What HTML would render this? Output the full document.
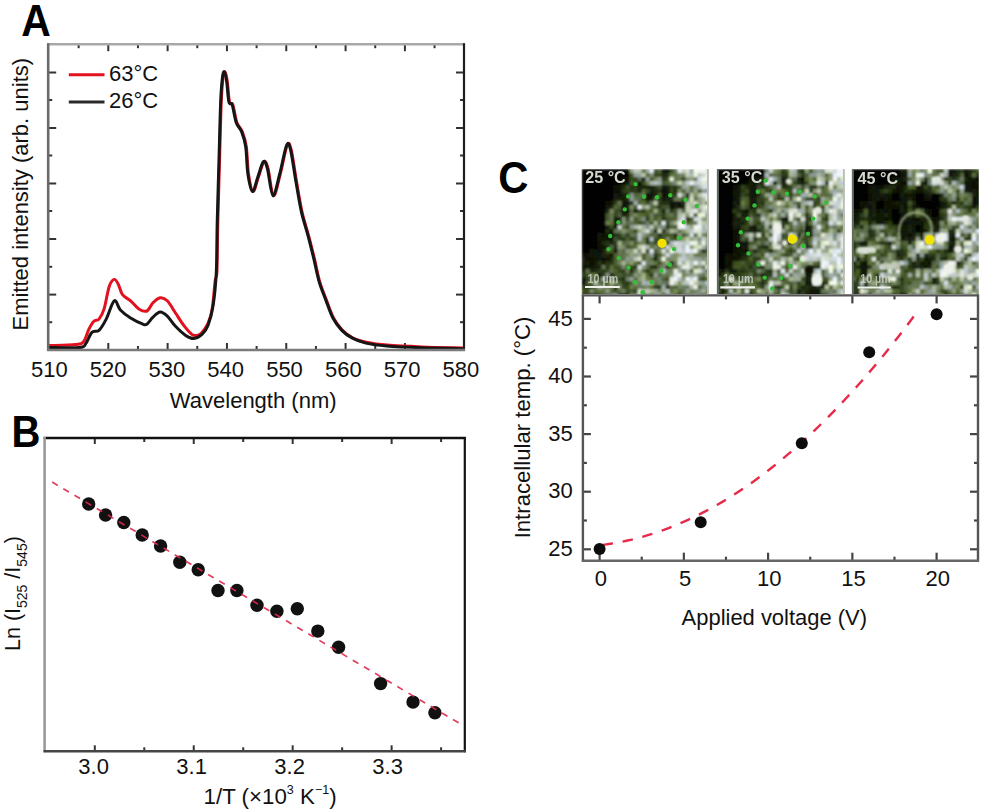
<!DOCTYPE html>
<html><head><meta charset="utf-8"><style>
html,body{margin:0;padding:0;background:#fff;}
svg{display:block;font-family:"Liberation Sans", sans-serif;}
</style></head><body>
<svg width="981" height="811" viewBox="0 0 981 811">
<rect width="981" height="811" fill="#fff"/>
<line x1="48.20" y1="72.50" x2="56.20" y2="72.50" stroke="#333" stroke-width="2" />
<line x1="464.00" y1="72.50" x2="456.00" y2="72.50" stroke="#333" stroke-width="2" />
<line x1="48.20" y1="100.00" x2="52.20" y2="100.00" stroke="#333" stroke-width="2" />
<line x1="464.00" y1="100.00" x2="460.00" y2="100.00" stroke="#333" stroke-width="2" />
<line x1="48.20" y1="128.00" x2="56.20" y2="128.00" stroke="#333" stroke-width="2" />
<line x1="464.00" y1="128.00" x2="456.00" y2="128.00" stroke="#333" stroke-width="2" />
<line x1="48.20" y1="155.50" x2="52.20" y2="155.50" stroke="#333" stroke-width="2" />
<line x1="464.00" y1="155.50" x2="460.00" y2="155.50" stroke="#333" stroke-width="2" />
<line x1="48.20" y1="183.50" x2="56.20" y2="183.50" stroke="#333" stroke-width="2" />
<line x1="464.00" y1="183.50" x2="456.00" y2="183.50" stroke="#333" stroke-width="2" />
<line x1="48.20" y1="211.00" x2="52.20" y2="211.00" stroke="#333" stroke-width="2" />
<line x1="464.00" y1="211.00" x2="460.00" y2="211.00" stroke="#333" stroke-width="2" />
<line x1="48.20" y1="239.00" x2="56.20" y2="239.00" stroke="#333" stroke-width="2" />
<line x1="464.00" y1="239.00" x2="456.00" y2="239.00" stroke="#333" stroke-width="2" />
<line x1="48.20" y1="266.80" x2="52.20" y2="266.80" stroke="#333" stroke-width="2" />
<line x1="464.00" y1="266.80" x2="460.00" y2="266.80" stroke="#333" stroke-width="2" />
<line x1="48.20" y1="294.60" x2="56.20" y2="294.60" stroke="#333" stroke-width="2" />
<line x1="464.00" y1="294.60" x2="456.00" y2="294.60" stroke="#333" stroke-width="2" />
<line x1="48.20" y1="322.20" x2="52.20" y2="322.20" stroke="#333" stroke-width="2" />
<line x1="464.00" y1="322.20" x2="460.00" y2="322.20" stroke="#333" stroke-width="2" />
<line x1="78.64" y1="44.20" x2="78.64" y2="48.20" stroke="#333" stroke-width="2" />
<line x1="78.64" y1="350.00" x2="78.64" y2="346.00" stroke="#333" stroke-width="2" />
<line x1="108.30" y1="44.20" x2="108.30" y2="51.20" stroke="#333" stroke-width="2" />
<line x1="108.30" y1="350.00" x2="108.30" y2="343.00" stroke="#333" stroke-width="2" />
<line x1="137.96" y1="44.20" x2="137.96" y2="48.20" stroke="#333" stroke-width="2" />
<line x1="137.96" y1="350.00" x2="137.96" y2="346.00" stroke="#333" stroke-width="2" />
<line x1="167.62" y1="44.20" x2="167.62" y2="51.20" stroke="#333" stroke-width="2" />
<line x1="167.62" y1="350.00" x2="167.62" y2="343.00" stroke="#333" stroke-width="2" />
<line x1="197.28" y1="44.20" x2="197.28" y2="48.20" stroke="#333" stroke-width="2" />
<line x1="197.28" y1="350.00" x2="197.28" y2="346.00" stroke="#333" stroke-width="2" />
<line x1="226.94" y1="44.20" x2="226.94" y2="51.20" stroke="#333" stroke-width="2" />
<line x1="226.94" y1="350.00" x2="226.94" y2="343.00" stroke="#333" stroke-width="2" />
<line x1="256.60" y1="44.20" x2="256.60" y2="48.20" stroke="#333" stroke-width="2" />
<line x1="256.60" y1="350.00" x2="256.60" y2="346.00" stroke="#333" stroke-width="2" />
<line x1="286.26" y1="44.20" x2="286.26" y2="51.20" stroke="#333" stroke-width="2" />
<line x1="286.26" y1="350.00" x2="286.26" y2="343.00" stroke="#333" stroke-width="2" />
<line x1="315.92" y1="44.20" x2="315.92" y2="48.20" stroke="#333" stroke-width="2" />
<line x1="315.92" y1="350.00" x2="315.92" y2="346.00" stroke="#333" stroke-width="2" />
<line x1="345.58" y1="44.20" x2="345.58" y2="51.20" stroke="#333" stroke-width="2" />
<line x1="345.58" y1="350.00" x2="345.58" y2="343.00" stroke="#333" stroke-width="2" />
<line x1="375.24" y1="44.20" x2="375.24" y2="48.20" stroke="#333" stroke-width="2" />
<line x1="375.24" y1="350.00" x2="375.24" y2="346.00" stroke="#333" stroke-width="2" />
<line x1="404.90" y1="44.20" x2="404.90" y2="51.20" stroke="#333" stroke-width="2" />
<line x1="404.90" y1="350.00" x2="404.90" y2="343.00" stroke="#333" stroke-width="2" />
<line x1="434.56" y1="44.20" x2="434.56" y2="48.20" stroke="#333" stroke-width="2" />
<line x1="434.56" y1="350.00" x2="434.56" y2="346.00" stroke="#333" stroke-width="2" />
<path d="M49.00,345.60 C53.43,345.43 69.82,345.28 75.60,344.60 C81.38,343.92 81.50,344.05 83.70,341.50 C85.90,338.95 87.10,332.68 88.80,329.30 C90.50,325.92 92.20,322.90 93.90,321.20 C95.60,319.50 97.30,321.15 99.00,319.10 C100.70,317.05 102.40,314.33 104.10,308.90 C105.80,303.47 107.50,291.42 109.20,286.50 C110.90,281.58 112.77,279.73 114.30,279.40 C115.83,279.07 117.03,281.95 118.40,284.50 C119.77,287.05 120.47,291.98 122.50,294.70 C124.53,297.42 127.88,298.43 130.60,300.80 C133.32,303.17 136.08,307.20 138.80,308.90 C141.52,310.60 144.53,312.02 146.90,311.00 C149.27,309.98 150.78,305.02 153.00,302.80 C155.22,300.58 157.82,298.03 160.20,297.70 C162.58,297.37 164.75,298.25 167.30,300.80 C169.85,303.35 172.78,308.93 175.50,313.00 C178.22,317.07 180.88,321.63 183.60,325.20 C186.32,328.77 189.58,332.70 191.80,334.40 C194.02,336.10 195.20,335.73 196.90,335.40 C198.60,335.07 200.13,334.43 202.00,332.40 C203.87,330.37 206.40,327.12 208.10,323.20 C209.80,319.28 211.02,316.03 212.20,308.90 C213.38,301.77 214.42,286.52 215.20,280.40 C215.98,274.28 216.47,281.80 216.90,272.20 C217.33,262.60 217.33,242.33 217.80,222.80 C218.27,203.27 219.12,175.35 219.70,155.00 C220.28,134.65 220.72,113.82 221.30,100.70 C221.88,87.58 222.57,81.05 223.20,76.30 C223.83,71.55 224.42,71.30 225.10,72.20 C225.78,73.10 226.57,76.73 227.30,81.70 C228.03,86.67 228.58,98.15 229.50,102.00 C230.42,105.85 231.58,101.40 232.80,104.80 C234.02,108.20 235.22,117.88 236.80,122.40 C238.38,126.92 240.72,127.83 242.30,131.90 C243.88,135.97 245.27,139.78 246.30,146.80 C247.33,153.82 247.37,166.53 248.50,174.00 C249.63,181.47 251.43,191.15 253.10,191.60 C254.77,192.05 256.68,181.68 258.50,176.70 C260.32,171.72 262.42,163.07 264.00,161.70 C265.58,160.33 266.42,162.85 268.00,168.50 C269.58,174.15 271.45,194.68 273.50,195.60 C275.55,196.52 278.03,182.35 280.30,174.00 C282.57,165.65 285.30,149.58 287.10,145.50 C288.90,141.42 289.52,143.40 291.10,149.50 C292.68,155.60 294.78,171.70 296.60,182.10 C298.42,192.50 299.97,202.87 302.00,211.90 C304.03,220.93 306.72,228.43 308.80,236.30 C310.88,244.17 312.68,251.55 314.50,259.10 C316.32,266.65 317.68,274.68 319.70,281.60 C321.72,288.52 324.30,294.53 326.60,300.60 C328.90,306.67 330.90,313.08 333.50,318.00 C336.10,322.92 339.02,326.78 342.20,330.10 C345.38,333.42 348.57,335.88 352.60,337.90 C356.63,339.92 360.63,341.00 366.40,342.20 C372.17,343.40 377.95,344.32 387.20,345.10 C396.45,345.88 409.18,346.43 421.90,346.90 C434.62,347.37 456.57,347.73 463.50,347.90" fill="none" stroke="#e3101e" stroke-width="3" stroke-linejoin="round"/>
<path d="M49.00,347.50 C54.12,347.50 73.57,348.15 79.70,347.50 C85.83,346.85 83.77,346.12 85.80,343.60 C87.83,341.08 89.70,334.62 91.90,332.40 C94.10,330.18 96.62,332.52 99.00,330.30 C101.38,328.08 103.65,324.02 106.20,319.10 C108.75,314.18 111.93,302.32 114.30,300.80 C116.67,299.28 117.68,307.12 120.40,310.00 C123.12,312.88 126.85,315.73 130.60,318.10 C134.35,320.47 140.18,323.18 142.90,324.20 C145.62,325.22 145.22,325.38 146.90,324.20 C148.58,323.02 150.78,319.13 153.00,317.10 C155.22,315.07 157.82,312.17 160.20,312.00 C162.58,311.83 164.75,313.72 167.30,316.10 C169.85,318.48 172.43,323.08 175.50,326.30 C178.57,329.52 182.65,333.37 185.70,335.40 C188.75,337.43 191.08,338.67 193.80,338.50 C196.52,338.33 199.62,336.62 202.00,334.40 C204.38,332.18 206.23,330.12 208.10,325.20 C209.97,320.28 211.83,313.73 213.20,304.90 C214.57,296.07 215.63,285.88 216.30,272.20 C216.97,258.52 216.73,242.33 217.20,222.80 C217.67,203.27 218.52,175.35 219.10,155.00 C219.68,134.65 220.12,113.82 220.70,100.70 C221.28,87.58 221.97,81.05 222.60,76.30 C223.23,71.55 223.82,71.30 224.50,72.20 C225.18,73.10 225.97,76.73 226.70,81.70 C227.43,86.67 227.98,98.15 228.90,102.00 C229.82,105.85 230.98,101.40 232.20,104.80 C233.42,108.20 234.62,117.88 236.20,122.40 C237.78,126.92 240.12,127.83 241.70,131.90 C243.28,135.97 244.67,139.78 245.70,146.80 C246.73,153.82 246.77,166.53 247.90,174.00 C249.03,181.47 250.83,191.15 252.50,191.60 C254.17,192.05 256.08,181.68 257.90,176.70 C259.72,171.72 261.82,163.07 263.40,161.70 C264.98,160.33 265.82,162.85 267.40,168.50 C268.98,174.15 270.85,194.68 272.90,195.60 C274.95,196.52 277.43,182.35 279.70,174.00 C281.97,165.65 284.70,149.58 286.50,145.50 C288.30,141.42 288.92,143.40 290.50,149.50 C292.08,155.60 294.18,171.70 296.00,182.10 C297.82,192.50 299.37,202.87 301.40,211.90 C303.43,220.93 306.12,228.43 308.20,236.30 C310.28,244.17 312.08,251.55 313.90,259.10 C315.72,266.65 317.08,274.68 319.10,281.60 C321.12,288.52 323.70,294.53 326.00,300.60 C328.30,306.67 330.30,313.08 332.90,318.00 C335.50,322.92 338.42,326.78 341.60,330.10 C344.78,333.42 347.97,335.73 352.00,337.90 C356.03,340.07 360.03,341.75 365.80,343.10 C371.57,344.45 377.35,345.22 386.60,346.00 C395.85,346.78 408.58,347.33 421.30,347.80 C434.02,348.27 455.97,348.63 462.90,348.80" fill="none" stroke="#161616" stroke-width="3" stroke-linejoin="round"/>
<line x1="47.20" y1="44.20" x2="465.00" y2="44.20" stroke="#a8a8a8" stroke-width="2.4" />
<line x1="48.20" y1="43.20" x2="48.20" y2="351.00" stroke="#6a6a6a" stroke-width="2.6" />
<line x1="464.00" y1="43.20" x2="464.00" y2="351.00" stroke="#1e1e1e" stroke-width="2.2" />
<line x1="47.20" y1="350.00" x2="465.00" y2="350.00" stroke="#7a7a7a" stroke-width="2.4" />
<line x1="68.80" y1="74.70" x2="104.50" y2="74.70" stroke="#e3101e" stroke-width="3" />
<line x1="68.80" y1="102.00" x2="104.50" y2="102.00" stroke="#2a2a2a" stroke-width="3" />
<text x="109.00" y="80.60" font-size="22" text-anchor="start" font-weight="normal" fill="#111" >63°C</text>
<text x="109.00" y="107.60" font-size="22" text-anchor="start" font-weight="normal" fill="#111" >26°C</text>
<text x="49.30" y="377.00" font-size="22" text-anchor="middle" font-weight="normal" fill="#111" >510</text>
<text x="108.10" y="377.00" font-size="22" text-anchor="middle" font-weight="normal" fill="#111" >520</text>
<text x="166.90" y="377.00" font-size="22" text-anchor="middle" font-weight="normal" fill="#111" >530</text>
<text x="225.70" y="377.00" font-size="22" text-anchor="middle" font-weight="normal" fill="#111" >540</text>
<text x="284.50" y="377.00" font-size="22" text-anchor="middle" font-weight="normal" fill="#111" >550</text>
<text x="343.30" y="377.00" font-size="22" text-anchor="middle" font-weight="normal" fill="#111" >560</text>
<text x="402.10" y="377.00" font-size="22" text-anchor="middle" font-weight="normal" fill="#111" >570</text>
<text x="460.90" y="377.00" font-size="22" text-anchor="middle" font-weight="normal" fill="#111" >580</text>
<text x="253.20" y="408.00" font-size="22" text-anchor="middle" font-weight="normal" fill="#111" >Wavelength (nm)</text>
<text transform="translate(27.7,194.2) rotate(-90)" font-size="22" text-anchor="middle" fill="#111">Emitted intensity (arb. units)</text>
<text transform="translate(21.3,36) scale(0.93,1)" font-size="44" font-weight="bold" fill="#000">A</text>
<line x1="94.80" y1="438.00" x2="94.80" y2="444.00" stroke="#333" stroke-width="2" />
<line x1="94.80" y1="751.30" x2="94.80" y2="745.30" stroke="#333" stroke-width="2" />
<line x1="144.27" y1="438.00" x2="144.27" y2="442.00" stroke="#333" stroke-width="2" />
<line x1="144.27" y1="751.30" x2="144.27" y2="747.30" stroke="#333" stroke-width="2" />
<line x1="193.74" y1="438.00" x2="193.74" y2="444.00" stroke="#333" stroke-width="2" />
<line x1="193.74" y1="751.30" x2="193.74" y2="745.30" stroke="#333" stroke-width="2" />
<line x1="243.21" y1="438.00" x2="243.21" y2="442.00" stroke="#333" stroke-width="2" />
<line x1="243.21" y1="751.30" x2="243.21" y2="747.30" stroke="#333" stroke-width="2" />
<line x1="292.68" y1="438.00" x2="292.68" y2="444.00" stroke="#333" stroke-width="2" />
<line x1="292.68" y1="751.30" x2="292.68" y2="745.30" stroke="#333" stroke-width="2" />
<line x1="342.15" y1="438.00" x2="342.15" y2="442.00" stroke="#333" stroke-width="2" />
<line x1="342.15" y1="751.30" x2="342.15" y2="747.30" stroke="#333" stroke-width="2" />
<line x1="391.62" y1="438.00" x2="391.62" y2="444.00" stroke="#333" stroke-width="2" />
<line x1="391.62" y1="751.30" x2="391.62" y2="745.30" stroke="#333" stroke-width="2" />
<line x1="441.09" y1="438.00" x2="441.09" y2="442.00" stroke="#333" stroke-width="2" />
<line x1="441.09" y1="751.30" x2="441.09" y2="747.30" stroke="#333" stroke-width="2" />
<circle cx="88.7" cy="504" r="6.7" fill="#111"/>
<circle cx="105.6" cy="515" r="6.7" fill="#111"/>
<circle cx="123.8" cy="522.5" r="6.7" fill="#111"/>
<circle cx="142.2" cy="535" r="6.7" fill="#111"/>
<circle cx="160.6" cy="546" r="6.7" fill="#111"/>
<circle cx="179.8" cy="562.2" r="6.7" fill="#111"/>
<circle cx="198.2" cy="569.8" r="6.7" fill="#111"/>
<circle cx="218" cy="590.5" r="6.7" fill="#111"/>
<circle cx="236.9" cy="590.5" r="6.7" fill="#111"/>
<circle cx="257" cy="605.3" r="6.7" fill="#111"/>
<circle cx="276.9" cy="611.3" r="6.7" fill="#111"/>
<circle cx="297.3" cy="608.8" r="6.7" fill="#111"/>
<circle cx="317.8" cy="631.1" r="6.7" fill="#111"/>
<circle cx="338.6" cy="647.3" r="6.7" fill="#111"/>
<circle cx="380.6" cy="683.6" r="6.7" fill="#111"/>
<circle cx="413" cy="702.1" r="6.7" fill="#111"/>
<circle cx="434.9" cy="712.7" r="6.7" fill="#111"/>
<line x1="52.2" y1="482.1" x2="458.7" y2="722.9" stroke="#e0284e" stroke-width="1.7" stroke-dasharray="6.5 6.44" opacity="0.9"/>
<line x1="43.60" y1="438.00" x2="465.80" y2="438.00" stroke="#111" stroke-width="2.4" />
<line x1="44.60" y1="437.00" x2="44.60" y2="752.30" stroke="#9a9a9a" stroke-width="2.6" />
<line x1="464.80" y1="437.00" x2="464.80" y2="752.30" stroke="#111" stroke-width="2.2" />
<line x1="43.60" y1="751.30" x2="465.80" y2="751.30" stroke="#454545" stroke-width="2.6" />
<text x="93.60" y="774.00" font-size="22" text-anchor="middle" font-weight="normal" fill="#111" >3.0</text>
<text x="191.60" y="774.00" font-size="22" text-anchor="middle" font-weight="normal" fill="#111" >3.1</text>
<text x="289.60" y="774.00" font-size="22" text-anchor="middle" font-weight="normal" fill="#111" >3.2</text>
<text x="387.60" y="774.00" font-size="22" text-anchor="middle" font-weight="normal" fill="#111" >3.3</text>
<text x="203.6" y="803.7" font-size="22.3" fill="#111">1/T (×10<tspan font-size="12.5" dy="-9.5">3</tspan><tspan dy="9.5"> K</tspan><tspan font-size="12.5" dy="-9.5">−1</tspan><tspan dy="9.5">)</tspan></text>
<text transform="translate(20,651) rotate(-90)" font-size="21.5" fill="#111">Ln (I<tspan font-size="14" dy="7">525</tspan><tspan dy="-7"> /I</tspan><tspan font-size="14" dy="7">545</tspan><tspan dy="-7">)</tspan></text>
<text transform="translate(11.5,446.5) scale(0.91,1)" font-size="44" font-weight="bold" fill="#000">B</text>
<line x1="599.60" y1="560.70" x2="599.60" y2="552.70" stroke="#444" stroke-width="2.2" />
<line x1="599.60" y1="295.40" x2="599.60" y2="303.40" stroke="#444" stroke-width="2.2" />
<line x1="641.73" y1="560.70" x2="641.73" y2="556.70" stroke="#444" stroke-width="2.2" />
<line x1="641.73" y1="295.40" x2="641.73" y2="299.40" stroke="#444" stroke-width="2.2" />
<line x1="683.85" y1="560.70" x2="683.85" y2="552.70" stroke="#444" stroke-width="2.2" />
<line x1="683.85" y1="295.40" x2="683.85" y2="303.40" stroke="#444" stroke-width="2.2" />
<line x1="725.98" y1="560.70" x2="725.98" y2="556.70" stroke="#444" stroke-width="2.2" />
<line x1="725.98" y1="295.40" x2="725.98" y2="299.40" stroke="#444" stroke-width="2.2" />
<line x1="768.10" y1="560.70" x2="768.10" y2="552.70" stroke="#444" stroke-width="2.2" />
<line x1="768.10" y1="295.40" x2="768.10" y2="303.40" stroke="#444" stroke-width="2.2" />
<line x1="810.23" y1="560.70" x2="810.23" y2="556.70" stroke="#444" stroke-width="2.2" />
<line x1="810.23" y1="295.40" x2="810.23" y2="299.40" stroke="#444" stroke-width="2.2" />
<line x1="852.35" y1="560.70" x2="852.35" y2="552.70" stroke="#444" stroke-width="2.2" />
<line x1="852.35" y1="295.40" x2="852.35" y2="303.40" stroke="#444" stroke-width="2.2" />
<line x1="894.48" y1="560.70" x2="894.48" y2="556.70" stroke="#444" stroke-width="2.2" />
<line x1="894.48" y1="295.40" x2="894.48" y2="299.40" stroke="#444" stroke-width="2.2" />
<line x1="936.60" y1="560.70" x2="936.60" y2="552.70" stroke="#444" stroke-width="2.2" />
<line x1="936.60" y1="295.40" x2="936.60" y2="303.40" stroke="#444" stroke-width="2.2" />
<line x1="582.90" y1="549.30" x2="590.90" y2="549.30" stroke="#444" stroke-width="2.2" />
<line x1="978.00" y1="549.30" x2="970.00" y2="549.30" stroke="#444" stroke-width="2.2" />
<line x1="582.90" y1="520.50" x2="586.90" y2="520.50" stroke="#444" stroke-width="2.2" />
<line x1="978.00" y1="520.50" x2="974.00" y2="520.50" stroke="#444" stroke-width="2.2" />
<line x1="582.90" y1="491.70" x2="590.90" y2="491.70" stroke="#444" stroke-width="2.2" />
<line x1="978.00" y1="491.70" x2="970.00" y2="491.70" stroke="#444" stroke-width="2.2" />
<line x1="582.90" y1="462.90" x2="586.90" y2="462.90" stroke="#444" stroke-width="2.2" />
<line x1="978.00" y1="462.90" x2="974.00" y2="462.90" stroke="#444" stroke-width="2.2" />
<line x1="582.90" y1="434.10" x2="590.90" y2="434.10" stroke="#444" stroke-width="2.2" />
<line x1="978.00" y1="434.10" x2="970.00" y2="434.10" stroke="#444" stroke-width="2.2" />
<line x1="582.90" y1="405.30" x2="586.90" y2="405.30" stroke="#444" stroke-width="2.2" />
<line x1="978.00" y1="405.30" x2="974.00" y2="405.30" stroke="#444" stroke-width="2.2" />
<line x1="582.90" y1="376.50" x2="590.90" y2="376.50" stroke="#444" stroke-width="2.2" />
<line x1="978.00" y1="376.50" x2="970.00" y2="376.50" stroke="#444" stroke-width="2.2" />
<line x1="582.90" y1="347.70" x2="586.90" y2="347.70" stroke="#444" stroke-width="2.2" />
<line x1="978.00" y1="347.70" x2="974.00" y2="347.70" stroke="#444" stroke-width="2.2" />
<line x1="582.90" y1="318.90" x2="590.90" y2="318.90" stroke="#444" stroke-width="2.2" />
<line x1="978.00" y1="318.90" x2="970.00" y2="318.90" stroke="#444" stroke-width="2.2" />
<polyline points="599.6,545.3 605.0,544.6 610.3,543.8 615.7,542.9 621.0,541.9 626.4,540.8 631.7,539.6 637.1,538.2 642.4,536.8 647.8,535.2 653.1,533.6 658.5,531.8 663.9,529.9 669.2,527.9 674.6,525.7 679.9,523.5 685.3,521.1 690.6,518.7 696.0,516.1 701.3,513.4 706.7,510.6 712.1,507.7 717.4,504.7 722.8,501.6 728.1,498.3 733.5,495.0 738.8,491.5 744.2,487.9 749.5,484.2 754.9,480.4 760.2,476.5 765.6,472.5 771.0,468.3 776.3,464.1 781.7,459.7 787.0,455.2 792.4,450.6 797.7,445.9 803.1,441.1 808.4,436.2 813.8,431.1 819.1,426.0 824.5,420.7 829.9,415.3 835.2,409.8 840.6,404.2 845.9,398.5 851.3,392.7 856.6,386.8 862.0,380.7 867.3,374.6 872.7,368.3 878.1,361.9 883.4,355.4 888.8,348.8 894.1,342.1 899.5,335.2 904.8,328.3 910.2,321.2 915.5,314.1" fill="none" stroke="#e62a48" stroke-width="2.4" stroke-dasharray="10.5 9.8" stroke-dashoffset="-3"/>
<circle cx="599.6" cy="549.1" r="6" fill="#0c0c0c"/>
<circle cx="700.7" cy="522.2" r="6" fill="#0c0c0c"/>
<circle cx="801.8" cy="443.3" r="6" fill="#0c0c0c"/>
<circle cx="869.2" cy="352.3" r="6" fill="#0c0c0c"/>
<circle cx="936.6" cy="314.3" r="6" fill="#0c0c0c"/>
<line x1="581.90" y1="295.40" x2="979.00" y2="295.40" stroke="#555" stroke-width="2.4" />
<line x1="582.90" y1="294.40" x2="582.90" y2="561.70" stroke="#555" stroke-width="2.4" />
<line x1="978.00" y1="294.40" x2="978.00" y2="561.70" stroke="#555" stroke-width="2.4" />
<line x1="581.90" y1="560.70" x2="979.00" y2="560.70" stroke="#666" stroke-width="2.4" />
<text x="572.80" y="555.90" font-size="22" text-anchor="end" font-weight="normal" fill="#111" >25</text>
<text x="572.80" y="498.30" font-size="22" text-anchor="end" font-weight="normal" fill="#111" >30</text>
<text x="572.80" y="440.70" font-size="22" text-anchor="end" font-weight="normal" fill="#111" >35</text>
<text x="572.80" y="383.10" font-size="22" text-anchor="end" font-weight="normal" fill="#111" >40</text>
<text x="572.80" y="325.50" font-size="22" text-anchor="end" font-weight="normal" fill="#111" >45</text>
<text x="600.80" y="585.80" font-size="22" text-anchor="middle" font-weight="normal" fill="#111" >0</text>
<text x="685.05" y="585.80" font-size="22" text-anchor="middle" font-weight="normal" fill="#111" >5</text>
<text x="769.30" y="585.80" font-size="22" text-anchor="middle" font-weight="normal" fill="#111" >10</text>
<text x="853.55" y="585.80" font-size="22" text-anchor="middle" font-weight="normal" fill="#111" >15</text>
<text x="937.80" y="585.80" font-size="22" text-anchor="middle" font-weight="normal" fill="#111" >20</text>
<text x="774.30" y="625.20" font-size="21.95" text-anchor="middle" font-weight="normal" fill="#111" >Applied voltage (V)</text>
<text transform="translate(529.5,427.5) rotate(-90)" font-size="22.15" text-anchor="middle" fill="#111">Intracellular temp. (°C)</text>
<text transform="translate(498.3,193) scale(0.95,1)" font-size="44" font-weight="bold" fill="#000">C</text>
<defs><filter id="bl" x="0" y="0" width="1" height="1"><feGaussianBlur stdDeviation="1.1"/></filter><filter id="bl2"><feGaussianBlur stdDeviation="0.5"/></filter><filter id="bl3" x="-30%" y="-30%" width="160%" height="160%"><feGaussianBlur stdDeviation="0.8"/></filter></defs>
<svg x="581.6" y="169.1" width="127.2" height="125" viewBox="581.6 169.1 127.2 125" overflow="hidden"><g filter="url(#bl)">
<rect x="581.6" y="169.1" width="4.6" height="4.6" fill="#040502"/>
<rect x="585.6" y="169.1" width="4.6" height="4.6" fill="#040502"/>
<rect x="589.6" y="169.1" width="4.6" height="4.6" fill="#040502"/>
<rect x="593.6" y="169.1" width="4.6" height="4.6" fill="#040502"/>
<rect x="597.6" y="169.1" width="4.6" height="4.6" fill="#040502"/>
<rect x="601.6" y="169.1" width="4.6" height="4.6" fill="#040502"/>
<rect x="605.6" y="169.1" width="4.6" height="4.6" fill="#040502"/>
<rect x="609.6" y="169.1" width="4.6" height="4.6" fill="#040502"/>
<rect x="613.6" y="169.1" width="4.6" height="4.6" fill="#040502"/>
<rect x="617.6" y="169.1" width="4.6" height="4.6" fill="#040502"/>
<rect x="621.6" y="169.1" width="4.6" height="4.6" fill="#040502"/>
<rect x="625.6" y="169.1" width="4.6" height="4.6" fill="#050703"/>
<rect x="629.6" y="169.1" width="4.6" height="4.6" fill="#8d9d71"/>
<rect x="633.6" y="169.1" width="4.6" height="4.6" fill="#bbc6c8"/>
<rect x="637.6" y="169.1" width="4.6" height="4.6" fill="#b6c3a1"/>
<rect x="641.6" y="169.1" width="4.6" height="4.6" fill="#5d7156"/>
<rect x="645.6" y="169.1" width="4.6" height="4.6" fill="#99a592"/>
<rect x="649.6" y="169.1" width="4.6" height="4.6" fill="#e4ecfa"/>
<rect x="653.6" y="169.1" width="4.6" height="4.6" fill="#3e502b"/>
<rect x="657.6" y="169.1" width="4.6" height="4.6" fill="#4f633d"/>
<rect x="661.6" y="169.1" width="4.6" height="4.6" fill="#0f1407"/>
<rect x="665.6" y="169.1" width="4.6" height="4.6" fill="#11180a"/>
<rect x="669.6" y="169.1" width="4.6" height="4.6" fill="#304214"/>
<rect x="673.6" y="169.1" width="4.6" height="4.6" fill="#64775a"/>
<rect x="677.6" y="169.1" width="4.6" height="4.6" fill="#e7edf1"/>
<rect x="681.6" y="169.1" width="4.6" height="4.6" fill="#c1cdb0"/>
<rect x="685.6" y="169.1" width="4.6" height="4.6" fill="#d6dee2"/>
<rect x="689.6" y="169.1" width="4.6" height="4.6" fill="#95a394"/>
<rect x="693.6" y="169.1" width="4.6" height="4.6" fill="#f6fbeb"/>
<rect x="697.6" y="169.1" width="4.6" height="4.6" fill="#f2f6f7"/>
<rect x="701.6" y="169.1" width="4.6" height="4.6" fill="#f6fbeb"/>
<rect x="705.6" y="169.1" width="4.6" height="4.6" fill="#dae2d2"/>
<rect x="581.6" y="173.1" width="4.6" height="4.6" fill="#040502"/>
<rect x="585.6" y="173.1" width="4.6" height="4.6" fill="#040502"/>
<rect x="589.6" y="173.1" width="4.6" height="4.6" fill="#040502"/>
<rect x="593.6" y="173.1" width="4.6" height="4.6" fill="#040502"/>
<rect x="597.6" y="173.1" width="4.6" height="4.6" fill="#040502"/>
<rect x="601.6" y="173.1" width="4.6" height="4.6" fill="#040502"/>
<rect x="605.6" y="173.1" width="4.6" height="4.6" fill="#040502"/>
<rect x="609.6" y="173.1" width="4.6" height="4.6" fill="#040502"/>
<rect x="613.6" y="173.1" width="4.6" height="4.6" fill="#040502"/>
<rect x="617.6" y="173.1" width="4.6" height="4.6" fill="#040502"/>
<rect x="621.6" y="173.1" width="4.6" height="4.6" fill="#040502"/>
<rect x="625.6" y="173.1" width="4.6" height="4.6" fill="#050602"/>
<rect x="629.6" y="173.1" width="4.6" height="4.6" fill="#3e511c"/>
<rect x="633.6" y="173.1" width="4.6" height="4.6" fill="#8f9f99"/>
<rect x="637.6" y="173.1" width="4.6" height="4.6" fill="#97a6a0"/>
<rect x="641.6" y="173.1" width="4.6" height="4.6" fill="#bfcaaf"/>
<rect x="645.6" y="173.1" width="4.6" height="4.6" fill="#536730"/>
<rect x="649.6" y="173.1" width="4.6" height="4.6" fill="#7f8f7b"/>
<rect x="653.6" y="173.1" width="4.6" height="4.6" fill="#34441e"/>
<rect x="657.6" y="173.1" width="4.6" height="4.6" fill="#38491f"/>
<rect x="661.6" y="173.1" width="4.6" height="4.6" fill="#1d2810"/>
<rect x="665.6" y="173.1" width="4.6" height="4.6" fill="#25330f"/>
<rect x="669.6" y="173.1" width="4.6" height="4.6" fill="#607243"/>
<rect x="673.6" y="173.1" width="4.6" height="4.6" fill="#62763b"/>
<rect x="677.6" y="173.1" width="4.6" height="4.6" fill="#708270"/>
<rect x="681.6" y="173.1" width="4.6" height="4.6" fill="#758659"/>
<rect x="685.6" y="173.1" width="4.6" height="4.6" fill="#c6d0b9"/>
<rect x="689.6" y="173.1" width="4.6" height="4.6" fill="#abb7af"/>
<rect x="693.6" y="173.1" width="4.6" height="4.6" fill="#eef4e6"/>
<rect x="697.6" y="173.1" width="4.6" height="4.6" fill="#bbc6ab"/>
<rect x="701.6" y="173.1" width="4.6" height="4.6" fill="#ccd6e0"/>
<rect x="705.6" y="173.1" width="4.6" height="4.6" fill="#f0f6e7"/>
<rect x="581.6" y="177.1" width="4.6" height="4.6" fill="#040502"/>
<rect x="585.6" y="177.1" width="4.6" height="4.6" fill="#040502"/>
<rect x="589.6" y="177.1" width="4.6" height="4.6" fill="#040502"/>
<rect x="593.6" y="177.1" width="4.6" height="4.6" fill="#040502"/>
<rect x="597.6" y="177.1" width="4.6" height="4.6" fill="#040502"/>
<rect x="601.6" y="177.1" width="4.6" height="4.6" fill="#040502"/>
<rect x="605.6" y="177.1" width="4.6" height="4.6" fill="#040502"/>
<rect x="609.6" y="177.1" width="4.6" height="4.6" fill="#040502"/>
<rect x="613.6" y="177.1" width="4.6" height="4.6" fill="#040502"/>
<rect x="617.6" y="177.1" width="4.6" height="4.6" fill="#040502"/>
<rect x="621.6" y="177.1" width="4.6" height="4.6" fill="#0b0f06"/>
<rect x="625.6" y="177.1" width="4.6" height="4.6" fill="#0a0d04"/>
<rect x="629.6" y="177.1" width="4.6" height="4.6" fill="#374a18"/>
<rect x="633.6" y="177.1" width="4.6" height="4.6" fill="#2e3f1d"/>
<rect x="637.6" y="177.1" width="4.6" height="4.6" fill="#5c6f53"/>
<rect x="641.6" y="177.1" width="4.6" height="4.6" fill="#141b07"/>
<rect x="645.6" y="177.1" width="4.6" height="4.6" fill="#94a3a0"/>
<rect x="649.6" y="177.1" width="4.6" height="4.6" fill="#3d501d"/>
<rect x="653.6" y="177.1" width="4.6" height="4.6" fill="#70834e"/>
<rect x="657.6" y="177.1" width="4.6" height="4.6" fill="#8e9b89"/>
<rect x="661.6" y="177.1" width="4.6" height="4.6" fill="#243319"/>
<rect x="665.6" y="177.1" width="4.6" height="4.6" fill="#3e501d"/>
<rect x="669.6" y="177.1" width="4.6" height="4.6" fill="#edf5db"/>
<rect x="673.6" y="177.1" width="4.6" height="4.6" fill="#62734f"/>
<rect x="677.6" y="177.1" width="4.6" height="4.6" fill="#647647"/>
<rect x="681.6" y="177.1" width="4.6" height="4.6" fill="#32421c"/>
<rect x="685.6" y="177.1" width="4.6" height="4.6" fill="#7f8f7e"/>
<rect x="689.6" y="177.1" width="4.6" height="4.6" fill="#8fa072"/>
<rect x="693.6" y="177.1" width="4.6" height="4.6" fill="#6c7d65"/>
<rect x="697.6" y="177.1" width="4.6" height="4.6" fill="#d6dfe8"/>
<rect x="701.6" y="177.1" width="4.6" height="4.6" fill="#f2f6ef"/>
<rect x="705.6" y="177.1" width="4.6" height="4.6" fill="#eff6dd"/>
<rect x="581.6" y="181.1" width="4.6" height="4.6" fill="#040502"/>
<rect x="585.6" y="181.1" width="4.6" height="4.6" fill="#040502"/>
<rect x="589.6" y="181.1" width="4.6" height="4.6" fill="#040502"/>
<rect x="593.6" y="181.1" width="4.6" height="4.6" fill="#040502"/>
<rect x="597.6" y="181.1" width="4.6" height="4.6" fill="#040502"/>
<rect x="601.6" y="181.1" width="4.6" height="4.6" fill="#040502"/>
<rect x="605.6" y="181.1" width="4.6" height="4.6" fill="#040502"/>
<rect x="609.6" y="181.1" width="4.6" height="4.6" fill="#040502"/>
<rect x="613.6" y="181.1" width="4.6" height="4.6" fill="#040502"/>
<rect x="617.6" y="181.1" width="4.6" height="4.6" fill="#040502"/>
<rect x="621.6" y="181.1" width="4.6" height="4.6" fill="#0d1106"/>
<rect x="625.6" y="181.1" width="4.6" height="4.6" fill="#0e150a"/>
<rect x="629.6" y="181.1" width="4.6" height="4.6" fill="#45572f"/>
<rect x="633.6" y="181.1" width="4.6" height="4.6" fill="#32431a"/>
<rect x="637.6" y="181.1" width="4.6" height="4.6" fill="#0c1005"/>
<rect x="641.6" y="181.1" width="4.6" height="4.6" fill="#37491c"/>
<rect x="645.6" y="181.1" width="4.6" height="4.6" fill="#6c7f49"/>
<rect x="649.6" y="181.1" width="4.6" height="4.6" fill="#a8b5b2"/>
<rect x="653.6" y="181.1" width="4.6" height="4.6" fill="#bac3ba"/>
<rect x="657.6" y="181.1" width="4.6" height="4.6" fill="#9eacac"/>
<rect x="661.6" y="181.1" width="4.6" height="4.6" fill="#475a34"/>
<rect x="665.6" y="181.1" width="4.6" height="4.6" fill="#516438"/>
<rect x="669.6" y="181.1" width="4.6" height="4.6" fill="#68795b"/>
<rect x="673.6" y="181.1" width="4.6" height="4.6" fill="#7e9084"/>
<rect x="677.6" y="181.1" width="4.6" height="4.6" fill="#c6d3b0"/>
<rect x="681.6" y="181.1" width="4.6" height="4.6" fill="#93a085"/>
<rect x="685.6" y="181.1" width="4.6" height="4.6" fill="#c1ccd3"/>
<rect x="689.6" y="181.1" width="4.6" height="4.6" fill="#f0f5fd"/>
<rect x="693.6" y="181.1" width="4.6" height="4.6" fill="#c4cecd"/>
<rect x="697.6" y="181.1" width="4.6" height="4.6" fill="#cbd4d4"/>
<rect x="701.6" y="181.1" width="4.6" height="4.6" fill="#e4ecd7"/>
<rect x="705.6" y="181.1" width="4.6" height="4.6" fill="#d0d9df"/>
<rect x="581.6" y="185.1" width="4.6" height="4.6" fill="#040502"/>
<rect x="585.6" y="185.1" width="4.6" height="4.6" fill="#040502"/>
<rect x="589.6" y="185.1" width="4.6" height="4.6" fill="#040502"/>
<rect x="593.6" y="185.1" width="4.6" height="4.6" fill="#040502"/>
<rect x="597.6" y="185.1" width="4.6" height="4.6" fill="#040502"/>
<rect x="601.6" y="185.1" width="4.6" height="4.6" fill="#040502"/>
<rect x="605.6" y="185.1" width="4.6" height="4.6" fill="#040502"/>
<rect x="609.6" y="185.1" width="4.6" height="4.6" fill="#040502"/>
<rect x="613.6" y="185.1" width="4.6" height="4.6" fill="#0c1104"/>
<rect x="617.6" y="185.1" width="4.6" height="4.6" fill="#0f1405"/>
<rect x="621.6" y="185.1" width="4.6" height="4.6" fill="#1f2a0f"/>
<rect x="625.6" y="185.1" width="4.6" height="4.6" fill="#3d4e24"/>
<rect x="629.6" y="185.1" width="4.6" height="4.6" fill="#253312"/>
<rect x="633.6" y="185.1" width="4.6" height="4.6" fill="#2c3c17"/>
<rect x="637.6" y="185.1" width="4.6" height="4.6" fill="#17200c"/>
<rect x="641.6" y="185.1" width="4.6" height="4.6" fill="#19220f"/>
<rect x="645.6" y="185.1" width="4.6" height="4.6" fill="#161e07"/>
<rect x="649.6" y="185.1" width="4.6" height="4.6" fill="#17200f"/>
<rect x="653.6" y="185.1" width="4.6" height="4.6" fill="#273614"/>
<rect x="657.6" y="185.1" width="4.6" height="4.6" fill="#41532a"/>
<rect x="661.6" y="185.1" width="4.6" height="4.6" fill="#0f150a"/>
<rect x="665.6" y="185.1" width="4.6" height="4.6" fill="#192208"/>
<rect x="669.6" y="185.1" width="4.6" height="4.6" fill="#2f4112"/>
<rect x="673.6" y="185.1" width="4.6" height="4.6" fill="#26361a"/>
<rect x="677.6" y="185.1" width="4.6" height="4.6" fill="#41532c"/>
<rect x="681.6" y="185.1" width="4.6" height="4.6" fill="#93a3a1"/>
<rect x="685.6" y="185.1" width="4.6" height="4.6" fill="#9ca98f"/>
<rect x="689.6" y="185.1" width="4.6" height="4.6" fill="#5f723d"/>
<rect x="693.6" y="185.1" width="4.6" height="4.6" fill="#87988d"/>
<rect x="697.6" y="185.1" width="4.6" height="4.6" fill="#aab5af"/>
<rect x="701.6" y="185.1" width="4.6" height="4.6" fill="#d4dcdc"/>
<rect x="705.6" y="185.1" width="4.6" height="4.6" fill="#d8e2f0"/>
<rect x="581.6" y="189.1" width="4.6" height="4.6" fill="#040502"/>
<rect x="585.6" y="189.1" width="4.6" height="4.6" fill="#040502"/>
<rect x="589.6" y="189.1" width="4.6" height="4.6" fill="#040502"/>
<rect x="593.6" y="189.1" width="4.6" height="4.6" fill="#040502"/>
<rect x="597.6" y="189.1" width="4.6" height="4.6" fill="#040502"/>
<rect x="601.6" y="189.1" width="4.6" height="4.6" fill="#040502"/>
<rect x="605.6" y="189.1" width="4.6" height="4.6" fill="#040502"/>
<rect x="609.6" y="189.1" width="4.6" height="4.6" fill="#040502"/>
<rect x="613.6" y="189.1" width="4.6" height="4.6" fill="#0d1105"/>
<rect x="617.6" y="189.1" width="4.6" height="4.6" fill="#0c1108"/>
<rect x="621.6" y="189.1" width="4.6" height="4.6" fill="#283713"/>
<rect x="625.6" y="189.1" width="4.6" height="4.6" fill="#344619"/>
<rect x="629.6" y="189.1" width="4.6" height="4.6" fill="#263515"/>
<rect x="633.6" y="189.1" width="4.6" height="4.6" fill="#2c3c16"/>
<rect x="637.6" y="189.1" width="4.6" height="4.6" fill="#171f09"/>
<rect x="641.6" y="189.1" width="4.6" height="4.6" fill="#506333"/>
<rect x="645.6" y="189.1" width="4.6" height="4.6" fill="#394b26"/>
<rect x="649.6" y="189.1" width="4.6" height="4.6" fill="#151c0a"/>
<rect x="653.6" y="189.1" width="4.6" height="4.6" fill="#1c2711"/>
<rect x="657.6" y="189.1" width="4.6" height="4.6" fill="#233219"/>
<rect x="661.6" y="189.1" width="4.6" height="4.6" fill="#0c1107"/>
<rect x="665.6" y="189.1" width="4.6" height="4.6" fill="#111708"/>
<rect x="669.6" y="189.1" width="4.6" height="4.6" fill="#364818"/>
<rect x="673.6" y="189.1" width="4.6" height="4.6" fill="#1b250b"/>
<rect x="677.6" y="189.1" width="4.6" height="4.6" fill="#7d8d63"/>
<rect x="681.6" y="189.1" width="4.6" height="4.6" fill="#506233"/>
<rect x="685.6" y="189.1" width="4.6" height="4.6" fill="#889680"/>
<rect x="689.6" y="189.1" width="4.6" height="4.6" fill="#62755d"/>
<rect x="693.6" y="189.1" width="4.6" height="4.6" fill="#97a48a"/>
<rect x="697.6" y="189.1" width="4.6" height="4.6" fill="#4d5f2e"/>
<rect x="701.6" y="189.1" width="4.6" height="4.6" fill="#8b9b94"/>
<rect x="705.6" y="189.1" width="4.6" height="4.6" fill="#919f94"/>
<rect x="581.6" y="193.1" width="4.6" height="4.6" fill="#040502"/>
<rect x="585.6" y="193.1" width="4.6" height="4.6" fill="#040502"/>
<rect x="589.6" y="193.1" width="4.6" height="4.6" fill="#040502"/>
<rect x="593.6" y="193.1" width="4.6" height="4.6" fill="#040502"/>
<rect x="597.6" y="193.1" width="4.6" height="4.6" fill="#040502"/>
<rect x="601.6" y="193.1" width="4.6" height="4.6" fill="#040502"/>
<rect x="605.6" y="193.1" width="4.6" height="4.6" fill="#040502"/>
<rect x="609.6" y="193.1" width="4.6" height="4.6" fill="#040502"/>
<rect x="613.6" y="193.1" width="4.6" height="4.6" fill="#131a0c"/>
<rect x="617.6" y="193.1" width="4.6" height="4.6" fill="#0f1407"/>
<rect x="621.6" y="193.1" width="4.6" height="4.6" fill="#151d0d"/>
<rect x="625.6" y="193.1" width="4.6" height="4.6" fill="#222f13"/>
<rect x="629.6" y="193.1" width="4.6" height="4.6" fill="#87978d"/>
<rect x="633.6" y="193.1" width="4.6" height="4.6" fill="#4f6232"/>
<rect x="637.6" y="193.1" width="4.6" height="4.6" fill="#526642"/>
<rect x="641.6" y="193.1" width="4.6" height="4.6" fill="#70805b"/>
<rect x="645.6" y="193.1" width="4.6" height="4.6" fill="#0c1105"/>
<rect x="649.6" y="193.1" width="4.6" height="4.6" fill="#10170a"/>
<rect x="653.6" y="193.1" width="4.6" height="4.6" fill="#18210d"/>
<rect x="657.6" y="193.1" width="4.6" height="4.6" fill="#485b26"/>
<rect x="661.6" y="193.1" width="4.6" height="4.6" fill="#0b0f06"/>
<rect x="665.6" y="193.1" width="4.6" height="4.6" fill="#121907"/>
<rect x="669.6" y="193.1" width="4.6" height="4.6" fill="#2b3c11"/>
<rect x="673.6" y="193.1" width="4.6" height="4.6" fill="#2b3d1f"/>
<rect x="677.6" y="193.1" width="4.6" height="4.6" fill="#e1e6df"/>
<rect x="681.6" y="193.1" width="4.6" height="4.6" fill="#869480"/>
<rect x="685.6" y="193.1" width="4.6" height="4.6" fill="#1e2910"/>
<rect x="689.6" y="193.1" width="4.6" height="4.6" fill="#becaac"/>
<rect x="693.6" y="193.1" width="4.6" height="4.6" fill="#7a8b5c"/>
<rect x="697.6" y="193.1" width="4.6" height="4.6" fill="#b7c2ab"/>
<rect x="701.6" y="193.1" width="4.6" height="4.6" fill="#dee4e4"/>
<rect x="705.6" y="193.1" width="4.6" height="4.6" fill="#e6edf3"/>
<rect x="581.6" y="197.1" width="4.6" height="4.6" fill="#040502"/>
<rect x="585.6" y="197.1" width="4.6" height="4.6" fill="#040502"/>
<rect x="589.6" y="197.1" width="4.6" height="4.6" fill="#040502"/>
<rect x="593.6" y="197.1" width="4.6" height="4.6" fill="#040502"/>
<rect x="597.6" y="197.1" width="4.6" height="4.6" fill="#040502"/>
<rect x="601.6" y="197.1" width="4.6" height="4.6" fill="#040502"/>
<rect x="605.6" y="197.1" width="4.6" height="4.6" fill="#040502"/>
<rect x="609.6" y="197.1" width="4.6" height="4.6" fill="#040502"/>
<rect x="613.6" y="197.1" width="4.6" height="4.6" fill="#18210e"/>
<rect x="617.6" y="197.1" width="4.6" height="4.6" fill="#141b06"/>
<rect x="621.6" y="197.1" width="4.6" height="4.6" fill="#131a05"/>
<rect x="625.6" y="197.1" width="4.6" height="4.6" fill="#202c10"/>
<rect x="629.6" y="197.1" width="4.6" height="4.6" fill="#8e9d97"/>
<rect x="633.6" y="197.1" width="4.6" height="4.6" fill="#64775f"/>
<rect x="637.6" y="197.1" width="4.6" height="4.6" fill="#596c49"/>
<rect x="641.6" y="197.1" width="4.6" height="4.6" fill="#394a21"/>
<rect x="645.6" y="197.1" width="4.6" height="4.6" fill="#121806"/>
<rect x="649.6" y="197.1" width="4.6" height="4.6" fill="#121807"/>
<rect x="653.6" y="197.1" width="4.6" height="4.6" fill="#4f633f"/>
<rect x="657.6" y="197.1" width="4.6" height="4.6" fill="#2f401f"/>
<rect x="661.6" y="197.1" width="4.6" height="4.6" fill="#121807"/>
<rect x="665.6" y="197.1" width="4.6" height="4.6" fill="#17200c"/>
<rect x="669.6" y="197.1" width="4.6" height="4.6" fill="#1d2914"/>
<rect x="673.6" y="197.1" width="4.6" height="4.6" fill="#657653"/>
<rect x="677.6" y="197.1" width="4.6" height="4.6" fill="#687a4b"/>
<rect x="681.6" y="197.1" width="4.6" height="4.6" fill="#3f5027"/>
<rect x="685.6" y="197.1" width="4.6" height="4.6" fill="#4c5f2f"/>
<rect x="689.6" y="197.1" width="4.6" height="4.6" fill="#dae3cd"/>
<rect x="693.6" y="197.1" width="4.6" height="4.6" fill="#596d4f"/>
<rect x="697.6" y="197.1" width="4.6" height="4.6" fill="#8f9c83"/>
<rect x="701.6" y="197.1" width="4.6" height="4.6" fill="#afbaa7"/>
<rect x="705.6" y="197.1" width="4.6" height="4.6" fill="#eff5e8"/>
<rect x="581.6" y="201.1" width="4.6" height="4.6" fill="#040502"/>
<rect x="585.6" y="201.1" width="4.6" height="4.6" fill="#040502"/>
<rect x="589.6" y="201.1" width="4.6" height="4.6" fill="#040502"/>
<rect x="593.6" y="201.1" width="4.6" height="4.6" fill="#040502"/>
<rect x="597.6" y="201.1" width="4.6" height="4.6" fill="#040502"/>
<rect x="601.6" y="201.1" width="4.6" height="4.6" fill="#040502"/>
<rect x="605.6" y="201.1" width="4.6" height="4.6" fill="#090d06"/>
<rect x="609.6" y="201.1" width="4.6" height="4.6" fill="#0f1406"/>
<rect x="613.6" y="201.1" width="4.6" height="4.6" fill="#2c3d1b"/>
<rect x="617.6" y="201.1" width="4.6" height="4.6" fill="#6a7a52"/>
<rect x="621.6" y="201.1" width="4.6" height="4.6" fill="#0d1207"/>
<rect x="625.6" y="201.1" width="4.6" height="4.6" fill="#0f1407"/>
<rect x="629.6" y="201.1" width="4.6" height="4.6" fill="#212e14"/>
<rect x="633.6" y="201.1" width="4.6" height="4.6" fill="#a1afaf"/>
<rect x="637.6" y="201.1" width="4.6" height="4.6" fill="#4c5e2e"/>
<rect x="641.6" y="201.1" width="4.6" height="4.6" fill="#5b6f35"/>
<rect x="645.6" y="201.1" width="4.6" height="4.6" fill="#354620"/>
<rect x="649.6" y="201.1" width="4.6" height="4.6" fill="#617457"/>
<rect x="653.6" y="201.1" width="4.6" height="4.6" fill="#c3ceb1"/>
<rect x="657.6" y="201.1" width="4.6" height="4.6" fill="#2d3d18"/>
<rect x="661.6" y="201.1" width="4.6" height="4.6" fill="#212f18"/>
<rect x="665.6" y="201.1" width="4.6" height="4.6" fill="#24320f"/>
<rect x="669.6" y="201.1" width="4.6" height="4.6" fill="#10170b"/>
<rect x="673.6" y="201.1" width="4.6" height="4.6" fill="#0f160a"/>
<rect x="677.6" y="201.1" width="4.6" height="4.6" fill="#111709"/>
<rect x="681.6" y="201.1" width="4.6" height="4.6" fill="#1e2b13"/>
<rect x="685.6" y="201.1" width="4.6" height="4.6" fill="#b5bfb3"/>
<rect x="689.6" y="201.1" width="4.6" height="4.6" fill="#b7c4a2"/>
<rect x="693.6" y="201.1" width="4.6" height="4.6" fill="#cfdabc"/>
<rect x="697.6" y="201.1" width="4.6" height="4.6" fill="#8d9a84"/>
<rect x="701.6" y="201.1" width="4.6" height="4.6" fill="#afbaa6"/>
<rect x="705.6" y="201.1" width="4.6" height="4.6" fill="#768756"/>
<rect x="581.6" y="205.1" width="4.6" height="4.6" fill="#040502"/>
<rect x="585.6" y="205.1" width="4.6" height="4.6" fill="#040502"/>
<rect x="589.6" y="205.1" width="4.6" height="4.6" fill="#040502"/>
<rect x="593.6" y="205.1" width="4.6" height="4.6" fill="#040502"/>
<rect x="597.6" y="205.1" width="4.6" height="4.6" fill="#040502"/>
<rect x="601.6" y="205.1" width="4.6" height="4.6" fill="#040502"/>
<rect x="605.6" y="205.1" width="4.6" height="4.6" fill="#0e1409"/>
<rect x="609.6" y="205.1" width="4.6" height="4.6" fill="#131c0d"/>
<rect x="613.6" y="205.1" width="4.6" height="4.6" fill="#566933"/>
<rect x="617.6" y="205.1" width="4.6" height="4.6" fill="#435630"/>
<rect x="621.6" y="205.1" width="4.6" height="4.6" fill="#0d1204"/>
<rect x="625.6" y="205.1" width="4.6" height="4.6" fill="#1a240d"/>
<rect x="629.6" y="205.1" width="4.6" height="4.6" fill="#7d8e60"/>
<rect x="633.6" y="205.1" width="4.6" height="4.6" fill="#3e5231"/>
<rect x="637.6" y="205.1" width="4.6" height="4.6" fill="#eff4f6"/>
<rect x="641.6" y="205.1" width="4.6" height="4.6" fill="#8f9d7c"/>
<rect x="645.6" y="205.1" width="4.6" height="4.6" fill="#b1bbb2"/>
<rect x="649.6" y="205.1" width="4.6" height="4.6" fill="#566936"/>
<rect x="653.6" y="205.1" width="4.6" height="4.6" fill="#485d3b"/>
<rect x="657.6" y="205.1" width="4.6" height="4.6" fill="#2b3b16"/>
<rect x="661.6" y="205.1" width="4.6" height="4.6" fill="#40522a"/>
<rect x="665.6" y="205.1" width="4.6" height="4.6" fill="#44562d"/>
<rect x="669.6" y="205.1" width="4.6" height="4.6" fill="#0c1004"/>
<rect x="673.6" y="205.1" width="4.6" height="4.6" fill="#19230a"/>
<rect x="677.6" y="205.1" width="4.6" height="4.6" fill="#121804"/>
<rect x="681.6" y="205.1" width="4.6" height="4.6" fill="#18210b"/>
<rect x="685.6" y="205.1" width="4.6" height="4.6" fill="#ced9bb"/>
<rect x="689.6" y="205.1" width="4.6" height="4.6" fill="#adb9a1"/>
<rect x="693.6" y="205.1" width="4.6" height="4.6" fill="#8b9a8e"/>
<rect x="697.6" y="205.1" width="4.6" height="4.6" fill="#b0b9ad"/>
<rect x="701.6" y="205.1" width="4.6" height="4.6" fill="#d9e2cc"/>
<rect x="705.6" y="205.1" width="4.6" height="4.6" fill="#f6fcea"/>
<rect x="581.6" y="209.1" width="4.6" height="4.6" fill="#040502"/>
<rect x="585.6" y="209.1" width="4.6" height="4.6" fill="#040502"/>
<rect x="589.6" y="209.1" width="4.6" height="4.6" fill="#040502"/>
<rect x="593.6" y="209.1" width="4.6" height="4.6" fill="#040502"/>
<rect x="597.6" y="209.1" width="4.6" height="4.6" fill="#040502"/>
<rect x="601.6" y="209.1" width="4.6" height="4.6" fill="#040602"/>
<rect x="605.6" y="209.1" width="4.6" height="4.6" fill="#1a2409"/>
<rect x="609.6" y="209.1" width="4.6" height="4.6" fill="#7a8b60"/>
<rect x="613.6" y="209.1" width="4.6" height="4.6" fill="#3c4e26"/>
<rect x="617.6" y="209.1" width="4.6" height="4.6" fill="#314425"/>
<rect x="621.6" y="209.1" width="4.6" height="4.6" fill="#121905"/>
<rect x="625.6" y="209.1" width="4.6" height="4.6" fill="#0c1103"/>
<rect x="629.6" y="209.1" width="4.6" height="4.6" fill="#596b3c"/>
<rect x="633.6" y="209.1" width="4.6" height="4.6" fill="#0b0f04"/>
<rect x="637.6" y="209.1" width="4.6" height="4.6" fill="#394b28"/>
<rect x="641.6" y="209.1" width="4.6" height="4.6" fill="#283717"/>
<rect x="645.6" y="209.1" width="4.6" height="4.6" fill="#54682f"/>
<rect x="649.6" y="209.1" width="4.6" height="4.6" fill="#495d24"/>
<rect x="653.6" y="209.1" width="4.6" height="4.6" fill="#9faf86"/>
<rect x="657.6" y="209.1" width="4.6" height="4.6" fill="#495b32"/>
<rect x="661.6" y="209.1" width="4.6" height="4.6" fill="#192208"/>
<rect x="665.6" y="209.1" width="4.6" height="4.6" fill="#687a5e"/>
<rect x="669.6" y="209.1" width="4.6" height="4.6" fill="#253316"/>
<rect x="673.6" y="209.1" width="4.6" height="4.6" fill="#45572c"/>
<rect x="677.6" y="209.1" width="4.6" height="4.6" fill="#97a495"/>
<rect x="681.6" y="209.1" width="4.6" height="4.6" fill="#556842"/>
<rect x="685.6" y="209.1" width="4.6" height="4.6" fill="#c3ceb2"/>
<rect x="689.6" y="209.1" width="4.6" height="4.6" fill="#d0d8d6"/>
<rect x="693.6" y="209.1" width="4.6" height="4.6" fill="#ebefe8"/>
<rect x="697.6" y="209.1" width="4.6" height="4.6" fill="#8b9a74"/>
<rect x="701.6" y="209.1" width="4.6" height="4.6" fill="#ced7da"/>
<rect x="705.6" y="209.1" width="4.6" height="4.6" fill="#c4cdbc"/>
<rect x="581.6" y="213.1" width="4.6" height="4.6" fill="#040502"/>
<rect x="585.6" y="213.1" width="4.6" height="4.6" fill="#040502"/>
<rect x="589.6" y="213.1" width="4.6" height="4.6" fill="#040502"/>
<rect x="593.6" y="213.1" width="4.6" height="4.6" fill="#040502"/>
<rect x="597.6" y="213.1" width="4.6" height="4.6" fill="#040502"/>
<rect x="601.6" y="213.1" width="4.6" height="4.6" fill="#040502"/>
<rect x="605.6" y="213.1" width="4.6" height="4.6" fill="#465829"/>
<rect x="609.6" y="213.1" width="4.6" height="4.6" fill="#637547"/>
<rect x="613.6" y="213.1" width="4.6" height="4.6" fill="#31411d"/>
<rect x="617.6" y="213.1" width="4.6" height="4.6" fill="#50633b"/>
<rect x="621.6" y="213.1" width="4.6" height="4.6" fill="#121806"/>
<rect x="625.6" y="213.1" width="4.6" height="4.6" fill="#222e13"/>
<rect x="629.6" y="213.1" width="4.6" height="4.6" fill="#66774d"/>
<rect x="633.6" y="213.1" width="4.6" height="4.6" fill="#78895d"/>
<rect x="637.6" y="213.1" width="4.6" height="4.6" fill="#5a6f33"/>
<rect x="641.6" y="213.1" width="4.6" height="4.6" fill="#52672c"/>
<rect x="645.6" y="213.1" width="4.6" height="4.6" fill="#425425"/>
<rect x="649.6" y="213.1" width="4.6" height="4.6" fill="#6f8069"/>
<rect x="653.6" y="213.1" width="4.6" height="4.6" fill="#435633"/>
<rect x="657.6" y="213.1" width="4.6" height="4.6" fill="#465a36"/>
<rect x="661.6" y="213.1" width="4.6" height="4.6" fill="#2f4017"/>
<rect x="665.6" y="213.1" width="4.6" height="4.6" fill="#576a39"/>
<rect x="669.6" y="213.1" width="4.6" height="4.6" fill="#65785e"/>
<rect x="673.6" y="213.1" width="4.6" height="4.6" fill="#465923"/>
<rect x="677.6" y="213.1" width="4.6" height="4.6" fill="#b0b9ad"/>
<rect x="681.6" y="213.1" width="4.6" height="4.6" fill="#c6d1b7"/>
<rect x="685.6" y="213.1" width="4.6" height="4.6" fill="#879573"/>
<rect x="689.6" y="213.1" width="4.6" height="4.6" fill="#e0e6e5"/>
<rect x="693.6" y="213.1" width="4.6" height="4.6" fill="#3d4f1f"/>
<rect x="697.6" y="213.1" width="4.6" height="4.6" fill="#ebf4d5"/>
<rect x="701.6" y="213.1" width="4.6" height="4.6" fill="#eef6d9"/>
<rect x="705.6" y="213.1" width="4.6" height="4.6" fill="#7b8c7e"/>
<rect x="581.6" y="217.1" width="4.6" height="4.6" fill="#040502"/>
<rect x="585.6" y="217.1" width="4.6" height="4.6" fill="#040502"/>
<rect x="589.6" y="217.1" width="4.6" height="4.6" fill="#040502"/>
<rect x="593.6" y="217.1" width="4.6" height="4.6" fill="#040502"/>
<rect x="597.6" y="217.1" width="4.6" height="4.6" fill="#040502"/>
<rect x="601.6" y="217.1" width="4.6" height="4.6" fill="#040502"/>
<rect x="605.6" y="217.1" width="4.6" height="4.6" fill="#435736"/>
<rect x="609.6" y="217.1" width="4.6" height="4.6" fill="#627452"/>
<rect x="613.6" y="217.1" width="4.6" height="4.6" fill="#11180a"/>
<rect x="617.6" y="217.1" width="4.6" height="4.6" fill="#172007"/>
<rect x="621.6" y="217.1" width="4.6" height="4.6" fill="#87957e"/>
<rect x="625.6" y="217.1" width="4.6" height="4.6" fill="#354718"/>
<rect x="629.6" y="217.1" width="4.6" height="4.6" fill="#8e9c8f"/>
<rect x="633.6" y="217.1" width="4.6" height="4.6" fill="#40531d"/>
<rect x="637.6" y="217.1" width="4.6" height="4.6" fill="#5f704d"/>
<rect x="641.6" y="217.1" width="4.6" height="4.6" fill="#819182"/>
<rect x="645.6" y="217.1" width="4.6" height="4.6" fill="#253519"/>
<rect x="649.6" y="217.1" width="4.6" height="4.6" fill="#6e7f51"/>
<rect x="653.6" y="217.1" width="4.6" height="4.6" fill="#445628"/>
<rect x="657.6" y="217.1" width="4.6" height="4.6" fill="#60733e"/>
<rect x="661.6" y="217.1" width="4.6" height="4.6" fill="#222e12"/>
<rect x="665.6" y="217.1" width="4.6" height="4.6" fill="#42542d"/>
<rect x="669.6" y="217.1" width="4.6" height="4.6" fill="#495c29"/>
<rect x="673.6" y="217.1" width="4.6" height="4.6" fill="#4f6136"/>
<rect x="677.6" y="217.1" width="4.6" height="4.6" fill="#b9c2b5"/>
<rect x="681.6" y="217.1" width="4.6" height="4.6" fill="#dbe2e7"/>
<rect x="685.6" y="217.1" width="4.6" height="4.6" fill="#1f2a0e"/>
<rect x="689.6" y="217.1" width="4.6" height="4.6" fill="#455922"/>
<rect x="693.6" y="217.1" width="4.6" height="4.6" fill="#cfd9e3"/>
<rect x="697.6" y="217.1" width="4.6" height="4.6" fill="#d6dcd7"/>
<rect x="701.6" y="217.1" width="4.6" height="4.6" fill="#81917e"/>
<rect x="705.6" y="217.1" width="4.6" height="4.6" fill="#98a781"/>
<rect x="581.6" y="221.1" width="4.6" height="4.6" fill="#040502"/>
<rect x="585.6" y="221.1" width="4.6" height="4.6" fill="#040502"/>
<rect x="589.6" y="221.1" width="4.6" height="4.6" fill="#040502"/>
<rect x="593.6" y="221.1" width="4.6" height="4.6" fill="#040502"/>
<rect x="597.6" y="221.1" width="4.6" height="4.6" fill="#040502"/>
<rect x="601.6" y="221.1" width="4.6" height="4.6" fill="#040502"/>
<rect x="605.6" y="221.1" width="4.6" height="4.6" fill="#6e814b"/>
<rect x="609.6" y="221.1" width="4.6" height="4.6" fill="#5b6f33"/>
<rect x="613.6" y="221.1" width="4.6" height="4.6" fill="#1a240d"/>
<rect x="617.6" y="221.1" width="4.6" height="4.6" fill="#17200b"/>
<rect x="621.6" y="221.1" width="4.6" height="4.6" fill="#7e8d73"/>
<rect x="625.6" y="221.1" width="4.6" height="4.6" fill="#596c4a"/>
<rect x="629.6" y="221.1" width="4.6" height="4.6" fill="#617459"/>
<rect x="633.6" y="221.1" width="4.6" height="4.6" fill="#506428"/>
<rect x="637.6" y="221.1" width="4.6" height="4.6" fill="#364827"/>
<rect x="641.6" y="221.1" width="4.6" height="4.6" fill="#445733"/>
<rect x="645.6" y="221.1" width="4.6" height="4.6" fill="#6c7e67"/>
<rect x="649.6" y="221.1" width="4.6" height="4.6" fill="#465a22"/>
<rect x="653.6" y="221.1" width="4.6" height="4.6" fill="#a7b39d"/>
<rect x="657.6" y="221.1" width="4.6" height="4.6" fill="#4e6229"/>
<rect x="661.6" y="221.1" width="4.6" height="4.6" fill="#e5ecf6"/>
<rect x="665.6" y="221.1" width="4.6" height="4.6" fill="#36481b"/>
<rect x="669.6" y="221.1" width="4.6" height="4.6" fill="#748572"/>
<rect x="673.6" y="221.1" width="4.6" height="4.6" fill="#a3b28a"/>
<rect x="677.6" y="221.1" width="4.6" height="4.6" fill="#f5f9ef"/>
<rect x="681.6" y="221.1" width="4.6" height="4.6" fill="#f8ffe3"/>
<rect x="685.6" y="221.1" width="4.6" height="4.6" fill="#475a26"/>
<rect x="689.6" y="221.1" width="4.6" height="4.6" fill="#5f7142"/>
<rect x="693.6" y="221.1" width="4.6" height="4.6" fill="#6d7e67"/>
<rect x="697.6" y="221.1" width="4.6" height="4.6" fill="#e3e8e5"/>
<rect x="701.6" y="221.1" width="4.6" height="4.6" fill="#bac8a2"/>
<rect x="705.6" y="221.1" width="4.6" height="4.6" fill="#afbcc0"/>
<rect x="581.6" y="225.1" width="4.6" height="4.6" fill="#040502"/>
<rect x="585.6" y="225.1" width="4.6" height="4.6" fill="#040502"/>
<rect x="589.6" y="225.1" width="4.6" height="4.6" fill="#040502"/>
<rect x="593.6" y="225.1" width="4.6" height="4.6" fill="#040502"/>
<rect x="597.6" y="225.1" width="4.6" height="4.6" fill="#040502"/>
<rect x="601.6" y="225.1" width="4.6" height="4.6" fill="#040502"/>
<rect x="605.6" y="225.1" width="4.6" height="4.6" fill="#131909"/>
<rect x="609.6" y="225.1" width="4.6" height="4.6" fill="#3b4d1f"/>
<rect x="613.6" y="225.1" width="4.6" height="4.6" fill="#060803"/>
<rect x="617.6" y="225.1" width="4.6" height="4.6" fill="#d3dad7"/>
<rect x="621.6" y="225.1" width="4.6" height="4.6" fill="#5c7036"/>
<rect x="625.6" y="225.1" width="4.6" height="4.6" fill="#374a28"/>
<rect x="629.6" y="225.1" width="4.6" height="4.6" fill="#8c9983"/>
<rect x="633.6" y="225.1" width="4.6" height="4.6" fill="#aab6b4"/>
<rect x="637.6" y="225.1" width="4.6" height="4.6" fill="#cad6b2"/>
<rect x="641.6" y="225.1" width="4.6" height="4.6" fill="#a2b1b2"/>
<rect x="645.6" y="225.1" width="4.6" height="4.6" fill="#7d8d78"/>
<rect x="649.6" y="225.1" width="4.6" height="4.6" fill="#c2ccba"/>
<rect x="653.6" y="225.1" width="4.6" height="4.6" fill="#687853"/>
<rect x="657.6" y="225.1" width="4.6" height="4.6" fill="#829385"/>
<rect x="661.6" y="225.1" width="4.6" height="4.6" fill="#788a7c"/>
<rect x="665.6" y="225.1" width="4.6" height="4.6" fill="#2a3a1a"/>
<rect x="669.6" y="225.1" width="4.6" height="4.6" fill="#4d6037"/>
<rect x="673.6" y="225.1" width="4.6" height="4.6" fill="#415535"/>
<rect x="677.6" y="225.1" width="4.6" height="4.6" fill="#f4f7f2"/>
<rect x="681.6" y="225.1" width="4.6" height="4.6" fill="#edf4ff"/>
<rect x="685.6" y="225.1" width="4.6" height="4.6" fill="#b8c3c5"/>
<rect x="689.6" y="225.1" width="4.6" height="4.6" fill="#97a77b"/>
<rect x="693.6" y="225.1" width="4.6" height="4.6" fill="#f6fbec"/>
<rect x="697.6" y="225.1" width="4.6" height="4.6" fill="#eff4f9"/>
<rect x="701.6" y="225.1" width="4.6" height="4.6" fill="#a6b3af"/>
<rect x="705.6" y="225.1" width="4.6" height="4.6" fill="#ccd4cd"/>
<rect x="581.6" y="229.1" width="4.6" height="4.6" fill="#040502"/>
<rect x="585.6" y="229.1" width="4.6" height="4.6" fill="#040502"/>
<rect x="589.6" y="229.1" width="4.6" height="4.6" fill="#040502"/>
<rect x="593.6" y="229.1" width="4.6" height="4.6" fill="#040502"/>
<rect x="597.6" y="229.1" width="4.6" height="4.6" fill="#040502"/>
<rect x="601.6" y="229.1" width="4.6" height="4.6" fill="#050602"/>
<rect x="605.6" y="229.1" width="4.6" height="4.6" fill="#202d0c"/>
<rect x="609.6" y="229.1" width="4.6" height="4.6" fill="#0a0d04"/>
<rect x="613.6" y="229.1" width="4.6" height="4.6" fill="#61755c"/>
<rect x="617.6" y="229.1" width="4.6" height="4.6" fill="#697b4d"/>
<rect x="621.6" y="229.1" width="4.6" height="4.6" fill="#879575"/>
<rect x="625.6" y="229.1" width="4.6" height="4.6" fill="#6b7c53"/>
<rect x="629.6" y="229.1" width="4.6" height="4.6" fill="#586a40"/>
<rect x="633.6" y="229.1" width="4.6" height="4.6" fill="#36461f"/>
<rect x="637.6" y="229.1" width="4.6" height="4.6" fill="#92a277"/>
<rect x="641.6" y="229.1" width="4.6" height="4.6" fill="#b2bda7"/>
<rect x="645.6" y="229.1" width="4.6" height="4.6" fill="#d7ddd8"/>
<rect x="649.6" y="229.1" width="4.6" height="4.6" fill="#748673"/>
<rect x="653.6" y="229.1" width="4.6" height="4.6" fill="#202d0b"/>
<rect x="657.6" y="229.1" width="4.6" height="4.6" fill="#ccd5c2"/>
<rect x="661.6" y="229.1" width="4.6" height="4.6" fill="#27371a"/>
<rect x="665.6" y="229.1" width="4.6" height="4.6" fill="#657653"/>
<rect x="669.6" y="229.1" width="4.6" height="4.6" fill="#aebb9d"/>
<rect x="673.6" y="229.1" width="4.6" height="4.6" fill="#99a689"/>
<rect x="677.6" y="229.1" width="4.6" height="4.6" fill="#5f714d"/>
<rect x="681.6" y="229.1" width="4.6" height="4.6" fill="#87976c"/>
<rect x="685.6" y="229.1" width="4.6" height="4.6" fill="#acb999"/>
<rect x="689.6" y="229.1" width="4.6" height="4.6" fill="#bcc8cb"/>
<rect x="693.6" y="229.1" width="4.6" height="4.6" fill="#e5eae2"/>
<rect x="697.6" y="229.1" width="4.6" height="4.6" fill="#dce3d7"/>
<rect x="701.6" y="229.1" width="4.6" height="4.6" fill="#afbbb8"/>
<rect x="705.6" y="229.1" width="4.6" height="4.6" fill="#a1ac96"/>
<rect x="581.6" y="233.1" width="4.6" height="4.6" fill="#040502"/>
<rect x="585.6" y="233.1" width="4.6" height="4.6" fill="#040502"/>
<rect x="589.6" y="233.1" width="4.6" height="4.6" fill="#040502"/>
<rect x="593.6" y="233.1" width="4.6" height="4.6" fill="#040502"/>
<rect x="597.6" y="233.1" width="4.6" height="4.6" fill="#0f1408"/>
<rect x="601.6" y="233.1" width="4.6" height="4.6" fill="#0b0f05"/>
<rect x="605.6" y="233.1" width="4.6" height="4.6" fill="#111707"/>
<rect x="609.6" y="233.1" width="4.6" height="4.6" fill="#111706"/>
<rect x="613.6" y="233.1" width="4.6" height="4.6" fill="#1f2d16"/>
<rect x="617.6" y="233.1" width="4.6" height="4.6" fill="#2c3d1d"/>
<rect x="621.6" y="233.1" width="4.6" height="4.6" fill="#546846"/>
<rect x="625.6" y="233.1" width="4.6" height="4.6" fill="#2a3c1e"/>
<rect x="629.6" y="233.1" width="4.6" height="4.6" fill="#647550"/>
<rect x="633.6" y="233.1" width="4.6" height="4.6" fill="#5d7055"/>
<rect x="637.6" y="233.1" width="4.6" height="4.6" fill="#bec8c4"/>
<rect x="641.6" y="233.1" width="4.6" height="4.6" fill="#89988e"/>
<rect x="645.6" y="233.1" width="4.6" height="4.6" fill="#6d7d54"/>
<rect x="649.6" y="233.1" width="4.6" height="4.6" fill="#4d612a"/>
<rect x="653.6" y="233.1" width="4.6" height="4.6" fill="#586c4b"/>
<rect x="657.6" y="233.1" width="4.6" height="4.6" fill="#182108"/>
<rect x="661.6" y="233.1" width="4.6" height="4.6" fill="#42542c"/>
<rect x="665.6" y="233.1" width="4.6" height="4.6" fill="#415328"/>
<rect x="669.6" y="233.1" width="4.6" height="4.6" fill="#46582c"/>
<rect x="673.6" y="233.1" width="4.6" height="4.6" fill="#1e290d"/>
<rect x="677.6" y="233.1" width="4.6" height="4.6" fill="#909d82"/>
<rect x="681.6" y="233.1" width="4.6" height="4.6" fill="#445836"/>
<rect x="685.6" y="233.1" width="4.6" height="4.6" fill="#6a7b5c"/>
<rect x="689.6" y="233.1" width="4.6" height="4.6" fill="#d8e1e7"/>
<rect x="693.6" y="233.1" width="4.6" height="4.6" fill="#546846"/>
<rect x="697.6" y="233.1" width="4.6" height="4.6" fill="#d2ddc0"/>
<rect x="701.6" y="233.1" width="4.6" height="4.6" fill="#75855d"/>
<rect x="705.6" y="233.1" width="4.6" height="4.6" fill="#5d6e46"/>
<rect x="581.6" y="237.1" width="4.6" height="4.6" fill="#040502"/>
<rect x="585.6" y="237.1" width="4.6" height="4.6" fill="#040502"/>
<rect x="589.6" y="237.1" width="4.6" height="4.6" fill="#040502"/>
<rect x="593.6" y="237.1" width="4.6" height="4.6" fill="#040502"/>
<rect x="597.6" y="237.1" width="4.6" height="4.6" fill="#0d1204"/>
<rect x="601.6" y="237.1" width="4.6" height="4.6" fill="#0d1203"/>
<rect x="605.6" y="237.1" width="4.6" height="4.6" fill="#0f1503"/>
<rect x="609.6" y="237.1" width="4.6" height="4.6" fill="#111707"/>
<rect x="613.6" y="237.1" width="4.6" height="4.6" fill="#425534"/>
<rect x="617.6" y="237.1" width="4.6" height="4.6" fill="#2a3a11"/>
<rect x="621.6" y="237.1" width="4.6" height="4.6" fill="#273610"/>
<rect x="625.6" y="237.1" width="4.6" height="4.6" fill="#4b5f37"/>
<rect x="629.6" y="237.1" width="4.6" height="4.6" fill="#2b3c1b"/>
<rect x="633.6" y="237.1" width="4.6" height="4.6" fill="#405332"/>
<rect x="637.6" y="237.1" width="4.6" height="4.6" fill="#b9c4c1"/>
<rect x="641.6" y="237.1" width="4.6" height="4.6" fill="#687852"/>
<rect x="645.6" y="237.1" width="4.6" height="4.6" fill="#273618"/>
<rect x="649.6" y="237.1" width="4.6" height="4.6" fill="#b3c1c8"/>
<rect x="653.6" y="237.1" width="4.6" height="4.6" fill="#334614"/>
<rect x="657.6" y="237.1" width="4.6" height="4.6" fill="#445628"/>
<rect x="661.6" y="237.1" width="4.6" height="4.6" fill="#3f521d"/>
<rect x="665.6" y="237.1" width="4.6" height="4.6" fill="#84946b"/>
<rect x="669.6" y="237.1" width="4.6" height="4.6" fill="#485b24"/>
<rect x="673.6" y="237.1" width="4.6" height="4.6" fill="#364818"/>
<rect x="677.6" y="237.1" width="4.6" height="4.6" fill="#6b7c5e"/>
<rect x="681.6" y="237.1" width="4.6" height="4.6" fill="#8a9a6e"/>
<rect x="685.6" y="237.1" width="4.6" height="4.6" fill="#c2cfaa"/>
<rect x="689.6" y="237.1" width="4.6" height="4.6" fill="#8b9a76"/>
<rect x="693.6" y="237.1" width="4.6" height="4.6" fill="#a9b695"/>
<rect x="697.6" y="237.1" width="4.6" height="4.6" fill="#7f9085"/>
<rect x="701.6" y="237.1" width="4.6" height="4.6" fill="#c7d1d4"/>
<rect x="705.6" y="237.1" width="4.6" height="4.6" fill="#99a782"/>
<rect x="581.6" y="241.1" width="4.6" height="4.6" fill="#040502"/>
<rect x="585.6" y="241.1" width="4.6" height="4.6" fill="#040502"/>
<rect x="589.6" y="241.1" width="4.6" height="4.6" fill="#040502"/>
<rect x="593.6" y="241.1" width="4.6" height="4.6" fill="#040502"/>
<rect x="597.6" y="241.1" width="4.6" height="4.6" fill="#0b0f03"/>
<rect x="601.6" y="241.1" width="4.6" height="4.6" fill="#1c2709"/>
<rect x="605.6" y="241.1" width="4.6" height="4.6" fill="#273515"/>
<rect x="609.6" y="241.1" width="4.6" height="4.6" fill="#192412"/>
<rect x="613.6" y="241.1" width="4.6" height="4.6" fill="#2c3d17"/>
<rect x="617.6" y="241.1" width="4.6" height="4.6" fill="#a8b693"/>
<rect x="621.6" y="241.1" width="4.6" height="4.6" fill="#55673d"/>
<rect x="625.6" y="241.1" width="4.6" height="4.6" fill="#5e704e"/>
<rect x="629.6" y="241.1" width="4.6" height="4.6" fill="#7d8e61"/>
<rect x="633.6" y="241.1" width="4.6" height="4.6" fill="#4a5c2f"/>
<rect x="637.6" y="241.1" width="4.6" height="4.6" fill="#6f7f57"/>
<rect x="641.6" y="241.1" width="4.6" height="4.6" fill="#758658"/>
<rect x="645.6" y="241.1" width="4.6" height="4.6" fill="#28391c"/>
<rect x="649.6" y="241.1" width="4.6" height="4.6" fill="#576a47"/>
<rect x="653.6" y="241.1" width="4.6" height="4.6" fill="#344521"/>
<rect x="657.6" y="241.1" width="4.6" height="4.6" fill="#7a8a77"/>
<rect x="661.6" y="241.1" width="4.6" height="4.6" fill="#71844f"/>
<rect x="665.6" y="241.1" width="4.6" height="4.6" fill="#2b3b11"/>
<rect x="669.6" y="241.1" width="4.6" height="4.6" fill="#aebab8"/>
<rect x="673.6" y="241.1" width="4.6" height="4.6" fill="#d5dee6"/>
<rect x="677.6" y="241.1" width="4.6" height="4.6" fill="#cdd4cd"/>
<rect x="681.6" y="241.1" width="4.6" height="4.6" fill="#bac5c8"/>
<rect x="685.6" y="241.1" width="4.6" height="4.6" fill="#c8d0c4"/>
<rect x="689.6" y="241.1" width="4.6" height="4.6" fill="#f1f6f9"/>
<rect x="693.6" y="241.1" width="4.6" height="4.6" fill="#eff6e2"/>
<rect x="697.6" y="241.1" width="4.6" height="4.6" fill="#929f8f"/>
<rect x="701.6" y="241.1" width="4.6" height="4.6" fill="#f1f7e6"/>
<rect x="705.6" y="241.1" width="4.6" height="4.6" fill="#809083"/>
<rect x="581.6" y="245.1" width="4.6" height="4.6" fill="#040502"/>
<rect x="585.6" y="245.1" width="4.6" height="4.6" fill="#040502"/>
<rect x="589.6" y="245.1" width="4.6" height="4.6" fill="#040502"/>
<rect x="593.6" y="245.1" width="4.6" height="4.6" fill="#040502"/>
<rect x="597.6" y="245.1" width="4.6" height="4.6" fill="#0b0f04"/>
<rect x="601.6" y="245.1" width="4.6" height="4.6" fill="#111706"/>
<rect x="605.6" y="245.1" width="4.6" height="4.6" fill="#212e12"/>
<rect x="609.6" y="245.1" width="4.6" height="4.6" fill="#596c4b"/>
<rect x="613.6" y="245.1" width="4.6" height="4.6" fill="#222f12"/>
<rect x="617.6" y="245.1" width="4.6" height="4.6" fill="#8d9d75"/>
<rect x="621.6" y="245.1" width="4.6" height="4.6" fill="#7c8a6d"/>
<rect x="625.6" y="245.1" width="4.6" height="4.6" fill="#415227"/>
<rect x="629.6" y="245.1" width="4.6" height="4.6" fill="#4f6132"/>
<rect x="633.6" y="245.1" width="4.6" height="4.6" fill="#576940"/>
<rect x="637.6" y="245.1" width="4.6" height="4.6" fill="#becba9"/>
<rect x="641.6" y="245.1" width="4.6" height="4.6" fill="#dae2d2"/>
<rect x="645.6" y="245.1" width="4.6" height="4.6" fill="#adb8af"/>
<rect x="649.6" y="245.1" width="4.6" height="4.6" fill="#5f713e"/>
<rect x="653.6" y="245.1" width="4.6" height="4.6" fill="#778564"/>
<rect x="657.6" y="245.1" width="4.6" height="4.6" fill="#67774e"/>
<rect x="661.6" y="245.1" width="4.6" height="4.6" fill="#5c6e43"/>
<rect x="665.6" y="245.1" width="4.6" height="4.6" fill="#d0d9de"/>
<rect x="669.6" y="245.1" width="4.6" height="4.6" fill="#9ba88b"/>
<rect x="673.6" y="245.1" width="4.6" height="4.6" fill="#c1cab9"/>
<rect x="677.6" y="245.1" width="4.6" height="4.6" fill="#ced7db"/>
<rect x="681.6" y="245.1" width="4.6" height="4.6" fill="#b1bdbf"/>
<rect x="685.6" y="245.1" width="4.6" height="4.6" fill="#eff5fe"/>
<rect x="689.6" y="245.1" width="4.6" height="4.6" fill="#889770"/>
<rect x="693.6" y="245.1" width="4.6" height="4.6" fill="#cad7b4"/>
<rect x="697.6" y="245.1" width="4.6" height="4.6" fill="#d8e3c5"/>
<rect x="701.6" y="245.1" width="4.6" height="4.6" fill="#a7b5b7"/>
<rect x="705.6" y="245.1" width="4.6" height="4.6" fill="#6f816d"/>
<rect x="581.6" y="249.1" width="4.6" height="4.6" fill="#040502"/>
<rect x="585.6" y="249.1" width="4.6" height="4.6" fill="#040502"/>
<rect x="589.6" y="249.1" width="4.6" height="4.6" fill="#101605"/>
<rect x="593.6" y="249.1" width="4.6" height="4.6" fill="#0d1309"/>
<rect x="597.6" y="249.1" width="4.6" height="4.6" fill="#0c1108"/>
<rect x="601.6" y="249.1" width="4.6" height="4.6" fill="#151d07"/>
<rect x="605.6" y="249.1" width="4.6" height="4.6" fill="#425522"/>
<rect x="609.6" y="249.1" width="4.6" height="4.6" fill="#465923"/>
<rect x="613.6" y="249.1" width="4.6" height="4.6" fill="#0b0f07"/>
<rect x="617.6" y="249.1" width="4.6" height="4.6" fill="#697a5a"/>
<rect x="621.6" y="249.1" width="4.6" height="4.6" fill="#556947"/>
<rect x="625.6" y="249.1" width="4.6" height="4.6" fill="#8d9a84"/>
<rect x="629.6" y="249.1" width="4.6" height="4.6" fill="#889872"/>
<rect x="633.6" y="249.1" width="4.6" height="4.6" fill="#cfd9c3"/>
<rect x="637.6" y="249.1" width="4.6" height="4.6" fill="#7c8a6f"/>
<rect x="641.6" y="249.1" width="4.6" height="4.6" fill="#dfe6d4"/>
<rect x="645.6" y="249.1" width="4.6" height="4.6" fill="#2f4123"/>
<rect x="649.6" y="249.1" width="4.6" height="4.6" fill="#e7eef6"/>
<rect x="653.6" y="249.1" width="4.6" height="4.6" fill="#455834"/>
<rect x="657.6" y="249.1" width="4.6" height="4.6" fill="#6a7a5c"/>
<rect x="661.6" y="249.1" width="4.6" height="4.6" fill="#e1e6de"/>
<rect x="665.6" y="249.1" width="4.6" height="4.6" fill="#7d8c79"/>
<rect x="669.6" y="249.1" width="4.6" height="4.6" fill="#f8ffe4"/>
<rect x="673.6" y="249.1" width="4.6" height="4.6" fill="#bbc7ce"/>
<rect x="677.6" y="249.1" width="4.6" height="4.6" fill="#d6dee1"/>
<rect x="681.6" y="249.1" width="4.6" height="4.6" fill="#bfcacf"/>
<rect x="685.6" y="249.1" width="4.6" height="4.6" fill="#eff5fd"/>
<rect x="689.6" y="249.1" width="4.6" height="4.6" fill="#d9e2ef"/>
<rect x="693.6" y="249.1" width="4.6" height="4.6" fill="#f5f9f0"/>
<rect x="697.6" y="249.1" width="4.6" height="4.6" fill="#718372"/>
<rect x="701.6" y="249.1" width="4.6" height="4.6" fill="#233013"/>
<rect x="705.6" y="249.1" width="4.6" height="4.6" fill="#4e622c"/>
<rect x="581.6" y="253.1" width="4.6" height="4.6" fill="#0a0d05"/>
<rect x="585.6" y="253.1" width="4.6" height="4.6" fill="#0c1107"/>
<rect x="589.6" y="253.1" width="4.6" height="4.6" fill="#101605"/>
<rect x="593.6" y="253.1" width="4.6" height="4.6" fill="#101609"/>
<rect x="597.6" y="253.1" width="4.6" height="4.6" fill="#101709"/>
<rect x="601.6" y="253.1" width="4.6" height="4.6" fill="#1d280c"/>
<rect x="605.6" y="253.1" width="4.6" height="4.6" fill="#1b2608"/>
<rect x="609.6" y="253.1" width="4.6" height="4.6" fill="#101604"/>
<rect x="613.6" y="253.1" width="4.6" height="4.6" fill="#4e6132"/>
<rect x="617.6" y="253.1" width="4.6" height="4.6" fill="#637453"/>
<rect x="621.6" y="253.1" width="4.6" height="4.6" fill="#5e6f47"/>
<rect x="625.6" y="253.1" width="4.6" height="4.6" fill="#718350"/>
<rect x="629.6" y="253.1" width="4.6" height="4.6" fill="#96a385"/>
<rect x="633.6" y="253.1" width="4.6" height="4.6" fill="#84937c"/>
<rect x="637.6" y="253.1" width="4.6" height="4.6" fill="#9eaa94"/>
<rect x="641.6" y="253.1" width="4.6" height="4.6" fill="#48592c"/>
<rect x="645.6" y="253.1" width="4.6" height="4.6" fill="#6d7e51"/>
<rect x="649.6" y="253.1" width="4.6" height="4.6" fill="#92a19a"/>
<rect x="653.6" y="253.1" width="4.6" height="4.6" fill="#283a1e"/>
<rect x="657.6" y="253.1" width="4.6" height="4.6" fill="#47582c"/>
<rect x="661.6" y="253.1" width="4.6" height="4.6" fill="#85956b"/>
<rect x="665.6" y="253.1" width="4.6" height="4.6" fill="#d4dde5"/>
<rect x="669.6" y="253.1" width="4.6" height="4.6" fill="#8a9a8f"/>
<rect x="673.6" y="253.1" width="4.6" height="4.6" fill="#7a8a63"/>
<rect x="677.6" y="253.1" width="4.6" height="4.6" fill="#94a576"/>
<rect x="681.6" y="253.1" width="4.6" height="4.6" fill="#b9c4c3"/>
<rect x="685.6" y="253.1" width="4.6" height="4.6" fill="#9da993"/>
<rect x="689.6" y="253.1" width="4.6" height="4.6" fill="#abb5a9"/>
<rect x="693.6" y="253.1" width="4.6" height="4.6" fill="#657743"/>
<rect x="697.6" y="253.1" width="4.6" height="4.6" fill="#667942"/>
<rect x="701.6" y="253.1" width="4.6" height="4.6" fill="#697a5f"/>
<rect x="705.6" y="253.1" width="4.6" height="4.6" fill="#6b7b5b"/>
<rect x="581.6" y="257.1" width="4.6" height="4.6" fill="#141c0b"/>
<rect x="585.6" y="257.1" width="4.6" height="4.6" fill="#0c1005"/>
<rect x="589.6" y="257.1" width="4.6" height="4.6" fill="#0b0f04"/>
<rect x="593.6" y="257.1" width="4.6" height="4.6" fill="#0e1306"/>
<rect x="597.6" y="257.1" width="4.6" height="4.6" fill="#111607"/>
<rect x="601.6" y="257.1" width="4.6" height="4.6" fill="#0d1107"/>
<rect x="605.6" y="257.1" width="4.6" height="4.6" fill="#101604"/>
<rect x="609.6" y="257.1" width="4.6" height="4.6" fill="#1c270a"/>
<rect x="613.6" y="257.1" width="4.6" height="4.6" fill="#495d25"/>
<rect x="617.6" y="257.1" width="4.6" height="4.6" fill="#617351"/>
<rect x="621.6" y="257.1" width="4.6" height="4.6" fill="#5f714b"/>
<rect x="625.6" y="257.1" width="4.6" height="4.6" fill="#8e9e98"/>
<rect x="629.6" y="257.1" width="4.6" height="4.6" fill="#83927d"/>
<rect x="633.6" y="257.1" width="4.6" height="4.6" fill="#bfc8be"/>
<rect x="637.6" y="257.1" width="4.6" height="4.6" fill="#dce6cb"/>
<rect x="641.6" y="257.1" width="4.6" height="4.6" fill="#495c25"/>
<rect x="645.6" y="257.1" width="4.6" height="4.6" fill="#728160"/>
<rect x="649.6" y="257.1" width="4.6" height="4.6" fill="#586c33"/>
<rect x="653.6" y="257.1" width="4.6" height="4.6" fill="#111708"/>
<rect x="657.6" y="257.1" width="4.6" height="4.6" fill="#62734c"/>
<rect x="661.6" y="257.1" width="4.6" height="4.6" fill="#f6fce9"/>
<rect x="665.6" y="257.1" width="4.6" height="4.6" fill="#6b7c5e"/>
<rect x="669.6" y="257.1" width="4.6" height="4.6" fill="#7d8e62"/>
<rect x="673.6" y="257.1" width="4.6" height="4.6" fill="#839367"/>
<rect x="677.6" y="257.1" width="4.6" height="4.6" fill="#c7cfc7"/>
<rect x="681.6" y="257.1" width="4.6" height="4.6" fill="#c1ccd4"/>
<rect x="685.6" y="257.1" width="4.6" height="4.6" fill="#aeb9b5"/>
<rect x="689.6" y="257.1" width="4.6" height="4.6" fill="#a2b08f"/>
<rect x="693.6" y="257.1" width="4.6" height="4.6" fill="#98a69f"/>
<rect x="697.6" y="257.1" width="4.6" height="4.6" fill="#8f9e94"/>
<rect x="701.6" y="257.1" width="4.6" height="4.6" fill="#7b8a72"/>
<rect x="705.6" y="257.1" width="4.6" height="4.6" fill="#97a391"/>
<rect x="581.6" y="261.1" width="4.6" height="4.6" fill="#141b0a"/>
<rect x="585.6" y="261.1" width="4.6" height="4.6" fill="#151d06"/>
<rect x="589.6" y="261.1" width="4.6" height="4.6" fill="#0c1003"/>
<rect x="593.6" y="261.1" width="4.6" height="4.6" fill="#0f1405"/>
<rect x="597.6" y="261.1" width="4.6" height="4.6" fill="#263618"/>
<rect x="601.6" y="261.1" width="4.6" height="4.6" fill="#141c05"/>
<rect x="605.6" y="261.1" width="4.6" height="4.6" fill="#273612"/>
<rect x="609.6" y="261.1" width="4.6" height="4.6" fill="#273512"/>
<rect x="613.6" y="261.1" width="4.6" height="4.6" fill="#4c5e30"/>
<rect x="617.6" y="261.1" width="4.6" height="4.6" fill="#72825b"/>
<rect x="621.6" y="261.1" width="4.6" height="4.6" fill="#a9b697"/>
<rect x="625.6" y="261.1" width="4.6" height="4.6" fill="#768855"/>
<rect x="629.6" y="261.1" width="4.6" height="4.6" fill="#8b9b72"/>
<rect x="633.6" y="261.1" width="4.6" height="4.6" fill="#5d7135"/>
<rect x="637.6" y="261.1" width="4.6" height="4.6" fill="#3e501f"/>
<rect x="641.6" y="261.1" width="4.6" height="4.6" fill="#dfe8f4"/>
<rect x="645.6" y="261.1" width="4.6" height="4.6" fill="#6c7c59"/>
<rect x="649.6" y="261.1" width="4.6" height="4.6" fill="#70826c"/>
<rect x="653.6" y="261.1" width="4.6" height="4.6" fill="#62763c"/>
<rect x="657.6" y="261.1" width="4.6" height="4.6" fill="#3a4c1d"/>
<rect x="661.6" y="261.1" width="4.6" height="4.6" fill="#728356"/>
<rect x="665.6" y="261.1" width="4.6" height="4.6" fill="#9faf84"/>
<rect x="669.6" y="261.1" width="4.6" height="4.6" fill="#1f2c16"/>
<rect x="673.6" y="261.1" width="4.6" height="4.6" fill="#687854"/>
<rect x="677.6" y="261.1" width="4.6" height="4.6" fill="#dbe3e7"/>
<rect x="681.6" y="261.1" width="4.6" height="4.6" fill="#a2af91"/>
<rect x="685.6" y="261.1" width="4.6" height="4.6" fill="#dce5ce"/>
<rect x="689.6" y="261.1" width="4.6" height="4.6" fill="#acbabd"/>
<rect x="693.6" y="261.1" width="4.6" height="4.6" fill="#f4f8f0"/>
<rect x="697.6" y="261.1" width="4.6" height="4.6" fill="#adbab9"/>
<rect x="701.6" y="261.1" width="4.6" height="4.6" fill="#dee6d4"/>
<rect x="705.6" y="261.1" width="4.6" height="4.6" fill="#738262"/>
<rect x="581.6" y="265.1" width="4.6" height="4.6" fill="#0f1405"/>
<rect x="585.6" y="265.1" width="4.6" height="4.6" fill="#0e1309"/>
<rect x="589.6" y="265.1" width="4.6" height="4.6" fill="#0d1205"/>
<rect x="593.6" y="265.1" width="4.6" height="4.6" fill="#151c0b"/>
<rect x="597.6" y="265.1" width="4.6" height="4.6" fill="#19220a"/>
<rect x="601.6" y="265.1" width="4.6" height="4.6" fill="#687853"/>
<rect x="605.6" y="265.1" width="4.6" height="4.6" fill="#212e14"/>
<rect x="609.6" y="265.1" width="4.6" height="4.6" fill="#5b6e39"/>
<rect x="613.6" y="265.1" width="4.6" height="4.6" fill="#3e5021"/>
<rect x="617.6" y="265.1" width="4.6" height="4.6" fill="#405128"/>
<rect x="621.6" y="265.1" width="4.6" height="4.6" fill="#768770"/>
<rect x="625.6" y="265.1" width="4.6" height="4.6" fill="#3b4e1b"/>
<rect x="629.6" y="265.1" width="4.6" height="4.6" fill="#394b19"/>
<rect x="633.6" y="265.1" width="4.6" height="4.6" fill="#293818"/>
<rect x="637.6" y="265.1" width="4.6" height="4.6" fill="#dce3e7"/>
<rect x="641.6" y="265.1" width="4.6" height="4.6" fill="#909d87"/>
<rect x="645.6" y="265.1" width="4.6" height="4.6" fill="#5f7145"/>
<rect x="649.6" y="265.1" width="4.6" height="4.6" fill="#253311"/>
<rect x="653.6" y="265.1" width="4.6" height="4.6" fill="#1b2611"/>
<rect x="657.6" y="265.1" width="4.6" height="4.6" fill="#5e7044"/>
<rect x="661.6" y="265.1" width="4.6" height="4.6" fill="#758674"/>
<rect x="665.6" y="265.1" width="4.6" height="4.6" fill="#23310d"/>
<rect x="669.6" y="265.1" width="4.6" height="4.6" fill="#5b6e3d"/>
<rect x="673.6" y="265.1" width="4.6" height="4.6" fill="#526533"/>
<rect x="677.6" y="265.1" width="4.6" height="4.6" fill="#929f85"/>
<rect x="681.6" y="265.1" width="4.6" height="4.6" fill="#e7ece5"/>
<rect x="685.6" y="265.1" width="4.6" height="4.6" fill="#ebf0f0"/>
<rect x="689.6" y="265.1" width="4.6" height="4.6" fill="#b1bca8"/>
<rect x="693.6" y="265.1" width="4.6" height="4.6" fill="#6f7f57"/>
<rect x="697.6" y="265.1" width="4.6" height="4.6" fill="#919f7d"/>
<rect x="701.6" y="265.1" width="4.6" height="4.6" fill="#65775b"/>
<rect x="705.6" y="265.1" width="4.6" height="4.6" fill="#e9f1db"/>
<rect x="581.6" y="269.1" width="4.6" height="4.6" fill="#141d0d"/>
<rect x="585.6" y="269.1" width="4.6" height="4.6" fill="#5f704a"/>
<rect x="589.6" y="269.1" width="4.6" height="4.6" fill="#1a2512"/>
<rect x="593.6" y="269.1" width="4.6" height="4.6" fill="#1e290f"/>
<rect x="597.6" y="269.1" width="4.6" height="4.6" fill="#2f401d"/>
<rect x="601.6" y="269.1" width="4.6" height="4.6" fill="#263414"/>
<rect x="605.6" y="269.1" width="4.6" height="4.6" fill="#394b28"/>
<rect x="609.6" y="269.1" width="4.6" height="4.6" fill="#5f714f"/>
<rect x="613.6" y="269.1" width="4.6" height="4.6" fill="#4b5d2c"/>
<rect x="617.6" y="269.1" width="4.6" height="4.6" fill="#34451b"/>
<rect x="621.6" y="269.1" width="4.6" height="4.6" fill="#2c3e1f"/>
<rect x="625.6" y="269.1" width="4.6" height="4.6" fill="#6f7f54"/>
<rect x="629.6" y="269.1" width="4.6" height="4.6" fill="#1d2810"/>
<rect x="633.6" y="269.1" width="4.6" height="4.6" fill="#566a4c"/>
<rect x="637.6" y="269.1" width="4.6" height="4.6" fill="#a0ad8f"/>
<rect x="641.6" y="269.1" width="4.6" height="4.6" fill="#546636"/>
<rect x="645.6" y="269.1" width="4.6" height="4.6" fill="#27381d"/>
<rect x="649.6" y="269.1" width="4.6" height="4.6" fill="#4f6231"/>
<rect x="653.6" y="269.1" width="4.6" height="4.6" fill="#647554"/>
<rect x="657.6" y="269.1" width="4.6" height="4.6" fill="#708169"/>
<rect x="661.6" y="269.1" width="4.6" height="4.6" fill="#bec8c2"/>
<rect x="665.6" y="269.1" width="4.6" height="4.6" fill="#708169"/>
<rect x="669.6" y="269.1" width="4.6" height="4.6" fill="#687957"/>
<rect x="673.6" y="269.1" width="4.6" height="4.6" fill="#f5f9ef"/>
<rect x="677.6" y="269.1" width="4.6" height="4.6" fill="#95a5a3"/>
<rect x="681.6" y="269.1" width="4.6" height="4.6" fill="#707f5e"/>
<rect x="685.6" y="269.1" width="4.6" height="4.6" fill="#a8b4af"/>
<rect x="689.6" y="269.1" width="4.6" height="4.6" fill="#50642d"/>
<rect x="693.6" y="269.1" width="4.6" height="4.6" fill="#e5eed0"/>
<rect x="697.6" y="269.1" width="4.6" height="4.6" fill="#dce3d7"/>
<rect x="701.6" y="269.1" width="4.6" height="4.6" fill="#93a29f"/>
<rect x="705.6" y="269.1" width="4.6" height="4.6" fill="#617352"/>
<rect x="581.6" y="273.1" width="4.6" height="4.6" fill="#27381d"/>
<rect x="585.6" y="273.1" width="4.6" height="4.6" fill="#425524"/>
<rect x="589.6" y="273.1" width="4.6" height="4.6" fill="#627443"/>
<rect x="593.6" y="273.1" width="4.6" height="4.6" fill="#5f7140"/>
<rect x="597.6" y="273.1" width="4.6" height="4.6" fill="#131907"/>
<rect x="601.6" y="273.1" width="4.6" height="4.6" fill="#2e4012"/>
<rect x="605.6" y="273.1" width="4.6" height="4.6" fill="#8a9884"/>
<rect x="609.6" y="273.1" width="4.6" height="4.6" fill="#151e0d"/>
<rect x="613.6" y="273.1" width="4.6" height="4.6" fill="#465827"/>
<rect x="617.6" y="273.1" width="4.6" height="4.6" fill="#4d6038"/>
<rect x="621.6" y="273.1" width="4.6" height="4.6" fill="#3e502b"/>
<rect x="625.6" y="273.1" width="4.6" height="4.6" fill="#405432"/>
<rect x="629.6" y="273.1" width="4.6" height="4.6" fill="#425427"/>
<rect x="633.6" y="273.1" width="4.6" height="4.6" fill="#889682"/>
<rect x="637.6" y="273.1" width="4.6" height="4.6" fill="#798865"/>
<rect x="641.6" y="273.1" width="4.6" height="4.6" fill="#a5b48b"/>
<rect x="645.6" y="273.1" width="4.6" height="4.6" fill="#54692c"/>
<rect x="649.6" y="273.1" width="4.6" height="4.6" fill="#212e15"/>
<rect x="653.6" y="273.1" width="4.6" height="4.6" fill="#93a08b"/>
<rect x="657.6" y="273.1" width="4.6" height="4.6" fill="#546743"/>
<rect x="661.6" y="273.1" width="4.6" height="4.6" fill="#707f5d"/>
<rect x="665.6" y="273.1" width="4.6" height="4.6" fill="#5e6f44"/>
<rect x="669.6" y="273.1" width="4.6" height="4.6" fill="#819265"/>
<rect x="673.6" y="273.1" width="4.6" height="4.6" fill="#dae3ef"/>
<rect x="677.6" y="273.1" width="4.6" height="4.6" fill="#f3f9e4"/>
<rect x="681.6" y="273.1" width="4.6" height="4.6" fill="#708061"/>
<rect x="685.6" y="273.1" width="4.6" height="4.6" fill="#859668"/>
<rect x="689.6" y="273.1" width="4.6" height="4.6" fill="#8c9a8b"/>
<rect x="693.6" y="273.1" width="4.6" height="4.6" fill="#a6b1a5"/>
<rect x="697.6" y="273.1" width="4.6" height="4.6" fill="#718370"/>
<rect x="701.6" y="273.1" width="4.6" height="4.6" fill="#64754a"/>
<rect x="705.6" y="273.1" width="4.6" height="4.6" fill="#99a689"/>
<rect x="581.6" y="277.1" width="4.6" height="4.6" fill="#0d1208"/>
<rect x="585.6" y="277.1" width="4.6" height="4.6" fill="#2d3e1f"/>
<rect x="589.6" y="277.1" width="4.6" height="4.6" fill="#63765e"/>
<rect x="593.6" y="277.1" width="4.6" height="4.6" fill="#3f5122"/>
<rect x="597.6" y="277.1" width="4.6" height="4.6" fill="#37491b"/>
<rect x="601.6" y="277.1" width="4.6" height="4.6" fill="#aab6af"/>
<rect x="605.6" y="277.1" width="4.6" height="4.6" fill="#161e07"/>
<rect x="609.6" y="277.1" width="4.6" height="4.6" fill="#929f8f"/>
<rect x="613.6" y="277.1" width="4.6" height="4.6" fill="#36492a"/>
<rect x="617.6" y="277.1" width="4.6" height="4.6" fill="#324526"/>
<rect x="621.6" y="277.1" width="4.6" height="4.6" fill="#202e16"/>
<rect x="625.6" y="277.1" width="4.6" height="4.6" fill="#718163"/>
<rect x="629.6" y="277.1" width="4.6" height="4.6" fill="#92a19a"/>
<rect x="633.6" y="277.1" width="4.6" height="4.6" fill="#56673c"/>
<rect x="637.6" y="277.1" width="4.6" height="4.6" fill="#8f9f75"/>
<rect x="641.6" y="277.1" width="4.6" height="4.6" fill="#a7b494"/>
<rect x="645.6" y="277.1" width="4.6" height="4.6" fill="#6a7d47"/>
<rect x="649.6" y="277.1" width="4.6" height="4.6" fill="#5b6c42"/>
<rect x="653.6" y="277.1" width="4.6" height="4.6" fill="#72815e"/>
<rect x="657.6" y="277.1" width="4.6" height="4.6" fill="#738574"/>
<rect x="661.6" y="277.1" width="4.6" height="4.6" fill="#4b5d31"/>
<rect x="665.6" y="277.1" width="4.6" height="4.6" fill="#3a4d2b"/>
<rect x="669.6" y="277.1" width="4.6" height="4.6" fill="#e9f0dd"/>
<rect x="673.6" y="277.1" width="4.6" height="4.6" fill="#f0f5fc"/>
<rect x="677.6" y="277.1" width="4.6" height="4.6" fill="#b4c1c7"/>
<rect x="681.6" y="277.1" width="4.6" height="4.6" fill="#869765"/>
<rect x="685.6" y="277.1" width="4.6" height="4.6" fill="#edf4ff"/>
<rect x="689.6" y="277.1" width="4.6" height="4.6" fill="#d5dcd5"/>
<rect x="693.6" y="277.1" width="4.6" height="4.6" fill="#f1f6f8"/>
<rect x="697.6" y="277.1" width="4.6" height="4.6" fill="#4e623c"/>
<rect x="701.6" y="277.1" width="4.6" height="4.6" fill="#344619"/>
<rect x="705.6" y="277.1" width="4.6" height="4.6" fill="#5e7238"/>
<rect x="581.6" y="281.1" width="4.6" height="4.6" fill="#0a0e07"/>
<rect x="585.6" y="281.1" width="4.6" height="4.6" fill="#485a31"/>
<rect x="589.6" y="281.1" width="4.6" height="4.6" fill="#576b30"/>
<rect x="593.6" y="281.1" width="4.6" height="4.6" fill="#b2bdac"/>
<rect x="597.6" y="281.1" width="4.6" height="4.6" fill="#56673b"/>
<rect x="601.6" y="281.1" width="4.6" height="4.6" fill="#506339"/>
<rect x="605.6" y="281.1" width="4.6" height="4.6" fill="#4f632c"/>
<rect x="609.6" y="281.1" width="4.6" height="4.6" fill="#a0b086"/>
<rect x="613.6" y="281.1" width="4.6" height="4.6" fill="#81906e"/>
<rect x="617.6" y="281.1" width="4.6" height="4.6" fill="#4d602e"/>
<rect x="621.6" y="281.1" width="4.6" height="4.6" fill="#2e3f18"/>
<rect x="625.6" y="281.1" width="4.6" height="4.6" fill="#28380f"/>
<rect x="629.6" y="281.1" width="4.6" height="4.6" fill="#485b34"/>
<rect x="633.6" y="281.1" width="4.6" height="4.6" fill="#909c84"/>
<rect x="637.6" y="281.1" width="4.6" height="4.6" fill="#667944"/>
<rect x="641.6" y="281.1" width="4.6" height="4.6" fill="#a9b6b4"/>
<rect x="645.6" y="281.1" width="4.6" height="4.6" fill="#a2b0b0"/>
<rect x="649.6" y="281.1" width="4.6" height="4.6" fill="#acba95"/>
<rect x="653.6" y="281.1" width="4.6" height="4.6" fill="#62724c"/>
<rect x="657.6" y="281.1" width="4.6" height="4.6" fill="#768567"/>
<rect x="661.6" y="281.1" width="4.6" height="4.6" fill="#657860"/>
<rect x="665.6" y="281.1" width="4.6" height="4.6" fill="#61724f"/>
<rect x="669.6" y="281.1" width="4.6" height="4.6" fill="#f2f6f7"/>
<rect x="673.6" y="281.1" width="4.6" height="4.6" fill="#c2ceb0"/>
<rect x="677.6" y="281.1" width="4.6" height="4.6" fill="#809160"/>
<rect x="681.6" y="281.1" width="4.6" height="4.6" fill="#b4bfb9"/>
<rect x="685.6" y="281.1" width="4.6" height="4.6" fill="#c1cac6"/>
<rect x="689.6" y="281.1" width="4.6" height="4.6" fill="#f4f7f3"/>
<rect x="693.6" y="281.1" width="4.6" height="4.6" fill="#bcc8a9"/>
<rect x="697.6" y="281.1" width="4.6" height="4.6" fill="#9aa798"/>
<rect x="701.6" y="281.1" width="4.6" height="4.6" fill="#8a9b94"/>
<rect x="705.6" y="281.1" width="4.6" height="4.6" fill="#c4cecf"/>
<rect x="581.6" y="285.1" width="4.6" height="4.6" fill="#2b3c12"/>
<rect x="585.6" y="285.1" width="4.6" height="4.6" fill="#2b3d1f"/>
<rect x="589.6" y="285.1" width="4.6" height="4.6" fill="#2a3a14"/>
<rect x="593.6" y="285.1" width="4.6" height="4.6" fill="#576a34"/>
<rect x="597.6" y="285.1" width="4.6" height="4.6" fill="#99a79d"/>
<rect x="601.6" y="285.1" width="4.6" height="4.6" fill="#819169"/>
<rect x="605.6" y="285.1" width="4.6" height="4.6" fill="#657649"/>
<rect x="609.6" y="285.1" width="4.6" height="4.6" fill="#6c7d5f"/>
<rect x="613.6" y="285.1" width="4.6" height="4.6" fill="#222e0e"/>
<rect x="617.6" y="285.1" width="4.6" height="4.6" fill="#849370"/>
<rect x="621.6" y="285.1" width="4.6" height="4.6" fill="#2f4124"/>
<rect x="625.6" y="285.1" width="4.6" height="4.6" fill="#364917"/>
<rect x="629.6" y="285.1" width="4.6" height="4.6" fill="#6d7f4d"/>
<rect x="633.6" y="285.1" width="4.6" height="4.6" fill="#5a6e35"/>
<rect x="637.6" y="285.1" width="4.6" height="4.6" fill="#677a64"/>
<rect x="641.6" y="285.1" width="4.6" height="4.6" fill="#6a7b5f"/>
<rect x="645.6" y="285.1" width="4.6" height="4.6" fill="#7b8c5f"/>
<rect x="649.6" y="285.1" width="4.6" height="4.6" fill="#596c3a"/>
<rect x="653.6" y="285.1" width="4.6" height="4.6" fill="#2b3b18"/>
<rect x="657.6" y="285.1" width="4.6" height="4.6" fill="#283712"/>
<rect x="661.6" y="285.1" width="4.6" height="4.6" fill="#a3b1ae"/>
<rect x="665.6" y="285.1" width="4.6" height="4.6" fill="#1f2a0b"/>
<rect x="669.6" y="285.1" width="4.6" height="4.6" fill="#5b6d48"/>
<rect x="673.6" y="285.1" width="4.6" height="4.6" fill="#4e6329"/>
<rect x="677.6" y="285.1" width="4.6" height="4.6" fill="#73846e"/>
<rect x="681.6" y="285.1" width="4.6" height="4.6" fill="#6b7b59"/>
<rect x="685.6" y="285.1" width="4.6" height="4.6" fill="#65775c"/>
<rect x="689.6" y="285.1" width="4.6" height="4.6" fill="#b0baab"/>
<rect x="693.6" y="285.1" width="4.6" height="4.6" fill="#f0f4ee"/>
<rect x="697.6" y="285.1" width="4.6" height="4.6" fill="#506332"/>
<rect x="701.6" y="285.1" width="4.6" height="4.6" fill="#81917f"/>
<rect x="705.6" y="285.1" width="4.6" height="4.6" fill="#879685"/>
<rect x="581.6" y="289.1" width="4.6" height="4.6" fill="#3a4c1c"/>
<rect x="585.6" y="289.1" width="4.6" height="4.6" fill="#3b4c25"/>
<rect x="589.6" y="289.1" width="4.6" height="4.6" fill="#7d8d68"/>
<rect x="593.6" y="289.1" width="4.6" height="4.6" fill="#56683c"/>
<rect x="597.6" y="289.1" width="4.6" height="4.6" fill="#607439"/>
<rect x="601.6" y="289.1" width="4.6" height="4.6" fill="#5c6d43"/>
<rect x="605.6" y="289.1" width="4.6" height="4.6" fill="#929f87"/>
<rect x="609.6" y="289.1" width="4.6" height="4.6" fill="#4f6134"/>
<rect x="613.6" y="289.1" width="4.6" height="4.6" fill="#38491e"/>
<rect x="617.6" y="289.1" width="4.6" height="4.6" fill="#546845"/>
<rect x="621.6" y="289.1" width="4.6" height="4.6" fill="#708159"/>
<rect x="625.6" y="289.1" width="4.6" height="4.6" fill="#374a2a"/>
<rect x="629.6" y="289.1" width="4.6" height="4.6" fill="#445734"/>
<rect x="633.6" y="289.1" width="4.6" height="4.6" fill="#314215"/>
<rect x="637.6" y="289.1" width="4.6" height="4.6" fill="#dae3ce"/>
<rect x="641.6" y="289.1" width="4.6" height="4.6" fill="#a8b88e"/>
<rect x="645.6" y="289.1" width="4.6" height="4.6" fill="#c4cdbe"/>
<rect x="649.6" y="289.1" width="4.6" height="4.6" fill="#acbb92"/>
<rect x="653.6" y="289.1" width="4.6" height="4.6" fill="#9ba78f"/>
<rect x="657.6" y="289.1" width="4.6" height="4.6" fill="#6e7f69"/>
<rect x="661.6" y="289.1" width="4.6" height="4.6" fill="#9eab8f"/>
<rect x="665.6" y="289.1" width="4.6" height="4.6" fill="#b8c2bf"/>
<rect x="669.6" y="289.1" width="4.6" height="4.6" fill="#566a33"/>
<rect x="673.6" y="289.1" width="4.6" height="4.6" fill="#7c8e5b"/>
<rect x="677.6" y="289.1" width="4.6" height="4.6" fill="#556737"/>
<rect x="681.6" y="289.1" width="4.6" height="4.6" fill="#607357"/>
<rect x="685.6" y="289.1" width="4.6" height="4.6" fill="#95a395"/>
<rect x="689.6" y="289.1" width="4.6" height="4.6" fill="#6b7d4a"/>
<rect x="693.6" y="289.1" width="4.6" height="4.6" fill="#72826a"/>
<rect x="697.6" y="289.1" width="4.6" height="4.6" fill="#829283"/>
<rect x="701.6" y="289.1" width="4.6" height="4.6" fill="#a4ae9e"/>
<rect x="705.6" y="289.1" width="4.6" height="4.6" fill="#72815d"/>
<rect x="581.6" y="293.1" width="4.6" height="4.6" fill="#2b3c10"/>
<rect x="585.6" y="293.1" width="4.6" height="4.6" fill="#32431a"/>
<rect x="589.6" y="293.1" width="4.6" height="4.6" fill="#253419"/>
<rect x="593.6" y="293.1" width="4.6" height="4.6" fill="#223119"/>
<rect x="597.6" y="293.1" width="4.6" height="4.6" fill="#374918"/>
<rect x="601.6" y="293.1" width="4.6" height="4.6" fill="#566a49"/>
<rect x="605.6" y="293.1" width="4.6" height="4.6" fill="#475a35"/>
<rect x="609.6" y="293.1" width="4.6" height="4.6" fill="#718255"/>
<rect x="613.6" y="293.1" width="4.6" height="4.6" fill="#88988f"/>
<rect x="617.6" y="293.1" width="4.6" height="4.6" fill="#233110"/>
<rect x="621.6" y="293.1" width="4.6" height="4.6" fill="#0f1509"/>
<rect x="625.6" y="293.1" width="4.6" height="4.6" fill="#223017"/>
<rect x="629.6" y="293.1" width="4.6" height="4.6" fill="#6e7f50"/>
<rect x="633.6" y="293.1" width="4.6" height="4.6" fill="#68795b"/>
<rect x="637.6" y="293.1" width="4.6" height="4.6" fill="#d9e0df"/>
<rect x="641.6" y="293.1" width="4.6" height="4.6" fill="#455938"/>
<rect x="645.6" y="293.1" width="4.6" height="4.6" fill="#95a5a1"/>
<rect x="649.6" y="293.1" width="4.6" height="4.6" fill="#64754c"/>
<rect x="653.6" y="293.1" width="4.6" height="4.6" fill="#909f96"/>
<rect x="657.6" y="293.1" width="4.6" height="4.6" fill="#a7b592"/>
<rect x="661.6" y="293.1" width="4.6" height="4.6" fill="#2f4017"/>
<rect x="665.6" y="293.1" width="4.6" height="4.6" fill="#94a4a2"/>
<rect x="669.6" y="293.1" width="4.6" height="4.6" fill="#7d8e80"/>
<rect x="673.6" y="293.1" width="4.6" height="4.6" fill="#576b30"/>
<rect x="677.6" y="293.1" width="4.6" height="4.6" fill="#37481d"/>
<rect x="681.6" y="293.1" width="4.6" height="4.6" fill="#677754"/>
<rect x="685.6" y="293.1" width="4.6" height="4.6" fill="#687a63"/>
<rect x="689.6" y="293.1" width="4.6" height="4.6" fill="#778663"/>
<rect x="693.6" y="293.1" width="4.6" height="4.6" fill="#899972"/>
<rect x="697.6" y="293.1" width="4.6" height="4.6" fill="#75856b"/>
<rect x="701.6" y="293.1" width="4.6" height="4.6" fill="#566a32"/>
<rect x="705.6" y="293.1" width="4.6" height="4.6" fill="#7d8f5d"/>
</g>
<g filter="url(#bl2)"><text transform="translate(585.2,182.6) scale(0.95,1)" font-size="17" font-weight="bold" fill="#d4d9ce">25 °C</text>
<line x1="585" y1="287" x2="619.7" y2="287" stroke="#eef2ea" stroke-width="2.2"/>
<text transform="translate(587.6,282.7) scale(0.86,1)" font-size="12.5" font-weight="bold" fill="#d8dfd2" opacity="0.75">10 µm</text></g>
</svg>
<svg x="716.9" y="169.1" width="127.9" height="125" viewBox="716.9 169.1 127.9 125" overflow="hidden"><g filter="url(#bl)">
<rect x="716.9" y="169.1" width="4.6" height="4.6" fill="#040502"/>
<rect x="720.9" y="169.1" width="4.6" height="4.6" fill="#040502"/>
<rect x="724.9" y="169.1" width="4.6" height="4.6" fill="#040502"/>
<rect x="728.9" y="169.1" width="4.6" height="4.6" fill="#040502"/>
<rect x="732.9" y="169.1" width="4.6" height="4.6" fill="#040502"/>
<rect x="736.9" y="169.1" width="4.6" height="4.6" fill="#040502"/>
<rect x="740.9" y="169.1" width="4.6" height="4.6" fill="#040502"/>
<rect x="744.9" y="169.1" width="4.6" height="4.6" fill="#040502"/>
<rect x="748.9" y="169.1" width="4.6" height="4.6" fill="#040502"/>
<rect x="752.9" y="169.1" width="4.6" height="4.6" fill="#040502"/>
<rect x="756.9" y="169.1" width="4.6" height="4.6" fill="#040502"/>
<rect x="760.9" y="169.1" width="4.6" height="4.6" fill="#040502"/>
<rect x="764.9" y="169.1" width="4.6" height="4.6" fill="#738571"/>
<rect x="768.9" y="169.1" width="4.6" height="4.6" fill="#c7d0ce"/>
<rect x="772.9" y="169.1" width="4.6" height="4.6" fill="#7b8d5b"/>
<rect x="776.9" y="169.1" width="4.6" height="4.6" fill="#637545"/>
<rect x="780.9" y="169.1" width="4.6" height="4.6" fill="#28380f"/>
<rect x="784.9" y="169.1" width="4.6" height="4.6" fill="#3a4d1a"/>
<rect x="788.9" y="169.1" width="4.6" height="4.6" fill="#b1bda0"/>
<rect x="792.9" y="169.1" width="4.6" height="4.6" fill="#a5b3b5"/>
<rect x="796.9" y="169.1" width="4.6" height="4.6" fill="#32421e"/>
<rect x="800.9" y="169.1" width="4.6" height="4.6" fill="#212d12"/>
<rect x="804.9" y="169.1" width="4.6" height="4.6" fill="#8c9b73"/>
<rect x="808.9" y="169.1" width="4.6" height="4.6" fill="#3e5021"/>
<rect x="812.9" y="169.1" width="4.6" height="4.6" fill="#7d8d79"/>
<rect x="816.9" y="169.1" width="4.6" height="4.6" fill="#8c9c95"/>
<rect x="820.9" y="169.1" width="4.6" height="4.6" fill="#7f9083"/>
<rect x="824.9" y="169.1" width="4.6" height="4.6" fill="#d9e1d1"/>
<rect x="828.9" y="169.1" width="4.6" height="4.6" fill="#dce3d3"/>
<rect x="832.9" y="169.1" width="4.6" height="4.6" fill="#d1d8d3"/>
<rect x="836.9" y="169.1" width="4.6" height="4.6" fill="#eef5ff"/>
<rect x="840.9" y="169.1" width="4.6" height="4.6" fill="#eef5ff"/>
<rect x="716.9" y="173.1" width="4.6" height="4.6" fill="#040502"/>
<rect x="720.9" y="173.1" width="4.6" height="4.6" fill="#040502"/>
<rect x="724.9" y="173.1" width="4.6" height="4.6" fill="#040502"/>
<rect x="728.9" y="173.1" width="4.6" height="4.6" fill="#040502"/>
<rect x="732.9" y="173.1" width="4.6" height="4.6" fill="#040502"/>
<rect x="736.9" y="173.1" width="4.6" height="4.6" fill="#040502"/>
<rect x="740.9" y="173.1" width="4.6" height="4.6" fill="#040502"/>
<rect x="744.9" y="173.1" width="4.6" height="4.6" fill="#040502"/>
<rect x="748.9" y="173.1" width="4.6" height="4.6" fill="#040502"/>
<rect x="752.9" y="173.1" width="4.6" height="4.6" fill="#040502"/>
<rect x="756.9" y="173.1" width="4.6" height="4.6" fill="#040502"/>
<rect x="760.9" y="173.1" width="4.6" height="4.6" fill="#060702"/>
<rect x="764.9" y="173.1" width="4.6" height="4.6" fill="#b4c1c6"/>
<rect x="768.9" y="173.1" width="4.6" height="4.6" fill="#4e623b"/>
<rect x="772.9" y="173.1" width="4.6" height="4.6" fill="#5c6f4c"/>
<rect x="776.9" y="173.1" width="4.6" height="4.6" fill="#58693f"/>
<rect x="780.9" y="173.1" width="4.6" height="4.6" fill="#2a3a1a"/>
<rect x="784.9" y="173.1" width="4.6" height="4.6" fill="#2b3c13"/>
<rect x="788.9" y="173.1" width="4.6" height="4.6" fill="#a9b793"/>
<rect x="792.9" y="173.1" width="4.6" height="4.6" fill="#9ba790"/>
<rect x="796.9" y="173.1" width="4.6" height="4.6" fill="#51643e"/>
<rect x="800.9" y="173.1" width="4.6" height="4.6" fill="#2d3d17"/>
<rect x="804.9" y="173.1" width="4.6" height="4.6" fill="#4b5f3d"/>
<rect x="808.9" y="173.1" width="4.6" height="4.6" fill="#86978e"/>
<rect x="812.9" y="173.1" width="4.6" height="4.6" fill="#8d9b8e"/>
<rect x="816.9" y="173.1" width="4.6" height="4.6" fill="#abb6a4"/>
<rect x="820.9" y="173.1" width="4.6" height="4.6" fill="#8d9b8c"/>
<rect x="824.9" y="173.1" width="4.6" height="4.6" fill="#576a3a"/>
<rect x="828.9" y="173.1" width="4.6" height="4.6" fill="#8b997c"/>
<rect x="832.9" y="173.1" width="4.6" height="4.6" fill="#e7effd"/>
<rect x="836.9" y="173.1" width="4.6" height="4.6" fill="#eff5fe"/>
<rect x="840.9" y="173.1" width="4.6" height="4.6" fill="#f7fde8"/>
<rect x="716.9" y="177.1" width="4.6" height="4.6" fill="#040502"/>
<rect x="720.9" y="177.1" width="4.6" height="4.6" fill="#040502"/>
<rect x="724.9" y="177.1" width="4.6" height="4.6" fill="#040502"/>
<rect x="728.9" y="177.1" width="4.6" height="4.6" fill="#040502"/>
<rect x="732.9" y="177.1" width="4.6" height="4.6" fill="#040502"/>
<rect x="736.9" y="177.1" width="4.6" height="4.6" fill="#040502"/>
<rect x="740.9" y="177.1" width="4.6" height="4.6" fill="#040502"/>
<rect x="744.9" y="177.1" width="4.6" height="4.6" fill="#040502"/>
<rect x="748.9" y="177.1" width="4.6" height="4.6" fill="#0b1007"/>
<rect x="752.9" y="177.1" width="4.6" height="4.6" fill="#101608"/>
<rect x="756.9" y="177.1" width="4.6" height="4.6" fill="#0f1404"/>
<rect x="760.9" y="177.1" width="4.6" height="4.6" fill="#1e2b15"/>
<rect x="764.9" y="177.1" width="4.6" height="4.6" fill="#7d8b70"/>
<rect x="768.9" y="177.1" width="4.6" height="4.6" fill="#e2e9ef"/>
<rect x="772.9" y="177.1" width="4.6" height="4.6" fill="#9faeae"/>
<rect x="776.9" y="177.1" width="4.6" height="4.6" fill="#697a5d"/>
<rect x="780.9" y="177.1" width="4.6" height="4.6" fill="#121807"/>
<rect x="784.9" y="177.1" width="4.6" height="4.6" fill="#141c0d"/>
<rect x="788.9" y="177.1" width="4.6" height="4.6" fill="#5c6f51"/>
<rect x="792.9" y="177.1" width="4.6" height="4.6" fill="#556948"/>
<rect x="796.9" y="177.1" width="4.6" height="4.6" fill="#161e09"/>
<rect x="800.9" y="177.1" width="4.6" height="4.6" fill="#101605"/>
<rect x="804.9" y="177.1" width="4.6" height="4.6" fill="#5a6e32"/>
<rect x="808.9" y="177.1" width="4.6" height="4.6" fill="#748753"/>
<rect x="812.9" y="177.1" width="4.6" height="4.6" fill="#4e622b"/>
<rect x="816.9" y="177.1" width="4.6" height="4.6" fill="#c7d4b0"/>
<rect x="820.9" y="177.1" width="4.6" height="4.6" fill="#abb998"/>
<rect x="824.9" y="177.1" width="4.6" height="4.6" fill="#6c7e4e"/>
<rect x="828.9" y="177.1" width="4.6" height="4.6" fill="#93a180"/>
<rect x="832.9" y="177.1" width="4.6" height="4.6" fill="#f4f7f2"/>
<rect x="836.9" y="177.1" width="4.6" height="4.6" fill="#b2bda9"/>
<rect x="840.9" y="177.1" width="4.6" height="4.6" fill="#e6efd5"/>
<rect x="716.9" y="181.1" width="4.6" height="4.6" fill="#040502"/>
<rect x="720.9" y="181.1" width="4.6" height="4.6" fill="#040502"/>
<rect x="724.9" y="181.1" width="4.6" height="4.6" fill="#040502"/>
<rect x="728.9" y="181.1" width="4.6" height="4.6" fill="#040502"/>
<rect x="732.9" y="181.1" width="4.6" height="4.6" fill="#040502"/>
<rect x="736.9" y="181.1" width="4.6" height="4.6" fill="#040502"/>
<rect x="740.9" y="181.1" width="4.6" height="4.6" fill="#040502"/>
<rect x="744.9" y="181.1" width="4.6" height="4.6" fill="#060803"/>
<rect x="748.9" y="181.1" width="4.6" height="4.6" fill="#161e06"/>
<rect x="752.9" y="181.1" width="4.6" height="4.6" fill="#111708"/>
<rect x="756.9" y="181.1" width="4.6" height="4.6" fill="#202c0c"/>
<rect x="760.9" y="181.1" width="4.6" height="4.6" fill="#222f14"/>
<rect x="764.9" y="181.1" width="4.6" height="4.6" fill="#edf2f8"/>
<rect x="768.9" y="181.1" width="4.6" height="4.6" fill="#b0baae"/>
<rect x="772.9" y="181.1" width="4.6" height="4.6" fill="#121906"/>
<rect x="776.9" y="181.1" width="4.6" height="4.6" fill="#697b65"/>
<rect x="780.9" y="181.1" width="4.6" height="4.6" fill="#19230d"/>
<rect x="784.9" y="181.1" width="4.6" height="4.6" fill="#121906"/>
<rect x="788.9" y="181.1" width="4.6" height="4.6" fill="#647644"/>
<rect x="792.9" y="181.1" width="4.6" height="4.6" fill="#394a23"/>
<rect x="796.9" y="181.1" width="4.6" height="4.6" fill="#1f2c16"/>
<rect x="800.9" y="181.1" width="4.6" height="4.6" fill="#161e0b"/>
<rect x="804.9" y="181.1" width="4.6" height="4.6" fill="#354727"/>
<rect x="808.9" y="181.1" width="4.6" height="4.6" fill="#7b8a67"/>
<rect x="812.9" y="181.1" width="4.6" height="4.6" fill="#83936b"/>
<rect x="816.9" y="181.1" width="4.6" height="4.6" fill="#e3e9e9"/>
<rect x="820.9" y="181.1" width="4.6" height="4.6" fill="#bac6cb"/>
<rect x="824.9" y="181.1" width="4.6" height="4.6" fill="#253312"/>
<rect x="828.9" y="181.1" width="4.6" height="4.6" fill="#f3f6f4"/>
<rect x="832.9" y="181.1" width="4.6" height="4.6" fill="#c4d0af"/>
<rect x="836.9" y="181.1" width="4.6" height="4.6" fill="#bfc8c6"/>
<rect x="840.9" y="181.1" width="4.6" height="4.6" fill="#c1cdd6"/>
<rect x="716.9" y="185.1" width="4.6" height="4.6" fill="#040502"/>
<rect x="720.9" y="185.1" width="4.6" height="4.6" fill="#040502"/>
<rect x="724.9" y="185.1" width="4.6" height="4.6" fill="#040502"/>
<rect x="728.9" y="185.1" width="4.6" height="4.6" fill="#040502"/>
<rect x="732.9" y="185.1" width="4.6" height="4.6" fill="#0b0f07"/>
<rect x="736.9" y="185.1" width="4.6" height="4.6" fill="#101604"/>
<rect x="740.9" y="185.1" width="4.6" height="4.6" fill="#31421a"/>
<rect x="744.9" y="185.1" width="4.6" height="4.6" fill="#202e16"/>
<rect x="748.9" y="185.1" width="4.6" height="4.6" fill="#131a06"/>
<rect x="752.9" y="185.1" width="4.6" height="4.6" fill="#12190b"/>
<rect x="756.9" y="185.1" width="4.6" height="4.6" fill="#384924"/>
<rect x="760.9" y="185.1" width="4.6" height="4.6" fill="#223018"/>
<rect x="764.9" y="185.1" width="4.6" height="4.6" fill="#344623"/>
<rect x="768.9" y="185.1" width="4.6" height="4.6" fill="#596b45"/>
<rect x="772.9" y="185.1" width="4.6" height="4.6" fill="#73846e"/>
<rect x="776.9" y="185.1" width="4.6" height="4.6" fill="#bbc4b3"/>
<rect x="780.9" y="185.1" width="4.6" height="4.6" fill="#202c12"/>
<rect x="784.9" y="185.1" width="4.6" height="4.6" fill="#222f0e"/>
<rect x="788.9" y="185.1" width="4.6" height="4.6" fill="#2b3c1b"/>
<rect x="792.9" y="185.1" width="4.6" height="4.6" fill="#667757"/>
<rect x="796.9" y="185.1" width="4.6" height="4.6" fill="#7c8a6c"/>
<rect x="800.9" y="185.1" width="4.6" height="4.6" fill="#41532a"/>
<rect x="804.9" y="185.1" width="4.6" height="4.6" fill="#6f8068"/>
<rect x="808.9" y="185.1" width="4.6" height="4.6" fill="#2a3b1b"/>
<rect x="812.9" y="185.1" width="4.6" height="4.6" fill="#202e15"/>
<rect x="816.9" y="185.1" width="4.6" height="4.6" fill="#71815d"/>
<rect x="820.9" y="185.1" width="4.6" height="4.6" fill="#425423"/>
<rect x="824.9" y="185.1" width="4.6" height="4.6" fill="#687853"/>
<rect x="828.9" y="185.1" width="4.6" height="4.6" fill="#dce4cf"/>
<rect x="832.9" y="185.1" width="4.6" height="4.6" fill="#6d7f4c"/>
<rect x="836.9" y="185.1" width="4.6" height="4.6" fill="#b6c2a7"/>
<rect x="840.9" y="185.1" width="4.6" height="4.6" fill="#cdd5c6"/>
<rect x="716.9" y="189.1" width="4.6" height="4.6" fill="#040502"/>
<rect x="720.9" y="189.1" width="4.6" height="4.6" fill="#040502"/>
<rect x="724.9" y="189.1" width="4.6" height="4.6" fill="#040502"/>
<rect x="728.9" y="189.1" width="4.6" height="4.6" fill="#040502"/>
<rect x="732.9" y="189.1" width="4.6" height="4.6" fill="#0d1204"/>
<rect x="736.9" y="189.1" width="4.6" height="4.6" fill="#0f1508"/>
<rect x="740.9" y="189.1" width="4.6" height="4.6" fill="#293911"/>
<rect x="744.9" y="189.1" width="4.6" height="4.6" fill="#374a18"/>
<rect x="748.9" y="189.1" width="4.6" height="4.6" fill="#0f1509"/>
<rect x="752.9" y="189.1" width="4.6" height="4.6" fill="#0f1407"/>
<rect x="756.9" y="189.1" width="4.6" height="4.6" fill="#526532"/>
<rect x="760.9" y="189.1" width="4.6" height="4.6" fill="#607439"/>
<rect x="764.9" y="189.1" width="4.6" height="4.6" fill="#354717"/>
<rect x="768.9" y="189.1" width="4.6" height="4.6" fill="#2b3c1a"/>
<rect x="772.9" y="189.1" width="4.6" height="4.6" fill="#798868"/>
<rect x="776.9" y="189.1" width="4.6" height="4.6" fill="#6a7d47"/>
<rect x="780.9" y="189.1" width="4.6" height="4.6" fill="#60753a"/>
<rect x="784.9" y="189.1" width="4.6" height="4.6" fill="#435623"/>
<rect x="788.9" y="189.1" width="4.6" height="4.6" fill="#354716"/>
<rect x="792.9" y="189.1" width="4.6" height="4.6" fill="#b1bec2"/>
<rect x="796.9" y="189.1" width="4.6" height="4.6" fill="#334516"/>
<rect x="800.9" y="189.1" width="4.6" height="4.6" fill="#52653f"/>
<rect x="804.9" y="189.1" width="4.6" height="4.6" fill="#d1dcbb"/>
<rect x="808.9" y="189.1" width="4.6" height="4.6" fill="#243419"/>
<rect x="812.9" y="189.1" width="4.6" height="4.6" fill="#8a9973"/>
<rect x="816.9" y="189.1" width="4.6" height="4.6" fill="#bbc5b3"/>
<rect x="820.9" y="189.1" width="4.6" height="4.6" fill="#526641"/>
<rect x="824.9" y="189.1" width="4.6" height="4.6" fill="#647741"/>
<rect x="828.9" y="189.1" width="4.6" height="4.6" fill="#9caa8a"/>
<rect x="832.9" y="189.1" width="4.6" height="4.6" fill="#9aaaab"/>
<rect x="836.9" y="189.1" width="4.6" height="4.6" fill="#97a394"/>
<rect x="840.9" y="189.1" width="4.6" height="4.6" fill="#95a37e"/>
<rect x="716.9" y="193.1" width="4.6" height="4.6" fill="#040502"/>
<rect x="720.9" y="193.1" width="4.6" height="4.6" fill="#040502"/>
<rect x="724.9" y="193.1" width="4.6" height="4.6" fill="#040502"/>
<rect x="728.9" y="193.1" width="4.6" height="4.6" fill="#040502"/>
<rect x="732.9" y="193.1" width="4.6" height="4.6" fill="#0e1206"/>
<rect x="736.9" y="193.1" width="4.6" height="4.6" fill="#10160a"/>
<rect x="740.9" y="193.1" width="4.6" height="4.6" fill="#324425"/>
<rect x="744.9" y="193.1" width="4.6" height="4.6" fill="#283810"/>
<rect x="748.9" y="193.1" width="4.6" height="4.6" fill="#12190b"/>
<rect x="752.9" y="193.1" width="4.6" height="4.6" fill="#11180b"/>
<rect x="756.9" y="193.1" width="4.6" height="4.6" fill="#1d270b"/>
<rect x="760.9" y="193.1" width="4.6" height="4.6" fill="#445837"/>
<rect x="764.9" y="193.1" width="4.6" height="4.6" fill="#99a784"/>
<rect x="768.9" y="193.1" width="4.6" height="4.6" fill="#8b9a8c"/>
<rect x="772.9" y="193.1" width="4.6" height="4.6" fill="#687854"/>
<rect x="776.9" y="193.1" width="4.6" height="4.6" fill="#354725"/>
<rect x="780.9" y="193.1" width="4.6" height="4.6" fill="#637451"/>
<rect x="784.9" y="193.1" width="4.6" height="4.6" fill="#5c6e3b"/>
<rect x="788.9" y="193.1" width="4.6" height="4.6" fill="#2d3f20"/>
<rect x="792.9" y="193.1" width="4.6" height="4.6" fill="#62753f"/>
<rect x="796.9" y="193.1" width="4.6" height="4.6" fill="#5b6d3c"/>
<rect x="800.9" y="193.1" width="4.6" height="4.6" fill="#a1b0b3"/>
<rect x="804.9" y="193.1" width="4.6" height="4.6" fill="#9baaaa"/>
<rect x="808.9" y="193.1" width="4.6" height="4.6" fill="#bac7a7"/>
<rect x="812.9" y="193.1" width="4.6" height="4.6" fill="#314313"/>
<rect x="816.9" y="193.1" width="4.6" height="4.6" fill="#6d7f4c"/>
<rect x="820.9" y="193.1" width="4.6" height="4.6" fill="#596c36"/>
<rect x="824.9" y="193.1" width="4.6" height="4.6" fill="#546740"/>
<rect x="828.9" y="193.1" width="4.6" height="4.6" fill="#5d7050"/>
<rect x="832.9" y="193.1" width="4.6" height="4.6" fill="#bac7ce"/>
<rect x="836.9" y="193.1" width="4.6" height="4.6" fill="#e7ede0"/>
<rect x="840.9" y="193.1" width="4.6" height="4.6" fill="#bdc7c5"/>
<rect x="716.9" y="197.1" width="4.6" height="4.6" fill="#040502"/>
<rect x="720.9" y="197.1" width="4.6" height="4.6" fill="#040502"/>
<rect x="724.9" y="197.1" width="4.6" height="4.6" fill="#040502"/>
<rect x="728.9" y="197.1" width="4.6" height="4.6" fill="#040502"/>
<rect x="732.9" y="197.1" width="4.6" height="4.6" fill="#0c1107"/>
<rect x="736.9" y="197.1" width="4.6" height="4.6" fill="#141b0b"/>
<rect x="740.9" y="197.1" width="4.6" height="4.6" fill="#4e6138"/>
<rect x="744.9" y="197.1" width="4.6" height="4.6" fill="#4a5d2c"/>
<rect x="748.9" y="197.1" width="4.6" height="4.6" fill="#121807"/>
<rect x="752.9" y="197.1" width="4.6" height="4.6" fill="#141c0e"/>
<rect x="756.9" y="197.1" width="4.6" height="4.6" fill="#304116"/>
<rect x="760.9" y="197.1" width="4.6" height="4.6" fill="#31421f"/>
<rect x="764.9" y="197.1" width="4.6" height="4.6" fill="#475a27"/>
<rect x="768.9" y="197.1" width="4.6" height="4.6" fill="#b9c2b2"/>
<rect x="772.9" y="197.1" width="4.6" height="4.6" fill="#506330"/>
<rect x="776.9" y="197.1" width="4.6" height="4.6" fill="#2e3f15"/>
<rect x="780.9" y="197.1" width="4.6" height="4.6" fill="#33441a"/>
<rect x="784.9" y="197.1" width="4.6" height="4.6" fill="#b5beb1"/>
<rect x="788.9" y="197.1" width="4.6" height="4.6" fill="#425428"/>
<rect x="792.9" y="197.1" width="4.6" height="4.6" fill="#a9b49e"/>
<rect x="796.9" y="197.1" width="4.6" height="4.6" fill="#f3fae6"/>
<rect x="800.9" y="197.1" width="4.6" height="4.6" fill="#748677"/>
<rect x="804.9" y="197.1" width="4.6" height="4.6" fill="#3a4d2b"/>
<rect x="808.9" y="197.1" width="4.6" height="4.6" fill="#2b3a17"/>
<rect x="812.9" y="197.1" width="4.6" height="4.6" fill="#4b5d2e"/>
<rect x="816.9" y="197.1" width="4.6" height="4.6" fill="#2c3d1c"/>
<rect x="820.9" y="197.1" width="4.6" height="4.6" fill="#9daba4"/>
<rect x="824.9" y="197.1" width="4.6" height="4.6" fill="#839464"/>
<rect x="828.9" y="197.1" width="4.6" height="4.6" fill="#73835f"/>
<rect x="832.9" y="197.1" width="4.6" height="4.6" fill="#f7fee7"/>
<rect x="836.9" y="197.1" width="4.6" height="4.6" fill="#b4c1c5"/>
<rect x="840.9" y="197.1" width="4.6" height="4.6" fill="#dae2d1"/>
<rect x="716.9" y="201.1" width="4.6" height="4.6" fill="#040502"/>
<rect x="720.9" y="201.1" width="4.6" height="4.6" fill="#040502"/>
<rect x="724.9" y="201.1" width="4.6" height="4.6" fill="#040502"/>
<rect x="728.9" y="201.1" width="4.6" height="4.6" fill="#040502"/>
<rect x="732.9" y="201.1" width="4.6" height="4.6" fill="#161e09"/>
<rect x="736.9" y="201.1" width="4.6" height="4.6" fill="#0f1406"/>
<rect x="740.9" y="201.1" width="4.6" height="4.6" fill="#6a7c47"/>
<rect x="744.9" y="201.1" width="4.6" height="4.6" fill="#4a5e28"/>
<rect x="748.9" y="201.1" width="4.6" height="4.6" fill="#161e07"/>
<rect x="752.9" y="201.1" width="4.6" height="4.6" fill="#0f1409"/>
<rect x="756.9" y="201.1" width="4.6" height="4.6" fill="#2f401f"/>
<rect x="760.9" y="201.1" width="4.6" height="4.6" fill="#233012"/>
<rect x="764.9" y="201.1" width="4.6" height="4.6" fill="#617344"/>
<rect x="768.9" y="201.1" width="4.6" height="4.6" fill="#63763e"/>
<rect x="772.9" y="201.1" width="4.6" height="4.6" fill="#8c9a77"/>
<rect x="776.9" y="201.1" width="4.6" height="4.6" fill="#e0e9d1"/>
<rect x="780.9" y="201.1" width="4.6" height="4.6" fill="#aab893"/>
<rect x="784.9" y="201.1" width="4.6" height="4.6" fill="#70824f"/>
<rect x="788.9" y="201.1" width="4.6" height="4.6" fill="#919f7c"/>
<rect x="792.9" y="201.1" width="4.6" height="4.6" fill="#657652"/>
<rect x="796.9" y="201.1" width="4.6" height="4.6" fill="#425532"/>
<rect x="800.9" y="201.1" width="4.6" height="4.6" fill="#96a396"/>
<rect x="804.9" y="201.1" width="4.6" height="4.6" fill="#aeb8af"/>
<rect x="808.9" y="201.1" width="4.6" height="4.6" fill="#c7d2db"/>
<rect x="812.9" y="201.1" width="4.6" height="4.6" fill="#2d3e12"/>
<rect x="816.9" y="201.1" width="4.6" height="4.6" fill="#394c2b"/>
<rect x="820.9" y="201.1" width="4.6" height="4.6" fill="#92a277"/>
<rect x="824.9" y="201.1" width="4.6" height="4.6" fill="#7c8a6b"/>
<rect x="828.9" y="201.1" width="4.6" height="4.6" fill="#dbe4ce"/>
<rect x="832.9" y="201.1" width="4.6" height="4.6" fill="#cfd7d8"/>
<rect x="836.9" y="201.1" width="4.6" height="4.6" fill="#c1cdd4"/>
<rect x="840.9" y="201.1" width="4.6" height="4.6" fill="#f5f9ef"/>
<rect x="716.9" y="205.1" width="4.6" height="4.6" fill="#040502"/>
<rect x="720.9" y="205.1" width="4.6" height="4.6" fill="#040502"/>
<rect x="724.9" y="205.1" width="4.6" height="4.6" fill="#040502"/>
<rect x="728.9" y="205.1" width="4.6" height="4.6" fill="#040502"/>
<rect x="732.9" y="205.1" width="4.6" height="4.6" fill="#0f1408"/>
<rect x="736.9" y="205.1" width="4.6" height="4.6" fill="#222f13"/>
<rect x="740.9" y="205.1" width="4.6" height="4.6" fill="#526643"/>
<rect x="744.9" y="205.1" width="4.6" height="4.6" fill="#405224"/>
<rect x="748.9" y="205.1" width="4.6" height="4.6" fill="#141c09"/>
<rect x="752.9" y="205.1" width="4.6" height="4.6" fill="#1d2812"/>
<rect x="756.9" y="205.1" width="4.6" height="4.6" fill="#324317"/>
<rect x="760.9" y="205.1" width="4.6" height="4.6" fill="#3e5026"/>
<rect x="764.9" y="205.1" width="4.6" height="4.6" fill="#62755b"/>
<rect x="768.9" y="205.1" width="4.6" height="4.6" fill="#7d8e80"/>
<rect x="772.9" y="205.1" width="4.6" height="4.6" fill="#7e8d69"/>
<rect x="776.9" y="205.1" width="4.6" height="4.6" fill="#8e9d75"/>
<rect x="780.9" y="205.1" width="4.6" height="4.6" fill="#758466"/>
<rect x="784.9" y="205.1" width="4.6" height="4.6" fill="#50642b"/>
<rect x="788.9" y="205.1" width="4.6" height="4.6" fill="#899873"/>
<rect x="792.9" y="205.1" width="4.6" height="4.6" fill="#98a7a3"/>
<rect x="796.9" y="205.1" width="4.6" height="4.6" fill="#2a3a12"/>
<rect x="800.9" y="205.1" width="4.6" height="4.6" fill="#9faf83"/>
<rect x="804.9" y="205.1" width="4.6" height="4.6" fill="#3f5332"/>
<rect x="808.9" y="205.1" width="4.6" height="4.6" fill="#899874"/>
<rect x="812.9" y="205.1" width="4.6" height="4.6" fill="#2b3b17"/>
<rect x="816.9" y="205.1" width="4.6" height="4.6" fill="#5c7035"/>
<rect x="820.9" y="205.1" width="4.6" height="4.6" fill="#34451c"/>
<rect x="824.9" y="205.1" width="4.6" height="4.6" fill="#b5c2a5"/>
<rect x="828.9" y="205.1" width="4.6" height="4.6" fill="#7b8c7f"/>
<rect x="832.9" y="205.1" width="4.6" height="4.6" fill="#b4c1c9"/>
<rect x="836.9" y="205.1" width="4.6" height="4.6" fill="#cdd4ce"/>
<rect x="840.9" y="205.1" width="4.6" height="4.6" fill="#f3fbdf"/>
<rect x="716.9" y="209.1" width="4.6" height="4.6" fill="#040502"/>
<rect x="720.9" y="209.1" width="4.6" height="4.6" fill="#040502"/>
<rect x="724.9" y="209.1" width="4.6" height="4.6" fill="#040502"/>
<rect x="728.9" y="209.1" width="4.6" height="4.6" fill="#040502"/>
<rect x="732.9" y="209.1" width="4.6" height="4.6" fill="#2d3f13"/>
<rect x="736.9" y="209.1" width="4.6" height="4.6" fill="#1e290b"/>
<rect x="740.9" y="209.1" width="4.6" height="4.6" fill="#16200f"/>
<rect x="744.9" y="209.1" width="4.6" height="4.6" fill="#0a0e05"/>
<rect x="748.9" y="209.1" width="4.6" height="4.6" fill="#30401d"/>
<rect x="752.9" y="209.1" width="4.6" height="4.6" fill="#243110"/>
<rect x="756.9" y="209.1" width="4.6" height="4.6" fill="#84946d"/>
<rect x="760.9" y="209.1" width="4.6" height="4.6" fill="#62724a"/>
<rect x="764.9" y="209.1" width="4.6" height="4.6" fill="#4a5d26"/>
<rect x="768.9" y="209.1" width="4.6" height="4.6" fill="#1c260c"/>
<rect x="772.9" y="209.1" width="4.6" height="4.6" fill="#75856f"/>
<rect x="776.9" y="209.1" width="4.6" height="4.6" fill="#9da99c"/>
<rect x="780.9" y="209.1" width="4.6" height="4.6" fill="#627454"/>
<rect x="784.9" y="209.1" width="4.6" height="4.6" fill="#95a5a4"/>
<rect x="788.9" y="209.1" width="4.6" height="4.6" fill="#e6edda"/>
<rect x="792.9" y="209.1" width="4.6" height="4.6" fill="#f1f7e4"/>
<rect x="796.9" y="209.1" width="4.6" height="4.6" fill="#aab7ba"/>
<rect x="800.9" y="209.1" width="4.6" height="4.6" fill="#9dacae"/>
<rect x="804.9" y="209.1" width="4.6" height="4.6" fill="#566a34"/>
<rect x="808.9" y="209.1" width="4.6" height="4.6" fill="#86956f"/>
<rect x="812.9" y="209.1" width="4.6" height="4.6" fill="#f4f7f2"/>
<rect x="816.9" y="209.1" width="4.6" height="4.6" fill="#dde5d1"/>
<rect x="820.9" y="209.1" width="4.6" height="4.6" fill="#4f633e"/>
<rect x="824.9" y="209.1" width="4.6" height="4.6" fill="#acb8b2"/>
<rect x="828.9" y="209.1" width="4.6" height="4.6" fill="#ecf1e7"/>
<rect x="832.9" y="209.1" width="4.6" height="4.6" fill="#dbe1da"/>
<rect x="836.9" y="209.1" width="4.6" height="4.6" fill="#99a58e"/>
<rect x="840.9" y="209.1" width="4.6" height="4.6" fill="#a5b3b7"/>
<rect x="716.9" y="213.1" width="4.6" height="4.6" fill="#040502"/>
<rect x="720.9" y="213.1" width="4.6" height="4.6" fill="#040502"/>
<rect x="724.9" y="213.1" width="4.6" height="4.6" fill="#040502"/>
<rect x="728.9" y="213.1" width="4.6" height="4.6" fill="#040502"/>
<rect x="732.9" y="213.1" width="4.6" height="4.6" fill="#131a05"/>
<rect x="736.9" y="213.1" width="4.6" height="4.6" fill="#405223"/>
<rect x="740.9" y="213.1" width="4.6" height="4.6" fill="#171f09"/>
<rect x="744.9" y="213.1" width="4.6" height="4.6" fill="#18210b"/>
<rect x="748.9" y="213.1" width="4.6" height="4.6" fill="#47592c"/>
<rect x="752.9" y="213.1" width="4.6" height="4.6" fill="#2f401c"/>
<rect x="756.9" y="213.1" width="4.6" height="4.6" fill="#263516"/>
<rect x="760.9" y="213.1" width="4.6" height="4.6" fill="#7d8e80"/>
<rect x="764.9" y="213.1" width="4.6" height="4.6" fill="#6a7a51"/>
<rect x="768.9" y="213.1" width="4.6" height="4.6" fill="#9dab85"/>
<rect x="772.9" y="213.1" width="4.6" height="4.6" fill="#c8cfc6"/>
<rect x="776.9" y="213.1" width="4.6" height="4.6" fill="#6e824a"/>
<rect x="780.9" y="213.1" width="4.6" height="4.6" fill="#9daba6"/>
<rect x="784.9" y="213.1" width="4.6" height="4.6" fill="#5c6f4f"/>
<rect x="788.9" y="213.1" width="4.6" height="4.6" fill="#f2f6f7"/>
<rect x="792.9" y="213.1" width="4.6" height="4.6" fill="#adba9d"/>
<rect x="796.9" y="213.1" width="4.6" height="4.6" fill="#f2f7ea"/>
<rect x="800.9" y="213.1" width="4.6" height="4.6" fill="#869866"/>
<rect x="804.9" y="213.1" width="4.6" height="4.6" fill="#213018"/>
<rect x="808.9" y="213.1" width="4.6" height="4.6" fill="#5f7046"/>
<rect x="812.9" y="213.1" width="4.6" height="4.6" fill="#f7fde9"/>
<rect x="816.9" y="213.1" width="4.6" height="4.6" fill="#82907b"/>
<rect x="820.9" y="213.1" width="4.6" height="4.6" fill="#677a43"/>
<rect x="824.9" y="213.1" width="4.6" height="4.6" fill="#3b4d22"/>
<rect x="828.9" y="213.1" width="4.6" height="4.6" fill="#b4bdaf"/>
<rect x="832.9" y="213.1" width="4.6" height="4.6" fill="#d3dad2"/>
<rect x="836.9" y="213.1" width="4.6" height="4.6" fill="#8e9d93"/>
<rect x="840.9" y="213.1" width="4.6" height="4.6" fill="#647760"/>
<rect x="716.9" y="217.1" width="4.6" height="4.6" fill="#040502"/>
<rect x="720.9" y="217.1" width="4.6" height="4.6" fill="#040502"/>
<rect x="724.9" y="217.1" width="4.6" height="4.6" fill="#040502"/>
<rect x="728.9" y="217.1" width="4.6" height="4.6" fill="#040502"/>
<rect x="732.9" y="217.1" width="4.6" height="4.6" fill="#151d0a"/>
<rect x="736.9" y="217.1" width="4.6" height="4.6" fill="#141b0a"/>
<rect x="740.9" y="217.1" width="4.6" height="4.6" fill="#24320d"/>
<rect x="744.9" y="217.1" width="4.6" height="4.6" fill="#243318"/>
<rect x="748.9" y="217.1" width="4.6" height="4.6" fill="#7c8c76"/>
<rect x="752.9" y="217.1" width="4.6" height="4.6" fill="#42532a"/>
<rect x="756.9" y="217.1" width="4.6" height="4.6" fill="#4a5c33"/>
<rect x="760.9" y="217.1" width="4.6" height="4.6" fill="#c0c9c1"/>
<rect x="764.9" y="217.1" width="4.6" height="4.6" fill="#8d9b7e"/>
<rect x="768.9" y="217.1" width="4.6" height="4.6" fill="#5c7035"/>
<rect x="772.9" y="217.1" width="4.6" height="4.6" fill="#93a378"/>
<rect x="776.9" y="217.1" width="4.6" height="4.6" fill="#54673e"/>
<rect x="780.9" y="217.1" width="4.6" height="4.6" fill="#121806"/>
<rect x="784.9" y="217.1" width="4.6" height="4.6" fill="#101608"/>
<rect x="788.9" y="217.1" width="4.6" height="4.6" fill="#e4ebdb"/>
<rect x="792.9" y="217.1" width="4.6" height="4.6" fill="#6f7f5b"/>
<rect x="796.9" y="217.1" width="4.6" height="4.6" fill="#36471f"/>
<rect x="800.9" y="217.1" width="4.6" height="4.6" fill="#e3e8e6"/>
<rect x="804.9" y="217.1" width="4.6" height="4.6" fill="#2d3f21"/>
<rect x="808.9" y="217.1" width="4.6" height="4.6" fill="#2f3f19"/>
<rect x="812.9" y="217.1" width="4.6" height="4.6" fill="#d4dcdd"/>
<rect x="816.9" y="217.1" width="4.6" height="4.6" fill="#a7b497"/>
<rect x="820.9" y="217.1" width="4.6" height="4.6" fill="#3b4d1e"/>
<rect x="824.9" y="217.1" width="4.6" height="4.6" fill="#293814"/>
<rect x="828.9" y="217.1" width="4.6" height="4.6" fill="#b9c7a0"/>
<rect x="832.9" y="217.1" width="4.6" height="4.6" fill="#d3dce3"/>
<rect x="836.9" y="217.1" width="4.6" height="4.6" fill="#9ca9a2"/>
<rect x="840.9" y="217.1" width="4.6" height="4.6" fill="#98a97a"/>
<rect x="716.9" y="221.1" width="4.6" height="4.6" fill="#040502"/>
<rect x="720.9" y="221.1" width="4.6" height="4.6" fill="#040502"/>
<rect x="724.9" y="221.1" width="4.6" height="4.6" fill="#040502"/>
<rect x="728.9" y="221.1" width="4.6" height="4.6" fill="#040502"/>
<rect x="732.9" y="221.1" width="4.6" height="4.6" fill="#19220b"/>
<rect x="736.9" y="221.1" width="4.6" height="4.6" fill="#18200a"/>
<rect x="740.9" y="221.1" width="4.6" height="4.6" fill="#18220d"/>
<rect x="744.9" y="221.1" width="4.6" height="4.6" fill="#283818"/>
<rect x="748.9" y="221.1" width="4.6" height="4.6" fill="#697a50"/>
<rect x="752.9" y="221.1" width="4.6" height="4.6" fill="#3c4d25"/>
<rect x="756.9" y="221.1" width="4.6" height="4.6" fill="#293911"/>
<rect x="760.9" y="221.1" width="4.6" height="4.6" fill="#596c4e"/>
<rect x="764.9" y="221.1" width="4.6" height="4.6" fill="#acbabc"/>
<rect x="768.9" y="221.1" width="4.6" height="4.6" fill="#909f7b"/>
<rect x="772.9" y="221.1" width="4.6" height="4.6" fill="#d7dfcf"/>
<rect x="776.9" y="221.1" width="4.6" height="4.6" fill="#c7d0bd"/>
<rect x="780.9" y="221.1" width="4.6" height="4.6" fill="#2b3c1c"/>
<rect x="784.9" y="221.1" width="4.6" height="4.6" fill="#25361b"/>
<rect x="788.9" y="221.1" width="4.6" height="4.6" fill="#556832"/>
<rect x="792.9" y="221.1" width="4.6" height="4.6" fill="#b3bfbe"/>
<rect x="796.9" y="221.1" width="4.6" height="4.6" fill="#708169"/>
<rect x="800.9" y="221.1" width="4.6" height="4.6" fill="#657758"/>
<rect x="804.9" y="221.1" width="4.6" height="4.6" fill="#253314"/>
<rect x="808.9" y="221.1" width="4.6" height="4.6" fill="#5c6f39"/>
<rect x="812.9" y="221.1" width="4.6" height="4.6" fill="#acb8b9"/>
<rect x="816.9" y="221.1" width="4.6" height="4.6" fill="#7b8a69"/>
<rect x="820.9" y="221.1" width="4.6" height="4.6" fill="#56683e"/>
<rect x="824.9" y="221.1" width="4.6" height="4.6" fill="#566843"/>
<rect x="828.9" y="221.1" width="4.6" height="4.6" fill="#d8e2ef"/>
<rect x="832.9" y="221.1" width="4.6" height="4.6" fill="#abb7b4"/>
<rect x="836.9" y="221.1" width="4.6" height="4.6" fill="#dfe8d0"/>
<rect x="840.9" y="221.1" width="4.6" height="4.6" fill="#bac4b4"/>
<rect x="716.9" y="225.1" width="4.6" height="4.6" fill="#040502"/>
<rect x="720.9" y="225.1" width="4.6" height="4.6" fill="#040502"/>
<rect x="724.9" y="225.1" width="4.6" height="4.6" fill="#040502"/>
<rect x="728.9" y="225.1" width="4.6" height="4.6" fill="#040502"/>
<rect x="732.9" y="225.1" width="4.6" height="4.6" fill="#161e09"/>
<rect x="736.9" y="225.1" width="4.6" height="4.6" fill="#0e1207"/>
<rect x="740.9" y="225.1" width="4.6" height="4.6" fill="#2e4011"/>
<rect x="744.9" y="225.1" width="4.6" height="4.6" fill="#3a4c1c"/>
<rect x="748.9" y="225.1" width="4.6" height="4.6" fill="#171f0c"/>
<rect x="752.9" y="225.1" width="4.6" height="4.6" fill="#101606"/>
<rect x="756.9" y="225.1" width="4.6" height="4.6" fill="#415431"/>
<rect x="760.9" y="225.1" width="4.6" height="4.6" fill="#354718"/>
<rect x="764.9" y="225.1" width="4.6" height="4.6" fill="#8c9a8b"/>
<rect x="768.9" y="225.1" width="4.6" height="4.6" fill="#324315"/>
<rect x="772.9" y="225.1" width="4.6" height="4.6" fill="#bac5c5"/>
<rect x="776.9" y="225.1" width="4.6" height="4.6" fill="#aab894"/>
<rect x="780.9" y="225.1" width="4.6" height="4.6" fill="#1c2710"/>
<rect x="784.9" y="225.1" width="4.6" height="4.6" fill="#94a379"/>
<rect x="788.9" y="225.1" width="4.6" height="4.6" fill="#4e612c"/>
<rect x="792.9" y="225.1" width="4.6" height="4.6" fill="#798977"/>
<rect x="796.9" y="225.1" width="4.6" height="4.6" fill="#627347"/>
<rect x="800.9" y="225.1" width="4.6" height="4.6" fill="#415534"/>
<rect x="804.9" y="225.1" width="4.6" height="4.6" fill="#0d1207"/>
<rect x="808.9" y="225.1" width="4.6" height="4.6" fill="#1b250d"/>
<rect x="812.9" y="225.1" width="4.6" height="4.6" fill="#7c8a6b"/>
<rect x="816.9" y="225.1" width="4.6" height="4.6" fill="#e5ecf4"/>
<rect x="820.9" y="225.1" width="4.6" height="4.6" fill="#7b8c5e"/>
<rect x="824.9" y="225.1" width="4.6" height="4.6" fill="#3e511c"/>
<rect x="828.9" y="225.1" width="4.6" height="4.6" fill="#77876f"/>
<rect x="832.9" y="225.1" width="4.6" height="4.6" fill="#60745b"/>
<rect x="836.9" y="225.1" width="4.6" height="4.6" fill="#77875d"/>
<rect x="840.9" y="225.1" width="4.6" height="4.6" fill="#60714c"/>
<rect x="716.9" y="229.1" width="4.6" height="4.6" fill="#040502"/>
<rect x="720.9" y="229.1" width="4.6" height="4.6" fill="#040502"/>
<rect x="724.9" y="229.1" width="4.6" height="4.6" fill="#040502"/>
<rect x="728.9" y="229.1" width="4.6" height="4.6" fill="#040502"/>
<rect x="732.9" y="229.1" width="4.6" height="4.6" fill="#090c03"/>
<rect x="736.9" y="229.1" width="4.6" height="4.6" fill="#0c1106"/>
<rect x="740.9" y="229.1" width="4.6" height="4.6" fill="#263517"/>
<rect x="744.9" y="229.1" width="4.6" height="4.6" fill="#263515"/>
<rect x="748.9" y="229.1" width="4.6" height="4.6" fill="#172110"/>
<rect x="752.9" y="229.1" width="4.6" height="4.6" fill="#121a0c"/>
<rect x="756.9" y="229.1" width="4.6" height="4.6" fill="#1e290c"/>
<rect x="760.9" y="229.1" width="4.6" height="4.6" fill="#3d4f2d"/>
<rect x="764.9" y="229.1" width="4.6" height="4.6" fill="#4b5e2c"/>
<rect x="768.9" y="229.1" width="4.6" height="4.6" fill="#9ba799"/>
<rect x="772.9" y="229.1" width="4.6" height="4.6" fill="#e3e8e4"/>
<rect x="776.9" y="229.1" width="4.6" height="4.6" fill="#f6fbec"/>
<rect x="780.9" y="229.1" width="4.6" height="4.6" fill="#9caaa8"/>
<rect x="784.9" y="229.1" width="4.6" height="4.6" fill="#657746"/>
<rect x="788.9" y="229.1" width="4.6" height="4.6" fill="#495b2f"/>
<rect x="792.9" y="229.1" width="4.6" height="4.6" fill="#627350"/>
<rect x="796.9" y="229.1" width="4.6" height="4.6" fill="#4c5f2e"/>
<rect x="800.9" y="229.1" width="4.6" height="4.6" fill="#1d2914"/>
<rect x="804.9" y="229.1" width="4.6" height="4.6" fill="#0d1107"/>
<rect x="808.9" y="229.1" width="4.6" height="4.6" fill="#1e290a"/>
<rect x="812.9" y="229.1" width="4.6" height="4.6" fill="#8c9c96"/>
<rect x="816.9" y="229.1" width="4.6" height="4.6" fill="#9fab96"/>
<rect x="820.9" y="229.1" width="4.6" height="4.6" fill="#4c5f29"/>
<rect x="824.9" y="229.1" width="4.6" height="4.6" fill="#5c7035"/>
<rect x="828.9" y="229.1" width="4.6" height="4.6" fill="#a4b489"/>
<rect x="832.9" y="229.1" width="4.6" height="4.6" fill="#85956c"/>
<rect x="836.9" y="229.1" width="4.6" height="4.6" fill="#2d3e17"/>
<rect x="840.9" y="229.1" width="4.6" height="4.6" fill="#7b8d5b"/>
<rect x="716.9" y="233.1" width="4.6" height="4.6" fill="#040502"/>
<rect x="720.9" y="233.1" width="4.6" height="4.6" fill="#040502"/>
<rect x="724.9" y="233.1" width="4.6" height="4.6" fill="#040502"/>
<rect x="728.9" y="233.1" width="4.6" height="4.6" fill="#040502"/>
<rect x="732.9" y="233.1" width="4.6" height="4.6" fill="#0c1104"/>
<rect x="736.9" y="233.1" width="4.6" height="4.6" fill="#0d1207"/>
<rect x="740.9" y="233.1" width="4.6" height="4.6" fill="#42542d"/>
<rect x="744.9" y="233.1" width="4.6" height="4.6" fill="#8c9981"/>
<rect x="748.9" y="233.1" width="4.6" height="4.6" fill="#c4ccbd"/>
<rect x="752.9" y="233.1" width="4.6" height="4.6" fill="#6c7b58"/>
<rect x="756.9" y="233.1" width="4.6" height="4.6" fill="#dfe7d7"/>
<rect x="760.9" y="233.1" width="4.6" height="4.6" fill="#25330d"/>
<rect x="764.9" y="233.1" width="4.6" height="4.6" fill="#7d8e63"/>
<rect x="768.9" y="233.1" width="4.6" height="4.6" fill="#475b23"/>
<rect x="772.9" y="233.1" width="4.6" height="4.6" fill="#eff5fe"/>
<rect x="776.9" y="233.1" width="4.6" height="4.6" fill="#d8e0e3"/>
<rect x="780.9" y="233.1" width="4.6" height="4.6" fill="#384a29"/>
<rect x="784.9" y="233.1" width="4.6" height="4.6" fill="#445730"/>
<rect x="788.9" y="233.1" width="4.6" height="4.6" fill="#edf1ef"/>
<rect x="792.9" y="233.1" width="4.6" height="4.6" fill="#a5b3b8"/>
<rect x="796.9" y="233.1" width="4.6" height="4.6" fill="#273512"/>
<rect x="800.9" y="233.1" width="4.6" height="4.6" fill="#43552e"/>
<rect x="804.9" y="233.1" width="4.6" height="4.6" fill="#314217"/>
<rect x="808.9" y="233.1" width="4.6" height="4.6" fill="#151c08"/>
<rect x="812.9" y="233.1" width="4.6" height="4.6" fill="#7f9081"/>
<rect x="816.9" y="233.1" width="4.6" height="4.6" fill="#7e8d66"/>
<rect x="820.9" y="233.1" width="4.6" height="4.6" fill="#e2e9d6"/>
<rect x="824.9" y="233.1" width="4.6" height="4.6" fill="#b6c1a9"/>
<rect x="828.9" y="233.1" width="4.6" height="4.6" fill="#b2bfc4"/>
<rect x="832.9" y="233.1" width="4.6" height="4.6" fill="#748574"/>
<rect x="836.9" y="233.1" width="4.6" height="4.6" fill="#afbbb8"/>
<rect x="840.9" y="233.1" width="4.6" height="4.6" fill="#d4dad4"/>
<rect x="716.9" y="237.1" width="4.6" height="4.6" fill="#040502"/>
<rect x="720.9" y="237.1" width="4.6" height="4.6" fill="#040502"/>
<rect x="724.9" y="237.1" width="4.6" height="4.6" fill="#040502"/>
<rect x="728.9" y="237.1" width="4.6" height="4.6" fill="#040502"/>
<rect x="732.9" y="237.1" width="4.6" height="4.6" fill="#0b0e04"/>
<rect x="736.9" y="237.1" width="4.6" height="4.6" fill="#0f1408"/>
<rect x="740.9" y="237.1" width="4.6" height="4.6" fill="#4e623d"/>
<rect x="744.9" y="237.1" width="4.6" height="4.6" fill="#314414"/>
<rect x="748.9" y="237.1" width="4.6" height="4.6" fill="#9faca4"/>
<rect x="752.9" y="237.1" width="4.6" height="4.6" fill="#273617"/>
<rect x="756.9" y="237.1" width="4.6" height="4.6" fill="#445725"/>
<rect x="760.9" y="237.1" width="4.6" height="4.6" fill="#46582c"/>
<rect x="764.9" y="237.1" width="4.6" height="4.6" fill="#3c4e29"/>
<rect x="768.9" y="237.1" width="4.6" height="4.6" fill="#bbc6c9"/>
<rect x="772.9" y="237.1" width="4.6" height="4.6" fill="#f4f7f3"/>
<rect x="776.9" y="237.1" width="4.6" height="4.6" fill="#c1cbcb"/>
<rect x="780.9" y="237.1" width="4.6" height="4.6" fill="#41522b"/>
<rect x="784.9" y="237.1" width="4.6" height="4.6" fill="#415422"/>
<rect x="788.9" y="237.1" width="4.6" height="4.6" fill="#7c8a71"/>
<rect x="792.9" y="237.1" width="4.6" height="4.6" fill="#ebf4d6"/>
<rect x="796.9" y="237.1" width="4.6" height="4.6" fill="#38491d"/>
<rect x="800.9" y="237.1" width="4.6" height="4.6" fill="#334615"/>
<rect x="804.9" y="237.1" width="4.6" height="4.6" fill="#384a25"/>
<rect x="808.9" y="237.1" width="4.6" height="4.6" fill="#566a31"/>
<rect x="812.9" y="237.1" width="4.6" height="4.6" fill="#b4bdb4"/>
<rect x="816.9" y="237.1" width="4.6" height="4.6" fill="#9fada7"/>
<rect x="820.9" y="237.1" width="4.6" height="4.6" fill="#aeb9ad"/>
<rect x="824.9" y="237.1" width="4.6" height="4.6" fill="#c1c9bf"/>
<rect x="828.9" y="237.1" width="4.6" height="4.6" fill="#ced7c6"/>
<rect x="832.9" y="237.1" width="4.6" height="4.6" fill="#839179"/>
<rect x="836.9" y="237.1" width="4.6" height="4.6" fill="#c5cfce"/>
<rect x="840.9" y="237.1" width="4.6" height="4.6" fill="#edf2f1"/>
<rect x="716.9" y="241.1" width="4.6" height="4.6" fill="#040502"/>
<rect x="720.9" y="241.1" width="4.6" height="4.6" fill="#040502"/>
<rect x="724.9" y="241.1" width="4.6" height="4.6" fill="#040502"/>
<rect x="728.9" y="241.1" width="4.6" height="4.6" fill="#040502"/>
<rect x="732.9" y="241.1" width="4.6" height="4.6" fill="#0a0d05"/>
<rect x="736.9" y="241.1" width="4.6" height="4.6" fill="#0f1408"/>
<rect x="740.9" y="241.1" width="4.6" height="4.6" fill="#0f1509"/>
<rect x="744.9" y="241.1" width="4.6" height="4.6" fill="#10160a"/>
<rect x="748.9" y="241.1" width="4.6" height="4.6" fill="#455821"/>
<rect x="752.9" y="241.1" width="4.6" height="4.6" fill="#485a2d"/>
<rect x="756.9" y="241.1" width="4.6" height="4.6" fill="#667859"/>
<rect x="760.9" y="241.1" width="4.6" height="4.6" fill="#495d3a"/>
<rect x="764.9" y="241.1" width="4.6" height="4.6" fill="#728269"/>
<rect x="768.9" y="241.1" width="4.6" height="4.6" fill="#516645"/>
<rect x="772.9" y="241.1" width="4.6" height="4.6" fill="#f2f7ea"/>
<rect x="776.9" y="241.1" width="4.6" height="4.6" fill="#7a8a76"/>
<rect x="780.9" y="241.1" width="4.6" height="4.6" fill="#1b2508"/>
<rect x="784.9" y="241.1" width="4.6" height="4.6" fill="#1d280a"/>
<rect x="788.9" y="241.1" width="4.6" height="4.6" fill="#334515"/>
<rect x="792.9" y="241.1" width="4.6" height="4.6" fill="#4f622e"/>
<rect x="796.9" y="241.1" width="4.6" height="4.6" fill="#4b5e2b"/>
<rect x="800.9" y="241.1" width="4.6" height="4.6" fill="#5d6f3f"/>
<rect x="804.9" y="241.1" width="4.6" height="4.6" fill="#29391a"/>
<rect x="808.9" y="241.1" width="4.6" height="4.6" fill="#65764e"/>
<rect x="812.9" y="241.1" width="4.6" height="4.6" fill="#d1dbe2"/>
<rect x="816.9" y="241.1" width="4.6" height="4.6" fill="#839366"/>
<rect x="820.9" y="241.1" width="4.6" height="4.6" fill="#dee8ce"/>
<rect x="824.9" y="241.1" width="4.6" height="4.6" fill="#f2fade"/>
<rect x="828.9" y="241.1" width="4.6" height="4.6" fill="#c9d2c2"/>
<rect x="832.9" y="241.1" width="4.6" height="4.6" fill="#d6e0ec"/>
<rect x="836.9" y="241.1" width="4.6" height="4.6" fill="#99a697"/>
<rect x="840.9" y="241.1" width="4.6" height="4.6" fill="#f2f6f0"/>
<rect x="716.9" y="245.1" width="4.6" height="4.6" fill="#040502"/>
<rect x="720.9" y="245.1" width="4.6" height="4.6" fill="#040502"/>
<rect x="724.9" y="245.1" width="4.6" height="4.6" fill="#040502"/>
<rect x="728.9" y="245.1" width="4.6" height="4.6" fill="#040502"/>
<rect x="732.9" y="245.1" width="4.6" height="4.6" fill="#0c1004"/>
<rect x="736.9" y="245.1" width="4.6" height="4.6" fill="#090c03"/>
<rect x="740.9" y="245.1" width="4.6" height="4.6" fill="#121907"/>
<rect x="744.9" y="245.1" width="4.6" height="4.6" fill="#121807"/>
<rect x="748.9" y="245.1" width="4.6" height="4.6" fill="#67774f"/>
<rect x="752.9" y="245.1" width="4.6" height="4.6" fill="#808e75"/>
<rect x="756.9" y="245.1" width="4.6" height="4.6" fill="#30411d"/>
<rect x="760.9" y="245.1" width="4.6" height="4.6" fill="#212d0f"/>
<rect x="764.9" y="245.1" width="4.6" height="4.6" fill="#1d2a15"/>
<rect x="768.9" y="245.1" width="4.6" height="4.6" fill="#6d7e55"/>
<rect x="772.9" y="245.1" width="4.6" height="4.6" fill="#dbe3cf"/>
<rect x="776.9" y="245.1" width="4.6" height="4.6" fill="#eef2f0"/>
<rect x="780.9" y="245.1" width="4.6" height="4.6" fill="#25330f"/>
<rect x="784.9" y="245.1" width="4.6" height="4.6" fill="#54682f"/>
<rect x="788.9" y="245.1" width="4.6" height="4.6" fill="#3f5124"/>
<rect x="792.9" y="245.1" width="4.6" height="4.6" fill="#7e8f81"/>
<rect x="796.9" y="245.1" width="4.6" height="4.6" fill="#566b2d"/>
<rect x="800.9" y="245.1" width="4.6" height="4.6" fill="#bac4bd"/>
<rect x="804.9" y="245.1" width="4.6" height="4.6" fill="#1e2c16"/>
<rect x="808.9" y="245.1" width="4.6" height="4.6" fill="#334524"/>
<rect x="812.9" y="245.1" width="4.6" height="4.6" fill="#a6b397"/>
<rect x="816.9" y="245.1" width="4.6" height="4.6" fill="#8b9988"/>
<rect x="820.9" y="245.1" width="4.6" height="4.6" fill="#dfe6d8"/>
<rect x="824.9" y="245.1" width="4.6" height="4.6" fill="#839383"/>
<rect x="828.9" y="245.1" width="4.6" height="4.6" fill="#a4af9d"/>
<rect x="832.9" y="245.1" width="4.6" height="4.6" fill="#bcc7af"/>
<rect x="836.9" y="245.1" width="4.6" height="4.6" fill="#a5b09c"/>
<rect x="840.9" y="245.1" width="4.6" height="4.6" fill="#f2f6f6"/>
<rect x="716.9" y="249.1" width="4.6" height="4.6" fill="#040502"/>
<rect x="720.9" y="249.1" width="4.6" height="4.6" fill="#040502"/>
<rect x="724.9" y="249.1" width="4.6" height="4.6" fill="#040502"/>
<rect x="728.9" y="249.1" width="4.6" height="4.6" fill="#040502"/>
<rect x="732.9" y="249.1" width="4.6" height="4.6" fill="#0c1006"/>
<rect x="736.9" y="249.1" width="4.6" height="4.6" fill="#101605"/>
<rect x="740.9" y="249.1" width="4.6" height="4.6" fill="#0f1406"/>
<rect x="744.9" y="249.1" width="4.6" height="4.6" fill="#090c05"/>
<rect x="748.9" y="249.1" width="4.6" height="4.6" fill="#46582d"/>
<rect x="752.9" y="249.1" width="4.6" height="4.6" fill="#1a230d"/>
<rect x="756.9" y="249.1" width="4.6" height="4.6" fill="#3a4c1b"/>
<rect x="760.9" y="249.1" width="4.6" height="4.6" fill="#495e3b"/>
<rect x="764.9" y="249.1" width="4.6" height="4.6" fill="#435525"/>
<rect x="768.9" y="249.1" width="4.6" height="4.6" fill="#182210"/>
<rect x="772.9" y="249.1" width="4.6" height="4.6" fill="#5e723a"/>
<rect x="776.9" y="249.1" width="4.6" height="4.6" fill="#7b8c7f"/>
<rect x="780.9" y="249.1" width="4.6" height="4.6" fill="#91a07a"/>
<rect x="784.9" y="249.1" width="4.6" height="4.6" fill="#475927"/>
<rect x="788.9" y="249.1" width="4.6" height="4.6" fill="#2e3f14"/>
<rect x="792.9" y="249.1" width="4.6" height="4.6" fill="#465a25"/>
<rect x="796.9" y="249.1" width="4.6" height="4.6" fill="#cad3d0"/>
<rect x="800.9" y="249.1" width="4.6" height="4.6" fill="#7c8b76"/>
<rect x="804.9" y="249.1" width="4.6" height="4.6" fill="#98a598"/>
<rect x="808.9" y="249.1" width="4.6" height="4.6" fill="#eef5ff"/>
<rect x="812.9" y="249.1" width="4.6" height="4.6" fill="#abb6b0"/>
<rect x="816.9" y="249.1" width="4.6" height="4.6" fill="#e9f0e1"/>
<rect x="820.9" y="249.1" width="4.6" height="4.6" fill="#9ba88c"/>
<rect x="824.9" y="249.1" width="4.6" height="4.6" fill="#94a281"/>
<rect x="828.9" y="249.1" width="4.6" height="4.6" fill="#e2ebd2"/>
<rect x="832.9" y="249.1" width="4.6" height="4.6" fill="#dbe5f2"/>
<rect x="836.9" y="249.1" width="4.6" height="4.6" fill="#e9f0fb"/>
<rect x="840.9" y="249.1" width="4.6" height="4.6" fill="#becad0"/>
<rect x="716.9" y="253.1" width="4.6" height="4.6" fill="#040502"/>
<rect x="720.9" y="253.1" width="4.6" height="4.6" fill="#040502"/>
<rect x="724.9" y="253.1" width="4.6" height="4.6" fill="#070a04"/>
<rect x="728.9" y="253.1" width="4.6" height="4.6" fill="#070a04"/>
<rect x="732.9" y="253.1" width="4.6" height="4.6" fill="#0f1406"/>
<rect x="736.9" y="253.1" width="4.6" height="4.6" fill="#080b05"/>
<rect x="740.9" y="253.1" width="4.6" height="4.6" fill="#161f0f"/>
<rect x="744.9" y="253.1" width="4.6" height="4.6" fill="#1c260e"/>
<rect x="748.9" y="253.1" width="4.6" height="4.6" fill="#3a4c27"/>
<rect x="752.9" y="253.1" width="4.6" height="4.6" fill="#465b3a"/>
<rect x="756.9" y="253.1" width="4.6" height="4.6" fill="#586b47"/>
<rect x="760.9" y="253.1" width="4.6" height="4.6" fill="#435522"/>
<rect x="764.9" y="253.1" width="4.6" height="4.6" fill="#b7c1bb"/>
<rect x="768.9" y="253.1" width="4.6" height="4.6" fill="#899782"/>
<rect x="772.9" y="253.1" width="4.6" height="4.6" fill="#909e8f"/>
<rect x="776.9" y="253.1" width="4.6" height="4.6" fill="#7e8e62"/>
<rect x="780.9" y="253.1" width="4.6" height="4.6" fill="#455823"/>
<rect x="784.9" y="253.1" width="4.6" height="4.6" fill="#364927"/>
<rect x="788.9" y="253.1" width="4.6" height="4.6" fill="#465933"/>
<rect x="792.9" y="253.1" width="4.6" height="4.6" fill="#909e90"/>
<rect x="796.9" y="253.1" width="4.6" height="4.6" fill="#62734f"/>
<rect x="800.9" y="253.1" width="4.6" height="4.6" fill="#687a4a"/>
<rect x="804.9" y="253.1" width="4.6" height="4.6" fill="#c1cdd5"/>
<rect x="808.9" y="253.1" width="4.6" height="4.6" fill="#cdd7e0"/>
<rect x="812.9" y="253.1" width="4.6" height="4.6" fill="#d9dfd7"/>
<rect x="816.9" y="253.1" width="4.6" height="4.6" fill="#dde6f3"/>
<rect x="820.9" y="253.1" width="4.6" height="4.6" fill="#cbd3d0"/>
<rect x="824.9" y="253.1" width="4.6" height="4.6" fill="#c9d3c0"/>
<rect x="828.9" y="253.1" width="4.6" height="4.6" fill="#bcc7ae"/>
<rect x="832.9" y="253.1" width="4.6" height="4.6" fill="#edf4ff"/>
<rect x="836.9" y="253.1" width="4.6" height="4.6" fill="#c2cdb3"/>
<rect x="840.9" y="253.1" width="4.6" height="4.6" fill="#a1ac97"/>
<rect x="716.9" y="257.1" width="4.6" height="4.6" fill="#040502"/>
<rect x="720.9" y="257.1" width="4.6" height="4.6" fill="#040502"/>
<rect x="724.9" y="257.1" width="4.6" height="4.6" fill="#0f1406"/>
<rect x="728.9" y="257.1" width="4.6" height="4.6" fill="#0a0e04"/>
<rect x="732.9" y="257.1" width="4.6" height="4.6" fill="#0c1104"/>
<rect x="736.9" y="257.1" width="4.6" height="4.6" fill="#131906"/>
<rect x="740.9" y="257.1" width="4.6" height="4.6" fill="#1f2b0f"/>
<rect x="744.9" y="257.1" width="4.6" height="4.6" fill="#293a0f"/>
<rect x="748.9" y="257.1" width="4.6" height="4.6" fill="#4d602c"/>
<rect x="752.9" y="257.1" width="4.6" height="4.6" fill="#263413"/>
<rect x="756.9" y="257.1" width="4.6" height="4.6" fill="#273615"/>
<rect x="760.9" y="257.1" width="4.6" height="4.6" fill="#667a40"/>
<rect x="764.9" y="257.1" width="4.6" height="4.6" fill="#76887a"/>
<rect x="768.9" y="257.1" width="4.6" height="4.6" fill="#c9d2bf"/>
<rect x="772.9" y="257.1" width="4.6" height="4.6" fill="#5f7338"/>
<rect x="776.9" y="257.1" width="4.6" height="4.6" fill="#768560"/>
<rect x="780.9" y="257.1" width="4.6" height="4.6" fill="#b4bfbd"/>
<rect x="784.9" y="257.1" width="4.6" height="4.6" fill="#93a182"/>
<rect x="788.9" y="257.1" width="4.6" height="4.6" fill="#bfcbab"/>
<rect x="792.9" y="257.1" width="4.6" height="4.6" fill="#4e622c"/>
<rect x="796.9" y="257.1" width="4.6" height="4.6" fill="#2c3c19"/>
<rect x="800.9" y="257.1" width="4.6" height="4.6" fill="#607245"/>
<rect x="804.9" y="257.1" width="4.6" height="4.6" fill="#cad3cf"/>
<rect x="808.9" y="257.1" width="4.6" height="4.6" fill="#b7c4cb"/>
<rect x="812.9" y="257.1" width="4.6" height="4.6" fill="#c8cfc6"/>
<rect x="816.9" y="257.1" width="4.6" height="4.6" fill="#aab6ad"/>
<rect x="820.9" y="257.1" width="4.6" height="4.6" fill="#e4eae1"/>
<rect x="824.9" y="257.1" width="4.6" height="4.6" fill="#d6dfca"/>
<rect x="828.9" y="257.1" width="4.6" height="4.6" fill="#cfd7d7"/>
<rect x="832.9" y="257.1" width="4.6" height="4.6" fill="#cdd8e2"/>
<rect x="836.9" y="257.1" width="4.6" height="4.6" fill="#edf4ff"/>
<rect x="840.9" y="257.1" width="4.6" height="4.6" fill="#bfcacd"/>
<rect x="716.9" y="261.1" width="4.6" height="4.6" fill="#040502"/>
<rect x="720.9" y="261.1" width="4.6" height="4.6" fill="#040502"/>
<rect x="724.9" y="261.1" width="4.6" height="4.6" fill="#0d1206"/>
<rect x="728.9" y="261.1" width="4.6" height="4.6" fill="#0b0f05"/>
<rect x="732.9" y="261.1" width="4.6" height="4.6" fill="#394b1b"/>
<rect x="736.9" y="261.1" width="4.6" height="4.6" fill="#3f521f"/>
<rect x="740.9" y="261.1" width="4.6" height="4.6" fill="#4a5e38"/>
<rect x="744.9" y="261.1" width="4.6" height="4.6" fill="#334516"/>
<rect x="748.9" y="261.1" width="4.6" height="4.6" fill="#32431a"/>
<rect x="752.9" y="261.1" width="4.6" height="4.6" fill="#2a3b1f"/>
<rect x="756.9" y="261.1" width="4.6" height="4.6" fill="#9aa78d"/>
<rect x="760.9" y="261.1" width="4.6" height="4.6" fill="#f5f9ee"/>
<rect x="764.9" y="261.1" width="4.6" height="4.6" fill="#67774e"/>
<rect x="768.9" y="261.1" width="4.6" height="4.6" fill="#8b9988"/>
<rect x="772.9" y="261.1" width="4.6" height="4.6" fill="#ebf0f1"/>
<rect x="776.9" y="261.1" width="4.6" height="4.6" fill="#b5bfb8"/>
<rect x="780.9" y="261.1" width="4.6" height="4.6" fill="#f1f9df"/>
<rect x="784.9" y="261.1" width="4.6" height="4.6" fill="#65764b"/>
<rect x="788.9" y="261.1" width="4.6" height="4.6" fill="#a7b39a"/>
<rect x="792.9" y="261.1" width="4.6" height="4.6" fill="#889685"/>
<rect x="796.9" y="261.1" width="4.6" height="4.6" fill="#9eae82"/>
<rect x="800.9" y="261.1" width="4.6" height="4.6" fill="#78895c"/>
<rect x="804.9" y="261.1" width="4.6" height="4.6" fill="#7c8d60"/>
<rect x="808.9" y="261.1" width="4.6" height="4.6" fill="#96a386"/>
<rect x="812.9" y="261.1" width="4.6" height="4.6" fill="#54682c"/>
<rect x="816.9" y="261.1" width="4.6" height="4.6" fill="#485a30"/>
<rect x="820.9" y="261.1" width="4.6" height="4.6" fill="#f0f5fc"/>
<rect x="824.9" y="261.1" width="4.6" height="4.6" fill="#eff5fd"/>
<rect x="828.9" y="261.1" width="4.6" height="4.6" fill="#bac4c0"/>
<rect x="832.9" y="261.1" width="4.6" height="4.6" fill="#bbc5b0"/>
<rect x="836.9" y="261.1" width="4.6" height="4.6" fill="#eff5fe"/>
<rect x="840.9" y="261.1" width="4.6" height="4.6" fill="#ced6c4"/>
<rect x="716.9" y="265.1" width="4.6" height="4.6" fill="#040502"/>
<rect x="720.9" y="265.1" width="4.6" height="4.6" fill="#040502"/>
<rect x="724.9" y="265.1" width="4.6" height="4.6" fill="#0a0e05"/>
<rect x="728.9" y="265.1" width="4.6" height="4.6" fill="#101504"/>
<rect x="732.9" y="265.1" width="4.6" height="4.6" fill="#415421"/>
<rect x="736.9" y="265.1" width="4.6" height="4.6" fill="#425424"/>
<rect x="740.9" y="265.1" width="4.6" height="4.6" fill="#35461e"/>
<rect x="744.9" y="265.1" width="4.6" height="4.6" fill="#3b4d1f"/>
<rect x="748.9" y="265.1" width="4.6" height="4.6" fill="#212f17"/>
<rect x="752.9" y="265.1" width="4.6" height="4.6" fill="#425533"/>
<rect x="756.9" y="265.1" width="4.6" height="4.6" fill="#212f15"/>
<rect x="760.9" y="265.1" width="4.6" height="4.6" fill="#263516"/>
<rect x="764.9" y="265.1" width="4.6" height="4.6" fill="#7b896c"/>
<rect x="768.9" y="265.1" width="4.6" height="4.6" fill="#778873"/>
<rect x="772.9" y="265.1" width="4.6" height="4.6" fill="#f3fae2"/>
<rect x="776.9" y="265.1" width="4.6" height="4.6" fill="#e9ede9"/>
<rect x="780.9" y="265.1" width="4.6" height="4.6" fill="#74856e"/>
<rect x="784.9" y="265.1" width="4.6" height="4.6" fill="#425520"/>
<rect x="788.9" y="265.1" width="4.6" height="4.6" fill="#677752"/>
<rect x="792.9" y="265.1" width="4.6" height="4.6" fill="#f3f6f4"/>
<rect x="796.9" y="265.1" width="4.6" height="4.6" fill="#9aa788"/>
<rect x="800.9" y="265.1" width="4.6" height="4.6" fill="#687959"/>
<rect x="804.9" y="265.1" width="4.6" height="4.6" fill="#506237"/>
<rect x="808.9" y="265.1" width="4.6" height="4.6" fill="#1d2911"/>
<rect x="812.9" y="265.1" width="4.6" height="4.6" fill="#223017"/>
<rect x="816.9" y="265.1" width="4.6" height="4.6" fill="#293816"/>
<rect x="820.9" y="265.1" width="4.6" height="4.6" fill="#f1f6f8"/>
<rect x="824.9" y="265.1" width="4.6" height="4.6" fill="#dae0da"/>
<rect x="828.9" y="265.1" width="4.6" height="4.6" fill="#f8ffe4"/>
<rect x="832.9" y="265.1" width="4.6" height="4.6" fill="#bcc8a8"/>
<rect x="836.9" y="265.1" width="4.6" height="4.6" fill="#ebf2de"/>
<rect x="840.9" y="265.1" width="4.6" height="4.6" fill="#f2fade"/>
<rect x="716.9" y="269.1" width="4.6" height="4.6" fill="#141c0b"/>
<rect x="720.9" y="269.1" width="4.6" height="4.6" fill="#0d1206"/>
<rect x="724.9" y="269.1" width="4.6" height="4.6" fill="#273617"/>
<rect x="728.9" y="269.1" width="4.6" height="4.6" fill="#111608"/>
<rect x="732.9" y="269.1" width="4.6" height="4.6" fill="#0d1309"/>
<rect x="736.9" y="269.1" width="4.6" height="4.6" fill="#2a3915"/>
<rect x="740.9" y="269.1" width="4.6" height="4.6" fill="#23300f"/>
<rect x="744.9" y="269.1" width="4.6" height="4.6" fill="#32421c"/>
<rect x="748.9" y="269.1" width="4.6" height="4.6" fill="#374a2a"/>
<rect x="752.9" y="269.1" width="4.6" height="4.6" fill="#33431d"/>
<rect x="756.9" y="269.1" width="4.6" height="4.6" fill="#76866f"/>
<rect x="760.9" y="269.1" width="4.6" height="4.6" fill="#546849"/>
<rect x="764.9" y="269.1" width="4.6" height="4.6" fill="#283813"/>
<rect x="768.9" y="269.1" width="4.6" height="4.6" fill="#222f0d"/>
<rect x="772.9" y="269.1" width="4.6" height="4.6" fill="#a3af98"/>
<rect x="776.9" y="269.1" width="4.6" height="4.6" fill="#475a34"/>
<rect x="780.9" y="269.1" width="4.6" height="4.6" fill="#ebf1f8"/>
<rect x="784.9" y="269.1" width="4.6" height="4.6" fill="#445730"/>
<rect x="788.9" y="269.1" width="4.6" height="4.6" fill="#c8d0c4"/>
<rect x="792.9" y="269.1" width="4.6" height="4.6" fill="#6d7d56"/>
<rect x="796.9" y="269.1" width="4.6" height="4.6" fill="#7b8b77"/>
<rect x="800.9" y="269.1" width="4.6" height="4.6" fill="#c2cbbb"/>
<rect x="804.9" y="269.1" width="4.6" height="4.6" fill="#212d0c"/>
<rect x="808.9" y="269.1" width="4.6" height="4.6" fill="#121907"/>
<rect x="812.9" y="269.1" width="4.6" height="4.6" fill="#a6b3b0"/>
<rect x="816.9" y="269.1" width="4.6" height="4.6" fill="#d7e0e7"/>
<rect x="820.9" y="269.1" width="4.6" height="4.6" fill="#4c6026"/>
<rect x="824.9" y="269.1" width="4.6" height="4.6" fill="#809083"/>
<rect x="828.9" y="269.1" width="4.6" height="4.6" fill="#f7fde9"/>
<rect x="832.9" y="269.1" width="4.6" height="4.6" fill="#7f8e76"/>
<rect x="836.9" y="269.1" width="4.6" height="4.6" fill="#d0dbe8"/>
<rect x="840.9" y="269.1" width="4.6" height="4.6" fill="#76866d"/>
<rect x="716.9" y="273.1" width="4.6" height="4.6" fill="#0e1408"/>
<rect x="720.9" y="273.1" width="4.6" height="4.6" fill="#243112"/>
<rect x="724.9" y="273.1" width="4.6" height="4.6" fill="#667847"/>
<rect x="728.9" y="273.1" width="4.6" height="4.6" fill="#2c3d11"/>
<rect x="732.9" y="273.1" width="4.6" height="4.6" fill="#2e4013"/>
<rect x="736.9" y="273.1" width="4.6" height="4.6" fill="#2a3b10"/>
<rect x="740.9" y="273.1" width="4.6" height="4.6" fill="#38491f"/>
<rect x="744.9" y="273.1" width="4.6" height="4.6" fill="#3c4e22"/>
<rect x="748.9" y="273.1" width="4.6" height="4.6" fill="#5a6c48"/>
<rect x="752.9" y="273.1" width="4.6" height="4.6" fill="#293812"/>
<rect x="756.9" y="273.1" width="4.6" height="4.6" fill="#394a20"/>
<rect x="760.9" y="273.1" width="4.6" height="4.6" fill="#18220e"/>
<rect x="764.9" y="273.1" width="4.6" height="4.6" fill="#2c3d1d"/>
<rect x="768.9" y="273.1" width="4.6" height="4.6" fill="#2b3c14"/>
<rect x="772.9" y="273.1" width="4.6" height="4.6" fill="#b2bebf"/>
<rect x="776.9" y="273.1" width="4.6" height="4.6" fill="#596b3f"/>
<rect x="780.9" y="273.1" width="4.6" height="4.6" fill="#798869"/>
<rect x="784.9" y="273.1" width="4.6" height="4.6" fill="#d7dfe2"/>
<rect x="788.9" y="273.1" width="4.6" height="4.6" fill="#546638"/>
<rect x="792.9" y="273.1" width="4.6" height="4.6" fill="#9daba5"/>
<rect x="796.9" y="273.1" width="4.6" height="4.6" fill="#93a195"/>
<rect x="800.9" y="273.1" width="4.6" height="4.6" fill="#8c997f"/>
<rect x="804.9" y="273.1" width="4.6" height="4.6" fill="#111707"/>
<rect x="808.9" y="273.1" width="4.6" height="4.6" fill="#192310"/>
<rect x="812.9" y="273.1" width="4.6" height="4.6" fill="#d0d8c9"/>
<rect x="816.9" y="273.1" width="4.6" height="4.6" fill="#e3e9ec"/>
<rect x="820.9" y="273.1" width="4.6" height="4.6" fill="#536537"/>
<rect x="824.9" y="273.1" width="4.6" height="4.6" fill="#819285"/>
<rect x="828.9" y="273.1" width="4.6" height="4.6" fill="#9eaca5"/>
<rect x="832.9" y="273.1" width="4.6" height="4.6" fill="#94a4a2"/>
<rect x="836.9" y="273.1" width="4.6" height="4.6" fill="#81906b"/>
<rect x="840.9" y="273.1" width="4.6" height="4.6" fill="#eff5e7"/>
<rect x="716.9" y="277.1" width="4.6" height="4.6" fill="#415421"/>
<rect x="720.9" y="277.1" width="4.6" height="4.6" fill="#2b3d1f"/>
<rect x="724.9" y="277.1" width="4.6" height="4.6" fill="#394921"/>
<rect x="728.9" y="277.1" width="4.6" height="4.6" fill="#e8efdd"/>
<rect x="732.9" y="277.1" width="4.6" height="4.6" fill="#4d623f"/>
<rect x="736.9" y="277.1" width="4.6" height="4.6" fill="#2a3b1d"/>
<rect x="740.9" y="277.1" width="4.6" height="4.6" fill="#465a25"/>
<rect x="744.9" y="277.1" width="4.6" height="4.6" fill="#8a9b95"/>
<rect x="748.9" y="277.1" width="4.6" height="4.6" fill="#2e3e19"/>
<rect x="752.9" y="277.1" width="4.6" height="4.6" fill="#5b6e37"/>
<rect x="756.9" y="277.1" width="4.6" height="4.6" fill="#758756"/>
<rect x="760.9" y="277.1" width="4.6" height="4.6" fill="#2c3d19"/>
<rect x="764.9" y="277.1" width="4.6" height="4.6" fill="#37491a"/>
<rect x="768.9" y="277.1" width="4.6" height="4.6" fill="#67785c"/>
<rect x="772.9" y="277.1" width="4.6" height="4.6" fill="#52672a"/>
<rect x="776.9" y="277.1" width="4.6" height="4.6" fill="#6b7c50"/>
<rect x="780.9" y="277.1" width="4.6" height="4.6" fill="#304215"/>
<rect x="784.9" y="277.1" width="4.6" height="4.6" fill="#586c4c"/>
<rect x="788.9" y="277.1" width="4.6" height="4.6" fill="#acbb94"/>
<rect x="792.9" y="277.1" width="4.6" height="4.6" fill="#9ca98f"/>
<rect x="796.9" y="277.1" width="4.6" height="4.6" fill="#9eaa95"/>
<rect x="800.9" y="277.1" width="4.6" height="4.6" fill="#374927"/>
<rect x="804.9" y="277.1" width="4.6" height="4.6" fill="#161e0a"/>
<rect x="808.9" y="277.1" width="4.6" height="4.6" fill="#192412"/>
<rect x="812.9" y="277.1" width="4.6" height="4.6" fill="#c5d0b4"/>
<rect x="816.9" y="277.1" width="4.6" height="4.6" fill="#b5c1c2"/>
<rect x="820.9" y="277.1" width="4.6" height="4.6" fill="#374917"/>
<rect x="824.9" y="277.1" width="4.6" height="4.6" fill="#435626"/>
<rect x="828.9" y="277.1" width="4.6" height="4.6" fill="#98a38f"/>
<rect x="832.9" y="277.1" width="4.6" height="4.6" fill="#eef5ff"/>
<rect x="836.9" y="277.1" width="4.6" height="4.6" fill="#899886"/>
<rect x="840.9" y="277.1" width="4.6" height="4.6" fill="#9faa98"/>
<rect x="716.9" y="281.1" width="4.6" height="4.6" fill="#2b3c14"/>
<rect x="720.9" y="281.1" width="4.6" height="4.6" fill="#3d502f"/>
<rect x="724.9" y="281.1" width="4.6" height="4.6" fill="#7a8b5d"/>
<rect x="728.9" y="281.1" width="4.6" height="4.6" fill="#24310f"/>
<rect x="732.9" y="281.1" width="4.6" height="4.6" fill="#9dad81"/>
<rect x="736.9" y="281.1" width="4.6" height="4.6" fill="#82926a"/>
<rect x="740.9" y="281.1" width="4.6" height="4.6" fill="#667944"/>
<rect x="744.9" y="281.1" width="4.6" height="4.6" fill="#485b27"/>
<rect x="748.9" y="281.1" width="4.6" height="4.6" fill="#687850"/>
<rect x="752.9" y="281.1" width="4.6" height="4.6" fill="#495d25"/>
<rect x="756.9" y="281.1" width="4.6" height="4.6" fill="#394a25"/>
<rect x="760.9" y="281.1" width="4.6" height="4.6" fill="#1f2c15"/>
<rect x="764.9" y="281.1" width="4.6" height="4.6" fill="#435529"/>
<rect x="768.9" y="281.1" width="4.6" height="4.6" fill="#eaf3d6"/>
<rect x="772.9" y="281.1" width="4.6" height="4.6" fill="#b1bdbb"/>
<rect x="776.9" y="281.1" width="4.6" height="4.6" fill="#b5c1a5"/>
<rect x="780.9" y="281.1" width="4.6" height="4.6" fill="#62724c"/>
<rect x="784.9" y="281.1" width="4.6" height="4.6" fill="#4a5d27"/>
<rect x="788.9" y="281.1" width="4.6" height="4.6" fill="#485a31"/>
<rect x="792.9" y="281.1" width="4.6" height="4.6" fill="#5f7258"/>
<rect x="796.9" y="281.1" width="4.6" height="4.6" fill="#33441c"/>
<rect x="800.9" y="281.1" width="4.6" height="4.6" fill="#4f6238"/>
<rect x="804.9" y="281.1" width="4.6" height="4.6" fill="#101609"/>
<rect x="808.9" y="281.1" width="4.6" height="4.6" fill="#172110"/>
<rect x="812.9" y="281.1" width="4.6" height="4.6" fill="#eff5fe"/>
<rect x="816.9" y="281.1" width="4.6" height="4.6" fill="#ccd5c5"/>
<rect x="820.9" y="281.1" width="4.6" height="4.6" fill="#1e290d"/>
<rect x="824.9" y="281.1" width="4.6" height="4.6" fill="#293a0f"/>
<rect x="828.9" y="281.1" width="4.6" height="4.6" fill="#f8ffe5"/>
<rect x="832.9" y="281.1" width="4.6" height="4.6" fill="#f6fceb"/>
<rect x="836.9" y="281.1" width="4.6" height="4.6" fill="#a8b49c"/>
<rect x="840.9" y="281.1" width="4.6" height="4.6" fill="#f3f6f5"/>
<rect x="716.9" y="285.1" width="4.6" height="4.6" fill="#354623"/>
<rect x="720.9" y="285.1" width="4.6" height="4.6" fill="#253214"/>
<rect x="724.9" y="285.1" width="4.6" height="4.6" fill="#7e8d76"/>
<rect x="728.9" y="285.1" width="4.6" height="4.6" fill="#4c5e2f"/>
<rect x="732.9" y="285.1" width="4.6" height="4.6" fill="#5d6e45"/>
<rect x="736.9" y="285.1" width="4.6" height="4.6" fill="#7f8e79"/>
<rect x="740.9" y="285.1" width="4.6" height="4.6" fill="#3c4f2d"/>
<rect x="744.9" y="285.1" width="4.6" height="4.6" fill="#627543"/>
<rect x="748.9" y="285.1" width="4.6" height="4.6" fill="#687b43"/>
<rect x="752.9" y="285.1" width="4.6" height="4.6" fill="#5c7039"/>
<rect x="756.9" y="285.1" width="4.6" height="4.6" fill="#465921"/>
<rect x="760.9" y="285.1" width="4.6" height="4.6" fill="#2b3b13"/>
<rect x="764.9" y="285.1" width="4.6" height="4.6" fill="#8d9b89"/>
<rect x="768.9" y="285.1" width="4.6" height="4.6" fill="#edf4ff"/>
<rect x="772.9" y="285.1" width="4.6" height="4.6" fill="#40522d"/>
<rect x="776.9" y="285.1" width="4.6" height="4.6" fill="#202d0d"/>
<rect x="780.9" y="285.1" width="4.6" height="4.6" fill="#445723"/>
<rect x="784.9" y="285.1" width="4.6" height="4.6" fill="#c5d1b0"/>
<rect x="788.9" y="285.1" width="4.6" height="4.6" fill="#304116"/>
<rect x="792.9" y="285.1" width="4.6" height="4.6" fill="#708252"/>
<rect x="796.9" y="285.1" width="4.6" height="4.6" fill="#35461c"/>
<rect x="800.9" y="285.1" width="4.6" height="4.6" fill="#1c2710"/>
<rect x="804.9" y="285.1" width="4.6" height="4.6" fill="#202d12"/>
<rect x="808.9" y="285.1" width="4.6" height="4.6" fill="#1b250d"/>
<rect x="812.9" y="285.1" width="4.6" height="4.6" fill="#1a240b"/>
<rect x="816.9" y="285.1" width="4.6" height="4.6" fill="#24341a"/>
<rect x="820.9" y="285.1" width="4.6" height="4.6" fill="#1b250e"/>
<rect x="824.9" y="285.1" width="4.6" height="4.6" fill="#bbc7a6"/>
<rect x="828.9" y="285.1" width="4.6" height="4.6" fill="#52652d"/>
<rect x="832.9" y="285.1" width="4.6" height="4.6" fill="#b2bea1"/>
<rect x="836.9" y="285.1" width="4.6" height="4.6" fill="#8b9c6b"/>
<rect x="840.9" y="285.1" width="4.6" height="4.6" fill="#788a56"/>
<rect x="716.9" y="289.1" width="4.6" height="4.6" fill="#3a4d2d"/>
<rect x="720.9" y="289.1" width="4.6" height="4.6" fill="#121806"/>
<rect x="724.9" y="289.1" width="4.6" height="4.6" fill="#28370f"/>
<rect x="728.9" y="289.1" width="4.6" height="4.6" fill="#bdc7c4"/>
<rect x="732.9" y="289.1" width="4.6" height="4.6" fill="#495c35"/>
<rect x="736.9" y="289.1" width="4.6" height="4.6" fill="#a6b48e"/>
<rect x="740.9" y="289.1" width="4.6" height="4.6" fill="#445823"/>
<rect x="744.9" y="289.1" width="4.6" height="4.6" fill="#edf2f2"/>
<rect x="748.9" y="289.1" width="4.6" height="4.6" fill="#36471a"/>
<rect x="752.9" y="289.1" width="4.6" height="4.6" fill="#4a5c31"/>
<rect x="756.9" y="289.1" width="4.6" height="4.6" fill="#b9c7a4"/>
<rect x="760.9" y="289.1" width="4.6" height="4.6" fill="#8d9d70"/>
<rect x="764.9" y="289.1" width="4.6" height="4.6" fill="#79876a"/>
<rect x="768.9" y="289.1" width="4.6" height="4.6" fill="#b0bba8"/>
<rect x="772.9" y="289.1" width="4.6" height="4.6" fill="#6d7e4f"/>
<rect x="776.9" y="289.1" width="4.6" height="4.6" fill="#475b3a"/>
<rect x="780.9" y="289.1" width="4.6" height="4.6" fill="#9ba89f"/>
<rect x="784.9" y="289.1" width="4.6" height="4.6" fill="#62734c"/>
<rect x="788.9" y="289.1" width="4.6" height="4.6" fill="#344522"/>
<rect x="792.9" y="289.1" width="4.6" height="4.6" fill="#536742"/>
<rect x="796.9" y="289.1" width="4.6" height="4.6" fill="#12190c"/>
<rect x="800.9" y="289.1" width="4.6" height="4.6" fill="#25351a"/>
<rect x="804.9" y="289.1" width="4.6" height="4.6" fill="#202b10"/>
<rect x="808.9" y="289.1" width="4.6" height="4.6" fill="#0d1206"/>
<rect x="812.9" y="289.1" width="4.6" height="4.6" fill="#0e1309"/>
<rect x="816.9" y="289.1" width="4.6" height="4.6" fill="#0e1404"/>
<rect x="820.9" y="289.1" width="4.6" height="4.6" fill="#617353"/>
<rect x="824.9" y="289.1" width="4.6" height="4.6" fill="#6c7d62"/>
<rect x="828.9" y="289.1" width="4.6" height="4.6" fill="#718167"/>
<rect x="832.9" y="289.1" width="4.6" height="4.6" fill="#5e704e"/>
<rect x="836.9" y="289.1" width="4.6" height="4.6" fill="#a6b4b4"/>
<rect x="840.9" y="289.1" width="4.6" height="4.6" fill="#ccd4c8"/>
<rect x="716.9" y="293.1" width="4.6" height="4.6" fill="#1b2610"/>
<rect x="720.9" y="293.1" width="4.6" height="4.6" fill="#212f15"/>
<rect x="724.9" y="293.1" width="4.6" height="4.6" fill="#5e7041"/>
<rect x="728.9" y="293.1" width="4.6" height="4.6" fill="#4d602c"/>
<rect x="732.9" y="293.1" width="4.6" height="4.6" fill="#b8c5a4"/>
<rect x="736.9" y="293.1" width="4.6" height="4.6" fill="#7b896c"/>
<rect x="740.9" y="293.1" width="4.6" height="4.6" fill="#546734"/>
<rect x="744.9" y="293.1" width="4.6" height="4.6" fill="#44562d"/>
<rect x="748.9" y="293.1" width="4.6" height="4.6" fill="#161e0e"/>
<rect x="752.9" y="293.1" width="4.6" height="4.6" fill="#526531"/>
<rect x="756.9" y="293.1" width="4.6" height="4.6" fill="#495c34"/>
<rect x="760.9" y="293.1" width="4.6" height="4.6" fill="#8c9982"/>
<rect x="764.9" y="293.1" width="4.6" height="4.6" fill="#4c603b"/>
<rect x="768.9" y="293.1" width="4.6" height="4.6" fill="#879685"/>
<rect x="772.9" y="293.1" width="4.6" height="4.6" fill="#405127"/>
<rect x="776.9" y="293.1" width="4.6" height="4.6" fill="#405222"/>
<rect x="780.9" y="293.1" width="4.6" height="4.6" fill="#d0dbba"/>
<rect x="784.9" y="293.1" width="4.6" height="4.6" fill="#a9b7bc"/>
<rect x="788.9" y="293.1" width="4.6" height="4.6" fill="#4e6032"/>
<rect x="792.9" y="293.1" width="4.6" height="4.6" fill="#425329"/>
<rect x="796.9" y="293.1" width="4.6" height="4.6" fill="#192209"/>
<rect x="800.9" y="293.1" width="4.6" height="4.6" fill="#384a1d"/>
<rect x="804.9" y="293.1" width="4.6" height="4.6" fill="#0c1104"/>
<rect x="808.9" y="293.1" width="4.6" height="4.6" fill="#131b0b"/>
<rect x="812.9" y="293.1" width="4.6" height="4.6" fill="#0a0e04"/>
<rect x="816.9" y="293.1" width="4.6" height="4.6" fill="#101709"/>
<rect x="820.9" y="293.1" width="4.6" height="4.6" fill="#38491e"/>
<rect x="824.9" y="293.1" width="4.6" height="4.6" fill="#43542d"/>
<rect x="828.9" y="293.1" width="4.6" height="4.6" fill="#798976"/>
<rect x="832.9" y="293.1" width="4.6" height="4.6" fill="#808e75"/>
<rect x="836.9" y="293.1" width="4.6" height="4.6" fill="#9eac8d"/>
<rect x="840.9" y="293.1" width="4.6" height="4.6" fill="#e4e9e0"/>
</g>
<g filter="url(#bl2)"><text transform="translate(721.8,183.0) scale(0.95,1)" font-size="17" font-weight="bold" fill="#d4d9ce">35 °C</text>
<line x1="720.3" y1="287.3" x2="755" y2="287.3" stroke="#eef2ea" stroke-width="2.2"/>
<text transform="translate(722.9,283.0) scale(0.86,1)" font-size="12.5" font-weight="bold" fill="#d8dfd2" opacity="0.75">10 µm</text></g>
</svg>
<svg x="851.9" y="169.1" width="126.9" height="125" viewBox="851.9 169.1 126.9 125" overflow="hidden"><g filter="url(#bl)">
<rect x="851.9" y="169.1" width="4.6" height="4.6" fill="#040502"/>
<rect x="855.9" y="169.1" width="4.6" height="4.6" fill="#040502"/>
<rect x="859.9" y="169.1" width="4.6" height="4.6" fill="#040502"/>
<rect x="863.9" y="169.1" width="4.6" height="4.6" fill="#040502"/>
<rect x="867.9" y="169.1" width="4.6" height="4.6" fill="#040502"/>
<rect x="871.9" y="169.1" width="4.6" height="4.6" fill="#040502"/>
<rect x="875.9" y="169.1" width="4.6" height="4.6" fill="#040502"/>
<rect x="879.9" y="169.1" width="4.6" height="4.6" fill="#040502"/>
<rect x="883.9" y="169.1" width="4.6" height="4.6" fill="#040502"/>
<rect x="887.9" y="169.1" width="4.6" height="4.6" fill="#040502"/>
<rect x="891.9" y="169.1" width="4.6" height="4.6" fill="#040502"/>
<rect x="895.9" y="169.1" width="4.6" height="4.6" fill="#040502"/>
<rect x="899.9" y="169.1" width="4.6" height="4.6" fill="#141b05"/>
<rect x="903.9" y="169.1" width="4.6" height="4.6" fill="#141b07"/>
<rect x="907.9" y="169.1" width="4.6" height="4.6" fill="#9ca88f"/>
<rect x="911.9" y="169.1" width="4.6" height="4.6" fill="#71844e"/>
<rect x="915.9" y="169.1" width="4.6" height="4.6" fill="#8e9c7d"/>
<rect x="919.9" y="169.1" width="4.6" height="4.6" fill="#687854"/>
<rect x="923.9" y="169.1" width="4.6" height="4.6" fill="#808e75"/>
<rect x="927.9" y="169.1" width="4.6" height="4.6" fill="#f7fee4"/>
<rect x="931.9" y="169.1" width="4.6" height="4.6" fill="#5c6f4f"/>
<rect x="935.9" y="169.1" width="4.6" height="4.6" fill="#43552e"/>
<rect x="939.9" y="169.1" width="4.6" height="4.6" fill="#3a4b24"/>
<rect x="943.9" y="169.1" width="4.6" height="4.6" fill="#bac4be"/>
<rect x="947.9" y="169.1" width="4.6" height="4.6" fill="#0c1208"/>
<rect x="951.9" y="169.1" width="4.6" height="4.6" fill="#0f1407"/>
<rect x="955.9" y="169.1" width="4.6" height="4.6" fill="#1f2a10"/>
<rect x="959.9" y="169.1" width="4.6" height="4.6" fill="#263416"/>
<rect x="963.9" y="169.1" width="4.6" height="4.6" fill="#111706"/>
<rect x="967.9" y="169.1" width="4.6" height="4.6" fill="#1c260a"/>
<rect x="971.9" y="169.1" width="4.6" height="4.6" fill="#2b3b18"/>
<rect x="975.9" y="169.1" width="4.6" height="4.6" fill="#43552d"/>
<rect x="851.9" y="173.1" width="4.6" height="4.6" fill="#040502"/>
<rect x="855.9" y="173.1" width="4.6" height="4.6" fill="#040502"/>
<rect x="859.9" y="173.1" width="4.6" height="4.6" fill="#040502"/>
<rect x="863.9" y="173.1" width="4.6" height="4.6" fill="#040502"/>
<rect x="867.9" y="173.1" width="4.6" height="4.6" fill="#040502"/>
<rect x="871.9" y="173.1" width="4.6" height="4.6" fill="#040502"/>
<rect x="875.9" y="173.1" width="4.6" height="4.6" fill="#040502"/>
<rect x="879.9" y="173.1" width="4.6" height="4.6" fill="#040502"/>
<rect x="883.9" y="173.1" width="4.6" height="4.6" fill="#040502"/>
<rect x="887.9" y="173.1" width="4.6" height="4.6" fill="#040502"/>
<rect x="891.9" y="173.1" width="4.6" height="4.6" fill="#040502"/>
<rect x="895.9" y="173.1" width="4.6" height="4.6" fill="#040502"/>
<rect x="899.9" y="173.1" width="4.6" height="4.6" fill="#0e1304"/>
<rect x="903.9" y="173.1" width="4.6" height="4.6" fill="#12190b"/>
<rect x="907.9" y="173.1" width="4.6" height="4.6" fill="#99a8a8"/>
<rect x="911.9" y="173.1" width="4.6" height="4.6" fill="#64754c"/>
<rect x="915.9" y="173.1" width="4.6" height="4.6" fill="#edf5dc"/>
<rect x="919.9" y="173.1" width="4.6" height="4.6" fill="#eef5ff"/>
<rect x="923.9" y="173.1" width="4.6" height="4.6" fill="#7b8c7c"/>
<rect x="927.9" y="173.1" width="4.6" height="4.6" fill="#818e71"/>
<rect x="931.9" y="173.1" width="4.6" height="4.6" fill="#5e6f48"/>
<rect x="935.9" y="173.1" width="4.6" height="4.6" fill="#6c7c52"/>
<rect x="939.9" y="173.1" width="4.6" height="4.6" fill="#cdd5c6"/>
<rect x="943.9" y="173.1" width="4.6" height="4.6" fill="#a7b2a9"/>
<rect x="947.9" y="173.1" width="4.6" height="4.6" fill="#0c1007"/>
<rect x="951.9" y="173.1" width="4.6" height="4.6" fill="#1a240d"/>
<rect x="955.9" y="173.1" width="4.6" height="4.6" fill="#1c260a"/>
<rect x="959.9" y="173.1" width="4.6" height="4.6" fill="#50643c"/>
<rect x="963.9" y="173.1" width="4.6" height="4.6" fill="#0c1006"/>
<rect x="967.9" y="173.1" width="4.6" height="4.6" fill="#182108"/>
<rect x="971.9" y="173.1" width="4.6" height="4.6" fill="#5d6e43"/>
<rect x="975.9" y="173.1" width="4.6" height="4.6" fill="#243212"/>
<rect x="851.9" y="177.1" width="4.6" height="4.6" fill="#040502"/>
<rect x="855.9" y="177.1" width="4.6" height="4.6" fill="#040502"/>
<rect x="859.9" y="177.1" width="4.6" height="4.6" fill="#040502"/>
<rect x="863.9" y="177.1" width="4.6" height="4.6" fill="#040502"/>
<rect x="867.9" y="177.1" width="4.6" height="4.6" fill="#040502"/>
<rect x="871.9" y="177.1" width="4.6" height="4.6" fill="#040502"/>
<rect x="875.9" y="177.1" width="4.6" height="4.6" fill="#040502"/>
<rect x="879.9" y="177.1" width="4.6" height="4.6" fill="#040502"/>
<rect x="883.9" y="177.1" width="4.6" height="4.6" fill="#040502"/>
<rect x="887.9" y="177.1" width="4.6" height="4.6" fill="#040502"/>
<rect x="891.9" y="177.1" width="4.6" height="4.6" fill="#0e1403"/>
<rect x="895.9" y="177.1" width="4.6" height="4.6" fill="#0d1207"/>
<rect x="899.9" y="177.1" width="4.6" height="4.6" fill="#0d1207"/>
<rect x="903.9" y="177.1" width="4.6" height="4.6" fill="#1e290c"/>
<rect x="907.9" y="177.1" width="4.6" height="4.6" fill="#52653c"/>
<rect x="911.9" y="177.1" width="4.6" height="4.6" fill="#7b8a69"/>
<rect x="915.9" y="177.1" width="4.6" height="4.6" fill="#bcc6b0"/>
<rect x="919.9" y="177.1" width="4.6" height="4.6" fill="#7f8e75"/>
<rect x="923.9" y="177.1" width="4.6" height="4.6" fill="#233218"/>
<rect x="927.9" y="177.1" width="4.6" height="4.6" fill="#6f7e5b"/>
<rect x="931.9" y="177.1" width="4.6" height="4.6" fill="#ebefea"/>
<rect x="935.9" y="177.1" width="4.6" height="4.6" fill="#eaefef"/>
<rect x="939.9" y="177.1" width="4.6" height="4.6" fill="#84937f"/>
<rect x="943.9" y="177.1" width="4.6" height="4.6" fill="#26350e"/>
<rect x="947.9" y="177.1" width="4.6" height="4.6" fill="#3a4b26"/>
<rect x="951.9" y="177.1" width="4.6" height="4.6" fill="#212d12"/>
<rect x="955.9" y="177.1" width="4.6" height="4.6" fill="#394b2b"/>
<rect x="959.9" y="177.1" width="4.6" height="4.6" fill="#6f8067"/>
<rect x="963.9" y="177.1" width="4.6" height="4.6" fill="#1a230c"/>
<rect x="967.9" y="177.1" width="4.6" height="4.6" fill="#101505"/>
<rect x="971.9" y="177.1" width="4.6" height="4.6" fill="#0f1408"/>
<rect x="975.9" y="177.1" width="4.6" height="4.6" fill="#0d1105"/>
<rect x="851.9" y="181.1" width="4.6" height="4.6" fill="#040502"/>
<rect x="855.9" y="181.1" width="4.6" height="4.6" fill="#040502"/>
<rect x="859.9" y="181.1" width="4.6" height="4.6" fill="#040502"/>
<rect x="863.9" y="181.1" width="4.6" height="4.6" fill="#040502"/>
<rect x="867.9" y="181.1" width="4.6" height="4.6" fill="#040502"/>
<rect x="871.9" y="181.1" width="4.6" height="4.6" fill="#040502"/>
<rect x="875.9" y="181.1" width="4.6" height="4.6" fill="#040502"/>
<rect x="879.9" y="181.1" width="4.6" height="4.6" fill="#040502"/>
<rect x="883.9" y="181.1" width="4.6" height="4.6" fill="#040502"/>
<rect x="887.9" y="181.1" width="4.6" height="4.6" fill="#040502"/>
<rect x="891.9" y="181.1" width="4.6" height="4.6" fill="#0e1409"/>
<rect x="895.9" y="181.1" width="4.6" height="4.6" fill="#131a06"/>
<rect x="899.9" y="181.1" width="4.6" height="4.6" fill="#0a0e05"/>
<rect x="903.9" y="181.1" width="4.6" height="4.6" fill="#0d1104"/>
<rect x="907.9" y="181.1" width="4.6" height="4.6" fill="#99a8a7"/>
<rect x="911.9" y="181.1" width="4.6" height="4.6" fill="#758776"/>
<rect x="915.9" y="181.1" width="4.6" height="4.6" fill="#edf6d8"/>
<rect x="919.9" y="181.1" width="4.6" height="4.6" fill="#212e11"/>
<rect x="923.9" y="181.1" width="4.6" height="4.6" fill="#0b1007"/>
<rect x="927.9" y="181.1" width="4.6" height="4.6" fill="#768773"/>
<rect x="931.9" y="181.1" width="4.6" height="4.6" fill="#dde6f4"/>
<rect x="935.9" y="181.1" width="4.6" height="4.6" fill="#acb8b4"/>
<rect x="939.9" y="181.1" width="4.6" height="4.6" fill="#d2d8d2"/>
<rect x="943.9" y="181.1" width="4.6" height="4.6" fill="#8c9982"/>
<rect x="947.9" y="181.1" width="4.6" height="4.6" fill="#3a4d19"/>
<rect x="951.9" y="181.1" width="4.6" height="4.6" fill="#b0bdbe"/>
<rect x="955.9" y="181.1" width="4.6" height="4.6" fill="#728471"/>
<rect x="959.9" y="181.1" width="4.6" height="4.6" fill="#53663f"/>
<rect x="963.9" y="181.1" width="4.6" height="4.6" fill="#101605"/>
<rect x="967.9" y="181.1" width="4.6" height="4.6" fill="#11170a"/>
<rect x="971.9" y="181.1" width="4.6" height="4.6" fill="#0b0f05"/>
<rect x="975.9" y="181.1" width="4.6" height="4.6" fill="#111804"/>
<rect x="851.9" y="185.1" width="4.6" height="4.6" fill="#040502"/>
<rect x="855.9" y="185.1" width="4.6" height="4.6" fill="#040502"/>
<rect x="859.9" y="185.1" width="4.6" height="4.6" fill="#040502"/>
<rect x="863.9" y="185.1" width="4.6" height="4.6" fill="#040502"/>
<rect x="867.9" y="185.1" width="4.6" height="4.6" fill="#0c1003"/>
<rect x="871.9" y="185.1" width="4.6" height="4.6" fill="#10170b"/>
<rect x="875.9" y="185.1" width="4.6" height="4.6" fill="#0c1007"/>
<rect x="879.9" y="185.1" width="4.6" height="4.6" fill="#0c1004"/>
<rect x="883.9" y="185.1" width="4.6" height="4.6" fill="#18210c"/>
<rect x="887.9" y="185.1" width="4.6" height="4.6" fill="#1f2b0b"/>
<rect x="891.9" y="185.1" width="4.6" height="4.6" fill="#202c0b"/>
<rect x="895.9" y="185.1" width="4.6" height="4.6" fill="#0c1108"/>
<rect x="899.9" y="185.1" width="4.6" height="4.6" fill="#0f1504"/>
<rect x="903.9" y="185.1" width="4.6" height="4.6" fill="#1d280c"/>
<rect x="907.9" y="185.1" width="4.6" height="4.6" fill="#536632"/>
<rect x="911.9" y="185.1" width="4.6" height="4.6" fill="#4b5f25"/>
<rect x="915.9" y="185.1" width="4.6" height="4.6" fill="#0a0e04"/>
<rect x="919.9" y="185.1" width="4.6" height="4.6" fill="#141c0e"/>
<rect x="923.9" y="185.1" width="4.6" height="4.6" fill="#37491c"/>
<rect x="927.9" y="185.1" width="4.6" height="4.6" fill="#243214"/>
<rect x="931.9" y="185.1" width="4.6" height="4.6" fill="#5a6d38"/>
<rect x="935.9" y="185.1" width="4.6" height="4.6" fill="#495b2d"/>
<rect x="939.9" y="185.1" width="4.6" height="4.6" fill="#93a183"/>
<rect x="943.9" y="185.1" width="4.6" height="4.6" fill="#bdc7b7"/>
<rect x="947.9" y="185.1" width="4.6" height="4.6" fill="#98a48c"/>
<rect x="951.9" y="185.1" width="4.6" height="4.6" fill="#77895a"/>
<rect x="955.9" y="185.1" width="4.6" height="4.6" fill="#919e81"/>
<rect x="959.9" y="185.1" width="4.6" height="4.6" fill="#ced9e4"/>
<rect x="963.9" y="185.1" width="4.6" height="4.6" fill="#0e1409"/>
<rect x="967.9" y="185.1" width="4.6" height="4.6" fill="#0d1207"/>
<rect x="971.9" y="185.1" width="4.6" height="4.6" fill="#0d1106"/>
<rect x="975.9" y="185.1" width="4.6" height="4.6" fill="#0c1004"/>
<rect x="851.9" y="189.1" width="4.6" height="4.6" fill="#040502"/>
<rect x="855.9" y="189.1" width="4.6" height="4.6" fill="#040502"/>
<rect x="859.9" y="189.1" width="4.6" height="4.6" fill="#040502"/>
<rect x="863.9" y="189.1" width="4.6" height="4.6" fill="#040502"/>
<rect x="867.9" y="189.1" width="4.6" height="4.6" fill="#0f1504"/>
<rect x="871.9" y="189.1" width="4.6" height="4.6" fill="#0e1304"/>
<rect x="875.9" y="189.1" width="4.6" height="4.6" fill="#0d1309"/>
<rect x="879.9" y="189.1" width="4.6" height="4.6" fill="#233011"/>
<rect x="883.9" y="189.1" width="4.6" height="4.6" fill="#35461a"/>
<rect x="887.9" y="189.1" width="4.6" height="4.6" fill="#233014"/>
<rect x="891.9" y="189.1" width="4.6" height="4.6" fill="#101604"/>
<rect x="895.9" y="189.1" width="4.6" height="4.6" fill="#0b0f06"/>
<rect x="899.9" y="189.1" width="4.6" height="4.6" fill="#0f1505"/>
<rect x="903.9" y="189.1" width="4.6" height="4.6" fill="#233111"/>
<rect x="907.9" y="189.1" width="4.6" height="4.6" fill="#202d0e"/>
<rect x="911.9" y="189.1" width="4.6" height="4.6" fill="#161f0f"/>
<rect x="915.9" y="189.1" width="4.6" height="4.6" fill="#121805"/>
<rect x="919.9" y="189.1" width="4.6" height="4.6" fill="#111705"/>
<rect x="923.9" y="189.1" width="4.6" height="4.6" fill="#1c260b"/>
<rect x="927.9" y="189.1" width="4.6" height="4.6" fill="#202e17"/>
<rect x="931.9" y="189.1" width="4.6" height="4.6" fill="#41532d"/>
<rect x="935.9" y="189.1" width="4.6" height="4.6" fill="#687a47"/>
<rect x="939.9" y="189.1" width="4.6" height="4.6" fill="#87978e"/>
<rect x="943.9" y="189.1" width="4.6" height="4.6" fill="#697b60"/>
<rect x="947.9" y="189.1" width="4.6" height="4.6" fill="#b9c5a7"/>
<rect x="951.9" y="189.1" width="4.6" height="4.6" fill="#87976b"/>
<rect x="955.9" y="189.1" width="4.6" height="4.6" fill="#354620"/>
<rect x="959.9" y="189.1" width="4.6" height="4.6" fill="#96a394"/>
<rect x="963.9" y="189.1" width="4.6" height="4.6" fill="#141c0c"/>
<rect x="967.9" y="189.1" width="4.6" height="4.6" fill="#0e1407"/>
<rect x="971.9" y="189.1" width="4.6" height="4.6" fill="#141b08"/>
<rect x="975.9" y="189.1" width="4.6" height="4.6" fill="#0e1304"/>
<rect x="851.9" y="193.1" width="4.6" height="4.6" fill="#040502"/>
<rect x="855.9" y="193.1" width="4.6" height="4.6" fill="#040502"/>
<rect x="859.9" y="193.1" width="4.6" height="4.6" fill="#040502"/>
<rect x="863.9" y="193.1" width="4.6" height="4.6" fill="#040502"/>
<rect x="867.9" y="193.1" width="4.6" height="4.6" fill="#0c1006"/>
<rect x="871.9" y="193.1" width="4.6" height="4.6" fill="#10170a"/>
<rect x="875.9" y="193.1" width="4.6" height="4.6" fill="#0d1208"/>
<rect x="879.9" y="193.1" width="4.6" height="4.6" fill="#171f0a"/>
<rect x="883.9" y="193.1" width="4.6" height="4.6" fill="#111707"/>
<rect x="887.9" y="193.1" width="4.6" height="4.6" fill="#0e1404"/>
<rect x="891.9" y="193.1" width="4.6" height="4.6" fill="#040502"/>
<rect x="895.9" y="193.1" width="4.6" height="4.6" fill="#040502"/>
<rect x="899.9" y="193.1" width="4.6" height="4.6" fill="#161f0e"/>
<rect x="903.9" y="193.1" width="4.6" height="4.6" fill="#0f1505"/>
<rect x="907.9" y="193.1" width="4.6" height="4.6" fill="#121904"/>
<rect x="911.9" y="193.1" width="4.6" height="4.6" fill="#0f1405"/>
<rect x="915.9" y="193.1" width="4.6" height="4.6" fill="#040502"/>
<rect x="919.9" y="193.1" width="4.6" height="4.6" fill="#040502"/>
<rect x="923.9" y="193.1" width="4.6" height="4.6" fill="#101608"/>
<rect x="927.9" y="193.1" width="4.6" height="4.6" fill="#18210a"/>
<rect x="931.9" y="193.1" width="4.6" height="4.6" fill="#040502"/>
<rect x="935.9" y="193.1" width="4.6" height="4.6" fill="#050602"/>
<rect x="939.9" y="193.1" width="4.6" height="4.6" fill="#1f2a12"/>
<rect x="943.9" y="193.1" width="4.6" height="4.6" fill="#6e806e"/>
<rect x="947.9" y="193.1" width="4.6" height="4.6" fill="#667848"/>
<rect x="951.9" y="193.1" width="4.6" height="4.6" fill="#94a193"/>
<rect x="955.9" y="193.1" width="4.6" height="4.6" fill="#4c5e2d"/>
<rect x="959.9" y="193.1" width="4.6" height="4.6" fill="#75855e"/>
<rect x="963.9" y="193.1" width="4.6" height="4.6" fill="#697953"/>
<rect x="967.9" y="193.1" width="4.6" height="4.6" fill="#556842"/>
<rect x="971.9" y="193.1" width="4.6" height="4.6" fill="#1a240b"/>
<rect x="975.9" y="193.1" width="4.6" height="4.6" fill="#0f1504"/>
<rect x="851.9" y="197.1" width="4.6" height="4.6" fill="#040502"/>
<rect x="855.9" y="197.1" width="4.6" height="4.6" fill="#040502"/>
<rect x="859.9" y="197.1" width="4.6" height="4.6" fill="#040502"/>
<rect x="863.9" y="197.1" width="4.6" height="4.6" fill="#040502"/>
<rect x="867.9" y="197.1" width="4.6" height="4.6" fill="#080b04"/>
<rect x="871.9" y="197.1" width="4.6" height="4.6" fill="#0f1404"/>
<rect x="875.9" y="197.1" width="4.6" height="4.6" fill="#12190a"/>
<rect x="879.9" y="197.1" width="4.6" height="4.6" fill="#0b0f06"/>
<rect x="883.9" y="197.1" width="4.6" height="4.6" fill="#101608"/>
<rect x="887.9" y="197.1" width="4.6" height="4.6" fill="#0a0e04"/>
<rect x="891.9" y="197.1" width="4.6" height="4.6" fill="#040502"/>
<rect x="895.9" y="197.1" width="4.6" height="4.6" fill="#040502"/>
<rect x="899.9" y="197.1" width="4.6" height="4.6" fill="#0d1207"/>
<rect x="903.9" y="197.1" width="4.6" height="4.6" fill="#111707"/>
<rect x="907.9" y="197.1" width="4.6" height="4.6" fill="#19220e"/>
<rect x="911.9" y="197.1" width="4.6" height="4.6" fill="#0b0e05"/>
<rect x="915.9" y="197.1" width="4.6" height="4.6" fill="#040502"/>
<rect x="919.9" y="197.1" width="4.6" height="4.6" fill="#040502"/>
<rect x="923.9" y="197.1" width="4.6" height="4.6" fill="#090d04"/>
<rect x="927.9" y="197.1" width="4.6" height="4.6" fill="#0b0f07"/>
<rect x="931.9" y="197.1" width="4.6" height="4.6" fill="#040502"/>
<rect x="935.9" y="197.1" width="4.6" height="4.6" fill="#040502"/>
<rect x="939.9" y="197.1" width="4.6" height="4.6" fill="#2a3912"/>
<rect x="943.9" y="197.1" width="4.6" height="4.6" fill="#2c3d14"/>
<rect x="947.9" y="197.1" width="4.6" height="4.6" fill="#6b7b56"/>
<rect x="951.9" y="197.1" width="4.6" height="4.6" fill="#7d8e81"/>
<rect x="955.9" y="197.1" width="4.6" height="4.6" fill="#263413"/>
<rect x="959.9" y="197.1" width="4.6" height="4.6" fill="#687a4a"/>
<rect x="963.9" y="197.1" width="4.6" height="4.6" fill="#495d24"/>
<rect x="967.9" y="197.1" width="4.6" height="4.6" fill="#66775a"/>
<rect x="971.9" y="197.1" width="4.6" height="4.6" fill="#0d1103"/>
<rect x="975.9" y="197.1" width="4.6" height="4.6" fill="#11180b"/>
<rect x="851.9" y="201.1" width="4.6" height="4.6" fill="#040502"/>
<rect x="855.9" y="201.1" width="4.6" height="4.6" fill="#040502"/>
<rect x="859.9" y="201.1" width="4.6" height="4.6" fill="#0d1206"/>
<rect x="863.9" y="201.1" width="4.6" height="4.6" fill="#0b0f04"/>
<rect x="867.9" y="201.1" width="4.6" height="4.6" fill="#131a08"/>
<rect x="871.9" y="201.1" width="4.6" height="4.6" fill="#161d0a"/>
<rect x="875.9" y="201.1" width="4.6" height="4.6" fill="#040502"/>
<rect x="879.9" y="201.1" width="4.6" height="4.6" fill="#040502"/>
<rect x="883.9" y="201.1" width="4.6" height="4.6" fill="#0b0f03"/>
<rect x="887.9" y="201.1" width="4.6" height="4.6" fill="#090b03"/>
<rect x="891.9" y="201.1" width="4.6" height="4.6" fill="#111705"/>
<rect x="895.9" y="201.1" width="4.6" height="4.6" fill="#131a06"/>
<rect x="899.9" y="201.1" width="4.6" height="4.6" fill="#111708"/>
<rect x="903.9" y="201.1" width="4.6" height="4.6" fill="#101606"/>
<rect x="907.9" y="201.1" width="4.6" height="4.6" fill="#45572f"/>
<rect x="911.9" y="201.1" width="4.6" height="4.6" fill="#1d280b"/>
<rect x="915.9" y="201.1" width="4.6" height="4.6" fill="#040502"/>
<rect x="919.9" y="201.1" width="4.6" height="4.6" fill="#040502"/>
<rect x="923.9" y="201.1" width="4.6" height="4.6" fill="#040502"/>
<rect x="927.9" y="201.1" width="4.6" height="4.6" fill="#040502"/>
<rect x="931.9" y="201.1" width="4.6" height="4.6" fill="#040502"/>
<rect x="935.9" y="201.1" width="4.6" height="4.6" fill="#040502"/>
<rect x="939.9" y="201.1" width="4.6" height="4.6" fill="#0e1407"/>
<rect x="943.9" y="201.1" width="4.6" height="4.6" fill="#172010"/>
<rect x="947.9" y="201.1" width="4.6" height="4.6" fill="#394c1c"/>
<rect x="951.9" y="201.1" width="4.6" height="4.6" fill="#111706"/>
<rect x="955.9" y="201.1" width="4.6" height="4.6" fill="#384a1c"/>
<rect x="959.9" y="201.1" width="4.6" height="4.6" fill="#2a3a18"/>
<rect x="963.9" y="201.1" width="4.6" height="4.6" fill="#647553"/>
<rect x="967.9" y="201.1" width="4.6" height="4.6" fill="#4d623e"/>
<rect x="971.9" y="201.1" width="4.6" height="4.6" fill="#0c1008"/>
<rect x="975.9" y="201.1" width="4.6" height="4.6" fill="#0d1207"/>
<rect x="851.9" y="205.1" width="4.6" height="4.6" fill="#040502"/>
<rect x="855.9" y="205.1" width="4.6" height="4.6" fill="#040502"/>
<rect x="859.9" y="205.1" width="4.6" height="4.6" fill="#0c1106"/>
<rect x="863.9" y="205.1" width="4.6" height="4.6" fill="#101607"/>
<rect x="867.9" y="205.1" width="4.6" height="4.6" fill="#0c1108"/>
<rect x="871.9" y="205.1" width="4.6" height="4.6" fill="#18200c"/>
<rect x="875.9" y="205.1" width="4.6" height="4.6" fill="#040502"/>
<rect x="879.9" y="205.1" width="4.6" height="4.6" fill="#040502"/>
<rect x="883.9" y="205.1" width="4.6" height="4.6" fill="#0d1204"/>
<rect x="887.9" y="205.1" width="4.6" height="4.6" fill="#0b0e05"/>
<rect x="891.9" y="205.1" width="4.6" height="4.6" fill="#0c0f05"/>
<rect x="895.9" y="205.1" width="4.6" height="4.6" fill="#0b0e05"/>
<rect x="899.9" y="205.1" width="4.6" height="4.6" fill="#19220a"/>
<rect x="903.9" y="205.1" width="4.6" height="4.6" fill="#0b1006"/>
<rect x="907.9" y="205.1" width="4.6" height="4.6" fill="#2f4016"/>
<rect x="911.9" y="205.1" width="4.6" height="4.6" fill="#111607"/>
<rect x="915.9" y="205.1" width="4.6" height="4.6" fill="#070903"/>
<rect x="919.9" y="205.1" width="4.6" height="4.6" fill="#040502"/>
<rect x="923.9" y="205.1" width="4.6" height="4.6" fill="#040502"/>
<rect x="927.9" y="205.1" width="4.6" height="4.6" fill="#040502"/>
<rect x="931.9" y="205.1" width="4.6" height="4.6" fill="#040502"/>
<rect x="935.9" y="205.1" width="4.6" height="4.6" fill="#060702"/>
<rect x="939.9" y="205.1" width="4.6" height="4.6" fill="#0d1204"/>
<rect x="943.9" y="205.1" width="4.6" height="4.6" fill="#1a240c"/>
<rect x="947.9" y="205.1" width="4.6" height="4.6" fill="#293910"/>
<rect x="951.9" y="205.1" width="4.6" height="4.6" fill="#b3c19c"/>
<rect x="955.9" y="205.1" width="4.6" height="4.6" fill="#35471a"/>
<rect x="959.9" y="205.1" width="4.6" height="4.6" fill="#43552e"/>
<rect x="963.9" y="205.1" width="4.6" height="4.6" fill="#2a3b1c"/>
<rect x="967.9" y="205.1" width="4.6" height="4.6" fill="#27360e"/>
<rect x="971.9" y="205.1" width="4.6" height="4.6" fill="#0e1308"/>
<rect x="975.9" y="205.1" width="4.6" height="4.6" fill="#293919"/>
<rect x="851.9" y="209.1" width="4.6" height="4.6" fill="#0c1007"/>
<rect x="855.9" y="209.1" width="4.6" height="4.6" fill="#0b0f06"/>
<rect x="859.9" y="209.1" width="4.6" height="4.6" fill="#111705"/>
<rect x="863.9" y="209.1" width="4.6" height="4.6" fill="#4c602a"/>
<rect x="867.9" y="209.1" width="4.6" height="4.6" fill="#101608"/>
<rect x="871.9" y="209.1" width="4.6" height="4.6" fill="#182107"/>
<rect x="875.9" y="209.1" width="4.6" height="4.6" fill="#0a0d04"/>
<rect x="879.9" y="209.1" width="4.6" height="4.6" fill="#0f150a"/>
<rect x="883.9" y="209.1" width="4.6" height="4.6" fill="#0c1108"/>
<rect x="887.9" y="209.1" width="4.6" height="4.6" fill="#0e1404"/>
<rect x="891.9" y="209.1" width="4.6" height="4.6" fill="#040502"/>
<rect x="895.9" y="209.1" width="4.6" height="4.6" fill="#040502"/>
<rect x="899.9" y="209.1" width="4.6" height="4.6" fill="#192209"/>
<rect x="903.9" y="209.1" width="4.6" height="4.6" fill="#0e1408"/>
<rect x="907.9" y="209.1" width="4.6" height="4.6" fill="#3e521d"/>
<rect x="911.9" y="209.1" width="4.6" height="4.6" fill="#273617"/>
<rect x="915.9" y="209.1" width="4.6" height="4.6" fill="#71834f"/>
<rect x="919.9" y="209.1" width="4.6" height="4.6" fill="#506236"/>
<rect x="923.9" y="209.1" width="4.6" height="4.6" fill="#111709"/>
<rect x="927.9" y="209.1" width="4.6" height="4.6" fill="#0a0d05"/>
<rect x="931.9" y="209.1" width="4.6" height="4.6" fill="#040502"/>
<rect x="935.9" y="209.1" width="4.6" height="4.6" fill="#040502"/>
<rect x="939.9" y="209.1" width="4.6" height="4.6" fill="#394b27"/>
<rect x="943.9" y="209.1" width="4.6" height="4.6" fill="#4c5e35"/>
<rect x="947.9" y="209.1" width="4.6" height="4.6" fill="#e5ebe0"/>
<rect x="951.9" y="209.1" width="4.6" height="4.6" fill="#78876c"/>
<rect x="955.9" y="209.1" width="4.6" height="4.6" fill="#afbcc2"/>
<rect x="959.9" y="209.1" width="4.6" height="4.6" fill="#6f8056"/>
<rect x="963.9" y="209.1" width="4.6" height="4.6" fill="#55683f"/>
<rect x="967.9" y="209.1" width="4.6" height="4.6" fill="#253310"/>
<rect x="971.9" y="209.1" width="4.6" height="4.6" fill="#728355"/>
<rect x="975.9" y="209.1" width="4.6" height="4.6" fill="#4f6132"/>
<rect x="851.9" y="213.1" width="4.6" height="4.6" fill="#0f1405"/>
<rect x="855.9" y="213.1" width="4.6" height="4.6" fill="#101609"/>
<rect x="859.9" y="213.1" width="4.6" height="4.6" fill="#2b3c1d"/>
<rect x="863.9" y="213.1" width="4.6" height="4.6" fill="#455835"/>
<rect x="867.9" y="213.1" width="4.6" height="4.6" fill="#0d1204"/>
<rect x="871.9" y="213.1" width="4.6" height="4.6" fill="#1b250c"/>
<rect x="875.9" y="213.1" width="4.6" height="4.6" fill="#101604"/>
<rect x="879.9" y="213.1" width="4.6" height="4.6" fill="#0d1206"/>
<rect x="883.9" y="213.1" width="4.6" height="4.6" fill="#1b250c"/>
<rect x="887.9" y="213.1" width="4.6" height="4.6" fill="#0e1306"/>
<rect x="891.9" y="213.1" width="4.6" height="4.6" fill="#040502"/>
<rect x="895.9" y="213.1" width="4.6" height="4.6" fill="#040502"/>
<rect x="899.9" y="213.1" width="4.6" height="4.6" fill="#0b1007"/>
<rect x="903.9" y="213.1" width="4.6" height="4.6" fill="#111705"/>
<rect x="907.9" y="213.1" width="4.6" height="4.6" fill="#364828"/>
<rect x="911.9" y="213.1" width="4.6" height="4.6" fill="#1e2a0b"/>
<rect x="915.9" y="213.1" width="4.6" height="4.6" fill="#55692f"/>
<rect x="919.9" y="213.1" width="4.6" height="4.6" fill="#34451b"/>
<rect x="923.9" y="213.1" width="4.6" height="4.6" fill="#0f1503"/>
<rect x="927.9" y="213.1" width="4.6" height="4.6" fill="#0e1204"/>
<rect x="931.9" y="213.1" width="4.6" height="4.6" fill="#040502"/>
<rect x="935.9" y="213.1" width="4.6" height="4.6" fill="#040502"/>
<rect x="939.9" y="213.1" width="4.6" height="4.6" fill="#283712"/>
<rect x="943.9" y="213.1" width="4.6" height="4.6" fill="#34451b"/>
<rect x="947.9" y="213.1" width="4.6" height="4.6" fill="#b4beb1"/>
<rect x="951.9" y="213.1" width="4.6" height="4.6" fill="#889682"/>
<rect x="955.9" y="213.1" width="4.6" height="4.6" fill="#627348"/>
<rect x="959.9" y="213.1" width="4.6" height="4.6" fill="#657940"/>
<rect x="963.9" y="213.1" width="4.6" height="4.6" fill="#3c4e2b"/>
<rect x="967.9" y="213.1" width="4.6" height="4.6" fill="#66764e"/>
<rect x="971.9" y="213.1" width="4.6" height="4.6" fill="#60743b"/>
<rect x="975.9" y="213.1" width="4.6" height="4.6" fill="#99a591"/>
<rect x="851.9" y="217.1" width="4.6" height="4.6" fill="#101605"/>
<rect x="855.9" y="217.1" width="4.6" height="4.6" fill="#131a08"/>
<rect x="859.9" y="217.1" width="4.6" height="4.6" fill="#1f2c0a"/>
<rect x="863.9" y="217.1" width="4.6" height="4.6" fill="#233010"/>
<rect x="867.9" y="217.1" width="4.6" height="4.6" fill="#19220b"/>
<rect x="871.9" y="217.1" width="4.6" height="4.6" fill="#10170b"/>
<rect x="875.9" y="217.1" width="4.6" height="4.6" fill="#101605"/>
<rect x="879.9" y="217.1" width="4.6" height="4.6" fill="#111705"/>
<rect x="883.9" y="217.1" width="4.6" height="4.6" fill="#0b0f06"/>
<rect x="887.9" y="217.1" width="4.6" height="4.6" fill="#101504"/>
<rect x="891.9" y="217.1" width="4.6" height="4.6" fill="#040502"/>
<rect x="895.9" y="217.1" width="4.6" height="4.6" fill="#040502"/>
<rect x="899.9" y="217.1" width="4.6" height="4.6" fill="#101607"/>
<rect x="903.9" y="217.1" width="4.6" height="4.6" fill="#17210e"/>
<rect x="907.9" y="217.1" width="4.6" height="4.6" fill="#101608"/>
<rect x="911.9" y="217.1" width="4.6" height="4.6" fill="#0d1107"/>
<rect x="915.9" y="217.1" width="4.6" height="4.6" fill="#080a04"/>
<rect x="919.9" y="217.1" width="4.6" height="4.6" fill="#182310"/>
<rect x="923.9" y="217.1" width="4.6" height="4.6" fill="#1a230b"/>
<rect x="927.9" y="217.1" width="4.6" height="4.6" fill="#131b0c"/>
<rect x="931.9" y="217.1" width="4.6" height="4.6" fill="#0b0f03"/>
<rect x="935.9" y="217.1" width="4.6" height="4.6" fill="#0f1406"/>
<rect x="939.9" y="217.1" width="4.6" height="4.6" fill="#1d2912"/>
<rect x="943.9" y="217.1" width="4.6" height="4.6" fill="#415430"/>
<rect x="947.9" y="217.1" width="4.6" height="4.6" fill="#bfc8bd"/>
<rect x="951.9" y="217.1" width="4.6" height="4.6" fill="#f4f7f3"/>
<rect x="955.9" y="217.1" width="4.6" height="4.6" fill="#dce4e7"/>
<rect x="959.9" y="217.1" width="4.6" height="4.6" fill="#e0e8f0"/>
<rect x="963.9" y="217.1" width="4.6" height="4.6" fill="#c2cbbb"/>
<rect x="967.9" y="217.1" width="4.6" height="4.6" fill="#b8c2bb"/>
<rect x="971.9" y="217.1" width="4.6" height="4.6" fill="#8c9b8f"/>
<rect x="975.9" y="217.1" width="4.6" height="4.6" fill="#6d7d57"/>
<rect x="851.9" y="221.1" width="4.6" height="4.6" fill="#1c270f"/>
<rect x="855.9" y="221.1" width="4.6" height="4.6" fill="#151d08"/>
<rect x="859.9" y="221.1" width="4.6" height="4.6" fill="#506330"/>
<rect x="863.9" y="221.1" width="4.6" height="4.6" fill="#4e612b"/>
<rect x="867.9" y="221.1" width="4.6" height="4.6" fill="#182311"/>
<rect x="871.9" y="221.1" width="4.6" height="4.6" fill="#314217"/>
<rect x="875.9" y="221.1" width="4.6" height="4.6" fill="#11190c"/>
<rect x="879.9" y="221.1" width="4.6" height="4.6" fill="#111809"/>
<rect x="883.9" y="221.1" width="4.6" height="4.6" fill="#1e290d"/>
<rect x="887.9" y="221.1" width="4.6" height="4.6" fill="#2a3a0f"/>
<rect x="891.9" y="221.1" width="4.6" height="4.6" fill="#040502"/>
<rect x="895.9" y="221.1" width="4.6" height="4.6" fill="#050602"/>
<rect x="899.9" y="221.1" width="4.6" height="4.6" fill="#0b0f06"/>
<rect x="903.9" y="221.1" width="4.6" height="4.6" fill="#0c1007"/>
<rect x="907.9" y="221.1" width="4.6" height="4.6" fill="#101609"/>
<rect x="911.9" y="221.1" width="4.6" height="4.6" fill="#0f1509"/>
<rect x="915.9" y="221.1" width="4.6" height="4.6" fill="#101609"/>
<rect x="919.9" y="221.1" width="4.6" height="4.6" fill="#0f1406"/>
<rect x="923.9" y="221.1" width="4.6" height="4.6" fill="#202b0e"/>
<rect x="927.9" y="221.1" width="4.6" height="4.6" fill="#374919"/>
<rect x="931.9" y="221.1" width="4.6" height="4.6" fill="#111704"/>
<rect x="935.9" y="221.1" width="4.6" height="4.6" fill="#141c07"/>
<rect x="939.9" y="221.1" width="4.6" height="4.6" fill="#818f6d"/>
<rect x="943.9" y="221.1" width="4.6" height="4.6" fill="#3c4e20"/>
<rect x="947.9" y="221.1" width="4.6" height="4.6" fill="#96a480"/>
<rect x="951.9" y="221.1" width="4.6" height="4.6" fill="#a3af9a"/>
<rect x="955.9" y="221.1" width="4.6" height="4.6" fill="#73835c"/>
<rect x="959.9" y="221.1" width="4.6" height="4.6" fill="#86947e"/>
<rect x="963.9" y="221.1" width="4.6" height="4.6" fill="#e5edd7"/>
<rect x="967.9" y="221.1" width="4.6" height="4.6" fill="#c3cbc2"/>
<rect x="971.9" y="221.1" width="4.6" height="4.6" fill="#697b63"/>
<rect x="975.9" y="221.1" width="4.6" height="4.6" fill="#627459"/>
<rect x="851.9" y="225.1" width="4.6" height="4.6" fill="#212d13"/>
<rect x="855.9" y="225.1" width="4.6" height="4.6" fill="#3c4d28"/>
<rect x="859.9" y="225.1" width="4.6" height="4.6" fill="#1b2713"/>
<rect x="863.9" y="225.1" width="4.6" height="4.6" fill="#61724b"/>
<rect x="867.9" y="225.1" width="4.6" height="4.6" fill="#405129"/>
<rect x="871.9" y="225.1" width="4.6" height="4.6" fill="#7a8c7f"/>
<rect x="875.9" y="225.1" width="4.6" height="4.6" fill="#97a680"/>
<rect x="879.9" y="225.1" width="4.6" height="4.6" fill="#9aa8a5"/>
<rect x="883.9" y="225.1" width="4.6" height="4.6" fill="#5f7140"/>
<rect x="887.9" y="225.1" width="4.6" height="4.6" fill="#32421c"/>
<rect x="891.9" y="225.1" width="4.6" height="4.6" fill="#354717"/>
<rect x="895.9" y="225.1" width="4.6" height="4.6" fill="#223119"/>
<rect x="899.9" y="225.1" width="4.6" height="4.6" fill="#101604"/>
<rect x="903.9" y="225.1" width="4.6" height="4.6" fill="#0e1404"/>
<rect x="907.9" y="225.1" width="4.6" height="4.6" fill="#182207"/>
<rect x="911.9" y="225.1" width="4.6" height="4.6" fill="#0f1406"/>
<rect x="915.9" y="225.1" width="4.6" height="4.6" fill="#040502"/>
<rect x="919.9" y="225.1" width="4.6" height="4.6" fill="#050702"/>
<rect x="923.9" y="225.1" width="4.6" height="4.6" fill="#2a3b11"/>
<rect x="927.9" y="225.1" width="4.6" height="4.6" fill="#253419"/>
<rect x="931.9" y="225.1" width="4.6" height="4.6" fill="#1d2914"/>
<rect x="935.9" y="225.1" width="4.6" height="4.6" fill="#111806"/>
<rect x="939.9" y="225.1" width="4.6" height="4.6" fill="#657759"/>
<rect x="943.9" y="225.1" width="4.6" height="4.6" fill="#62753d"/>
<rect x="947.9" y="225.1" width="4.6" height="4.6" fill="#6b7d68"/>
<rect x="951.9" y="225.1" width="4.6" height="4.6" fill="#37491c"/>
<rect x="955.9" y="225.1" width="4.6" height="4.6" fill="#44562d"/>
<rect x="959.9" y="225.1" width="4.6" height="4.6" fill="#d4dee8"/>
<rect x="963.9" y="225.1" width="4.6" height="4.6" fill="#93a193"/>
<rect x="967.9" y="225.1" width="4.6" height="4.6" fill="#5c7054"/>
<rect x="971.9" y="225.1" width="4.6" height="4.6" fill="#929f85"/>
<rect x="975.9" y="225.1" width="4.6" height="4.6" fill="#4b5e36"/>
<rect x="851.9" y="229.1" width="4.6" height="4.6" fill="#677b41"/>
<rect x="855.9" y="229.1" width="4.6" height="4.6" fill="#5e6f4b"/>
<rect x="859.9" y="229.1" width="4.6" height="4.6" fill="#596c4b"/>
<rect x="863.9" y="229.1" width="4.6" height="4.6" fill="#5c6d46"/>
<rect x="867.9" y="229.1" width="4.6" height="4.6" fill="#1d2a15"/>
<rect x="871.9" y="229.1" width="4.6" height="4.6" fill="#31421f"/>
<rect x="875.9" y="229.1" width="4.6" height="4.6" fill="#718269"/>
<rect x="879.9" y="229.1" width="4.6" height="4.6" fill="#36471f"/>
<rect x="883.9" y="229.1" width="4.6" height="4.6" fill="#405223"/>
<rect x="887.9" y="229.1" width="4.6" height="4.6" fill="#4e6137"/>
<rect x="891.9" y="229.1" width="4.6" height="4.6" fill="#47592d"/>
<rect x="895.9" y="229.1" width="4.6" height="4.6" fill="#1c2813"/>
<rect x="899.9" y="229.1" width="4.6" height="4.6" fill="#0e1404"/>
<rect x="903.9" y="229.1" width="4.6" height="4.6" fill="#0f150a"/>
<rect x="907.9" y="229.1" width="4.6" height="4.6" fill="#17200e"/>
<rect x="911.9" y="229.1" width="4.6" height="4.6" fill="#0f150a"/>
<rect x="915.9" y="229.1" width="4.6" height="4.6" fill="#040502"/>
<rect x="919.9" y="229.1" width="4.6" height="4.6" fill="#070a03"/>
<rect x="923.9" y="229.1" width="4.6" height="4.6" fill="#151d08"/>
<rect x="927.9" y="229.1" width="4.6" height="4.6" fill="#405320"/>
<rect x="931.9" y="229.1" width="4.6" height="4.6" fill="#121807"/>
<rect x="935.9" y="229.1" width="4.6" height="4.6" fill="#212e10"/>
<rect x="939.9" y="229.1" width="4.6" height="4.6" fill="#96a49a"/>
<rect x="943.9" y="229.1" width="4.6" height="4.6" fill="#9cac81"/>
<rect x="947.9" y="229.1" width="4.6" height="4.6" fill="#1f2b11"/>
<rect x="951.9" y="229.1" width="4.6" height="4.6" fill="#25341a"/>
<rect x="955.9" y="229.1" width="4.6" height="4.6" fill="#c6d2b5"/>
<rect x="959.9" y="229.1" width="4.6" height="4.6" fill="#8b9883"/>
<rect x="963.9" y="229.1" width="4.6" height="4.6" fill="#a6b4b5"/>
<rect x="967.9" y="229.1" width="4.6" height="4.6" fill="#a9b3a7"/>
<rect x="971.9" y="229.1" width="4.6" height="4.6" fill="#8b998a"/>
<rect x="975.9" y="229.1" width="4.6" height="4.6" fill="#dce6f3"/>
<rect x="851.9" y="233.1" width="4.6" height="4.6" fill="#75865b"/>
<rect x="855.9" y="233.1" width="4.6" height="4.6" fill="#495b30"/>
<rect x="859.9" y="233.1" width="4.6" height="4.6" fill="#919d83"/>
<rect x="863.9" y="233.1" width="4.6" height="4.6" fill="#66785c"/>
<rect x="867.9" y="233.1" width="4.6" height="4.6" fill="#233010"/>
<rect x="871.9" y="233.1" width="4.6" height="4.6" fill="#273613"/>
<rect x="875.9" y="233.1" width="4.6" height="4.6" fill="#5f714d"/>
<rect x="879.9" y="233.1" width="4.6" height="4.6" fill="#b1bda2"/>
<rect x="883.9" y="233.1" width="4.6" height="4.6" fill="#2e3e1b"/>
<rect x="887.9" y="233.1" width="4.6" height="4.6" fill="#62734e"/>
<rect x="891.9" y="233.1" width="4.6" height="4.6" fill="#2d3f22"/>
<rect x="895.9" y="233.1" width="4.6" height="4.6" fill="#455727"/>
<rect x="899.9" y="233.1" width="4.6" height="4.6" fill="#101608"/>
<rect x="903.9" y="233.1" width="4.6" height="4.6" fill="#0f150a"/>
<rect x="907.9" y="233.1" width="4.6" height="4.6" fill="#0a0d04"/>
<rect x="911.9" y="233.1" width="4.6" height="4.6" fill="#131b0c"/>
<rect x="915.9" y="233.1" width="4.6" height="4.6" fill="#344627"/>
<rect x="919.9" y="233.1" width="4.6" height="4.6" fill="#161d0b"/>
<rect x="923.9" y="233.1" width="4.6" height="4.6" fill="#a1af8e"/>
<rect x="927.9" y="233.1" width="4.6" height="4.6" fill="#aeb8a8"/>
<rect x="931.9" y="233.1" width="4.6" height="4.6" fill="#6b7c54"/>
<rect x="935.9" y="233.1" width="4.6" height="4.6" fill="#aebbc2"/>
<rect x="939.9" y="233.1" width="4.6" height="4.6" fill="#f6fce5"/>
<rect x="943.9" y="233.1" width="4.6" height="4.6" fill="#dfe7f3"/>
<rect x="947.9" y="233.1" width="4.6" height="4.6" fill="#1d280d"/>
<rect x="951.9" y="233.1" width="4.6" height="4.6" fill="#131b0c"/>
<rect x="955.9" y="233.1" width="4.6" height="4.6" fill="#edf4ff"/>
<rect x="959.9" y="233.1" width="4.6" height="4.6" fill="#3f5220"/>
<rect x="963.9" y="233.1" width="4.6" height="4.6" fill="#66764f"/>
<rect x="967.9" y="233.1" width="4.6" height="4.6" fill="#2b3c1d"/>
<rect x="971.9" y="233.1" width="4.6" height="4.6" fill="#e9f2d7"/>
<rect x="975.9" y="233.1" width="4.6" height="4.6" fill="#99a699"/>
<rect x="851.9" y="237.1" width="4.6" height="4.6" fill="#66774e"/>
<rect x="855.9" y="237.1" width="4.6" height="4.6" fill="#798a5b"/>
<rect x="859.9" y="237.1" width="4.6" height="4.6" fill="#75856f"/>
<rect x="863.9" y="237.1" width="4.6" height="4.6" fill="#3d4f1e"/>
<rect x="867.9" y="237.1" width="4.6" height="4.6" fill="#2e4023"/>
<rect x="871.9" y="237.1" width="4.6" height="4.6" fill="#3b4e1c"/>
<rect x="875.9" y="237.1" width="4.6" height="4.6" fill="#95a384"/>
<rect x="879.9" y="237.1" width="4.6" height="4.6" fill="#5c6e45"/>
<rect x="883.9" y="237.1" width="4.6" height="4.6" fill="#7c8b67"/>
<rect x="887.9" y="237.1" width="4.6" height="4.6" fill="#adbabb"/>
<rect x="891.9" y="237.1" width="4.6" height="4.6" fill="#a6b491"/>
<rect x="895.9" y="237.1" width="4.6" height="4.6" fill="#65775a"/>
<rect x="899.9" y="237.1" width="4.6" height="4.6" fill="#0d1105"/>
<rect x="903.9" y="237.1" width="4.6" height="4.6" fill="#1a240f"/>
<rect x="907.9" y="237.1" width="4.6" height="4.6" fill="#141b0a"/>
<rect x="911.9" y="237.1" width="4.6" height="4.6" fill="#1c2710"/>
<rect x="915.9" y="237.1" width="4.6" height="4.6" fill="#929f82"/>
<rect x="919.9" y="237.1" width="4.6" height="4.6" fill="#18210c"/>
<rect x="923.9" y="237.1" width="4.6" height="4.6" fill="#adba9d"/>
<rect x="927.9" y="237.1" width="4.6" height="4.6" fill="#607358"/>
<rect x="931.9" y="237.1" width="4.6" height="4.6" fill="#7a8b7c"/>
<rect x="935.9" y="237.1" width="4.6" height="4.6" fill="#97a495"/>
<rect x="939.9" y="237.1" width="4.6" height="4.6" fill="#f5f9ef"/>
<rect x="943.9" y="237.1" width="4.6" height="4.6" fill="#e8edf0"/>
<rect x="947.9" y="237.1" width="4.6" height="4.6" fill="#151d0a"/>
<rect x="951.9" y="237.1" width="4.6" height="4.6" fill="#111804"/>
<rect x="955.9" y="237.1" width="4.6" height="4.6" fill="#637554"/>
<rect x="959.9" y="237.1" width="4.6" height="4.6" fill="#adb9b3"/>
<rect x="963.9" y="237.1" width="4.6" height="4.6" fill="#253416"/>
<rect x="967.9" y="237.1" width="4.6" height="4.6" fill="#2a3a15"/>
<rect x="971.9" y="237.1" width="4.6" height="4.6" fill="#edf4ff"/>
<rect x="975.9" y="237.1" width="4.6" height="4.6" fill="#92a29d"/>
<rect x="851.9" y="241.1" width="4.6" height="4.6" fill="#28391b"/>
<rect x="855.9" y="241.1" width="4.6" height="4.6" fill="#324424"/>
<rect x="859.9" y="241.1" width="4.6" height="4.6" fill="#10160a"/>
<rect x="863.9" y="241.1" width="4.6" height="4.6" fill="#0f160a"/>
<rect x="867.9" y="241.1" width="4.6" height="4.6" fill="#6a7c4c"/>
<rect x="871.9" y="241.1" width="4.6" height="4.6" fill="#556931"/>
<rect x="875.9" y="241.1" width="4.6" height="4.6" fill="#405225"/>
<rect x="879.9" y="241.1" width="4.6" height="4.6" fill="#253315"/>
<rect x="883.9" y="241.1" width="4.6" height="4.6" fill="#2a3a15"/>
<rect x="887.9" y="241.1" width="4.6" height="4.6" fill="#1a230a"/>
<rect x="891.9" y="241.1" width="4.6" height="4.6" fill="#5b6c3f"/>
<rect x="895.9" y="241.1" width="4.6" height="4.6" fill="#8e9c7c"/>
<rect x="899.9" y="241.1" width="4.6" height="4.6" fill="#485b27"/>
<rect x="903.9" y="241.1" width="4.6" height="4.6" fill="#51653f"/>
<rect x="907.9" y="241.1" width="4.6" height="4.6" fill="#171f06"/>
<rect x="911.9" y="241.1" width="4.6" height="4.6" fill="#586a41"/>
<rect x="915.9" y="241.1" width="4.6" height="4.6" fill="#cedab7"/>
<rect x="919.9" y="241.1" width="4.6" height="4.6" fill="#f5faee"/>
<rect x="923.9" y="241.1" width="4.6" height="4.6" fill="#849487"/>
<rect x="927.9" y="241.1" width="4.6" height="4.6" fill="#9ba692"/>
<rect x="931.9" y="241.1" width="4.6" height="4.6" fill="#86966c"/>
<rect x="935.9" y="241.1" width="4.6" height="4.6" fill="#b2bcac"/>
<rect x="939.9" y="241.1" width="4.6" height="4.6" fill="#c3ceb2"/>
<rect x="943.9" y="241.1" width="4.6" height="4.6" fill="#5e713b"/>
<rect x="947.9" y="241.1" width="4.6" height="4.6" fill="#1d280e"/>
<rect x="951.9" y="241.1" width="4.6" height="4.6" fill="#141c0a"/>
<rect x="955.9" y="241.1" width="4.6" height="4.6" fill="#a5b38d"/>
<rect x="959.9" y="241.1" width="4.6" height="4.6" fill="#516430"/>
<rect x="963.9" y="241.1" width="4.6" height="4.6" fill="#e4ecd4"/>
<rect x="967.9" y="241.1" width="4.6" height="4.6" fill="#ebf2db"/>
<rect x="971.9" y="241.1" width="4.6" height="4.6" fill="#899991"/>
<rect x="975.9" y="241.1" width="4.6" height="4.6" fill="#b4c0c0"/>
<rect x="851.9" y="245.1" width="4.6" height="4.6" fill="#25330f"/>
<rect x="855.9" y="245.1" width="4.6" height="4.6" fill="#3d4f2b"/>
<rect x="859.9" y="245.1" width="4.6" height="4.6" fill="#243215"/>
<rect x="863.9" y="245.1" width="4.6" height="4.6" fill="#2f4016"/>
<rect x="867.9" y="245.1" width="4.6" height="4.6" fill="#839176"/>
<rect x="871.9" y="245.1" width="4.6" height="4.6" fill="#839271"/>
<rect x="875.9" y="245.1" width="4.6" height="4.6" fill="#a3b289"/>
<rect x="879.9" y="245.1" width="4.6" height="4.6" fill="#79895f"/>
<rect x="883.9" y="245.1" width="4.6" height="4.6" fill="#445627"/>
<rect x="887.9" y="245.1" width="4.6" height="4.6" fill="#394a21"/>
<rect x="891.9" y="245.1" width="4.6" height="4.6" fill="#d5dbd6"/>
<rect x="895.9" y="245.1" width="4.6" height="4.6" fill="#7d8d7d"/>
<rect x="899.9" y="245.1" width="4.6" height="4.6" fill="#384a27"/>
<rect x="903.9" y="245.1" width="4.6" height="4.6" fill="#475b22"/>
<rect x="907.9" y="245.1" width="4.6" height="4.6" fill="#909d88"/>
<rect x="911.9" y="245.1" width="4.6" height="4.6" fill="#4e6341"/>
<rect x="915.9" y="245.1" width="4.6" height="4.6" fill="#d5dcd9"/>
<rect x="919.9" y="245.1" width="4.6" height="4.6" fill="#dfe8cf"/>
<rect x="923.9" y="245.1" width="4.6" height="4.6" fill="#cad5b8"/>
<rect x="927.9" y="245.1" width="4.6" height="4.6" fill="#eff5ff"/>
<rect x="931.9" y="245.1" width="4.6" height="4.6" fill="#9eab92"/>
<rect x="935.9" y="245.1" width="4.6" height="4.6" fill="#8e9e98"/>
<rect x="939.9" y="245.1" width="4.6" height="4.6" fill="#909e8f"/>
<rect x="943.9" y="245.1" width="4.6" height="4.6" fill="#6a7b5f"/>
<rect x="947.9" y="245.1" width="4.6" height="4.6" fill="#0f1505"/>
<rect x="951.9" y="245.1" width="4.6" height="4.6" fill="#101609"/>
<rect x="955.9" y="245.1" width="4.6" height="4.6" fill="#4f6134"/>
<rect x="959.9" y="245.1" width="4.6" height="4.6" fill="#2c3d13"/>
<rect x="963.9" y="245.1" width="4.6" height="4.6" fill="#aab5ac"/>
<rect x="967.9" y="245.1" width="4.6" height="4.6" fill="#b3c1c8"/>
<rect x="971.9" y="245.1" width="4.6" height="4.6" fill="#8e9b7e"/>
<rect x="975.9" y="245.1" width="4.6" height="4.6" fill="#6a7b5b"/>
<rect x="851.9" y="249.1" width="4.6" height="4.6" fill="#2a3917"/>
<rect x="855.9" y="249.1" width="4.6" height="4.6" fill="#92a276"/>
<rect x="859.9" y="249.1" width="4.6" height="4.6" fill="#c3cdd1"/>
<rect x="863.9" y="249.1" width="4.6" height="4.6" fill="#f2f6f7"/>
<rect x="867.9" y="249.1" width="4.6" height="4.6" fill="#627455"/>
<rect x="871.9" y="249.1" width="4.6" height="4.6" fill="#788a56"/>
<rect x="875.9" y="249.1" width="4.6" height="4.6" fill="#394d2d"/>
<rect x="879.9" y="249.1" width="4.6" height="4.6" fill="#596b3c"/>
<rect x="883.9" y="249.1" width="4.6" height="4.6" fill="#3a4d1a"/>
<rect x="887.9" y="249.1" width="4.6" height="4.6" fill="#465a38"/>
<rect x="891.9" y="249.1" width="4.6" height="4.6" fill="#475a32"/>
<rect x="895.9" y="249.1" width="4.6" height="4.6" fill="#24320f"/>
<rect x="899.9" y="249.1" width="4.6" height="4.6" fill="#212e12"/>
<rect x="903.9" y="249.1" width="4.6" height="4.6" fill="#334517"/>
<rect x="907.9" y="249.1" width="4.6" height="4.6" fill="#7b8b62"/>
<rect x="911.9" y="249.1" width="4.6" height="4.6" fill="#9aa8a1"/>
<rect x="915.9" y="249.1" width="4.6" height="4.6" fill="#cad2cf"/>
<rect x="919.9" y="249.1" width="4.6" height="4.6" fill="#8c9d6f"/>
<rect x="923.9" y="249.1" width="4.6" height="4.6" fill="#98a780"/>
<rect x="927.9" y="249.1" width="4.6" height="4.6" fill="#516332"/>
<rect x="931.9" y="249.1" width="4.6" height="4.6" fill="#4a5e25"/>
<rect x="935.9" y="249.1" width="4.6" height="4.6" fill="#263410"/>
<rect x="939.9" y="249.1" width="4.6" height="4.6" fill="#3a4d1a"/>
<rect x="943.9" y="249.1" width="4.6" height="4.6" fill="#1c2811"/>
<rect x="947.9" y="249.1" width="4.6" height="4.6" fill="#0f1504"/>
<rect x="951.9" y="249.1" width="4.6" height="4.6" fill="#1e2a0b"/>
<rect x="955.9" y="249.1" width="4.6" height="4.6" fill="#85968e"/>
<rect x="959.9" y="249.1" width="4.6" height="4.6" fill="#536746"/>
<rect x="963.9" y="249.1" width="4.6" height="4.6" fill="#f8ffe5"/>
<rect x="967.9" y="249.1" width="4.6" height="4.6" fill="#ccd7ba"/>
<rect x="971.9" y="249.1" width="4.6" height="4.6" fill="#7d8b6b"/>
<rect x="975.9" y="249.1" width="4.6" height="4.6" fill="#65785d"/>
<rect x="851.9" y="253.1" width="4.6" height="4.6" fill="#506428"/>
<rect x="855.9" y="253.1" width="4.6" height="4.6" fill="#4b5e35"/>
<rect x="859.9" y="253.1" width="4.6" height="4.6" fill="#8c9c70"/>
<rect x="863.9" y="253.1" width="4.6" height="4.6" fill="#324414"/>
<rect x="867.9" y="253.1" width="4.6" height="4.6" fill="#5a6e33"/>
<rect x="871.9" y="253.1" width="4.6" height="4.6" fill="#51662a"/>
<rect x="875.9" y="253.1" width="4.6" height="4.6" fill="#57693f"/>
<rect x="879.9" y="253.1" width="4.6" height="4.6" fill="#304018"/>
<rect x="883.9" y="253.1" width="4.6" height="4.6" fill="#3d4f1d"/>
<rect x="887.9" y="253.1" width="4.6" height="4.6" fill="#85956b"/>
<rect x="891.9" y="253.1" width="4.6" height="4.6" fill="#61724f"/>
<rect x="895.9" y="253.1" width="4.6" height="4.6" fill="#1d2809"/>
<rect x="899.9" y="253.1" width="4.6" height="4.6" fill="#202e17"/>
<rect x="903.9" y="253.1" width="4.6" height="4.6" fill="#2d3f10"/>
<rect x="907.9" y="253.1" width="4.6" height="4.6" fill="#a0af89"/>
<rect x="911.9" y="253.1" width="4.6" height="4.6" fill="#a7b2a3"/>
<rect x="915.9" y="253.1" width="4.6" height="4.6" fill="#202b0d"/>
<rect x="919.9" y="253.1" width="4.6" height="4.6" fill="#94a39f"/>
<rect x="923.9" y="253.1" width="4.6" height="4.6" fill="#1c2813"/>
<rect x="927.9" y="253.1" width="4.6" height="4.6" fill="#293a1c"/>
<rect x="931.9" y="253.1" width="4.6" height="4.6" fill="#283811"/>
<rect x="935.9" y="253.1" width="4.6" height="4.6" fill="#516542"/>
<rect x="939.9" y="253.1" width="4.6" height="4.6" fill="#384a25"/>
<rect x="943.9" y="253.1" width="4.6" height="4.6" fill="#293a1d"/>
<rect x="947.9" y="253.1" width="4.6" height="4.6" fill="#495b2d"/>
<rect x="951.9" y="253.1" width="4.6" height="4.6" fill="#738553"/>
<rect x="955.9" y="253.1" width="4.6" height="4.6" fill="#bdc6ba"/>
<rect x="959.9" y="253.1" width="4.6" height="4.6" fill="#c5cfd5"/>
<rect x="963.9" y="253.1" width="4.6" height="4.6" fill="#627352"/>
<rect x="967.9" y="253.1" width="4.6" height="4.6" fill="#394b1a"/>
<rect x="971.9" y="253.1" width="4.6" height="4.6" fill="#b3beba"/>
<rect x="975.9" y="253.1" width="4.6" height="4.6" fill="#d4dde3"/>
<rect x="851.9" y="257.1" width="4.6" height="4.6" fill="#8f9c8c"/>
<rect x="855.9" y="257.1" width="4.6" height="4.6" fill="#090c05"/>
<rect x="859.9" y="257.1" width="4.6" height="4.6" fill="#455629"/>
<rect x="863.9" y="257.1" width="4.6" height="4.6" fill="#293815"/>
<rect x="867.9" y="257.1" width="4.6" height="4.6" fill="#586b45"/>
<rect x="871.9" y="257.1" width="4.6" height="4.6" fill="#e5ebe0"/>
<rect x="875.9" y="257.1" width="4.6" height="4.6" fill="#344619"/>
<rect x="879.9" y="257.1" width="4.6" height="4.6" fill="#627351"/>
<rect x="883.9" y="257.1" width="4.6" height="4.6" fill="#6d7e65"/>
<rect x="887.9" y="257.1" width="4.6" height="4.6" fill="#879771"/>
<rect x="891.9" y="257.1" width="4.6" height="4.6" fill="#5b6e4b"/>
<rect x="895.9" y="257.1" width="4.6" height="4.6" fill="#2f4013"/>
<rect x="899.9" y="257.1" width="4.6" height="4.6" fill="#253310"/>
<rect x="903.9" y="257.1" width="4.6" height="4.6" fill="#54673e"/>
<rect x="907.9" y="257.1" width="4.6" height="4.6" fill="#283a1e"/>
<rect x="911.9" y="257.1" width="4.6" height="4.6" fill="#85947f"/>
<rect x="915.9" y="257.1" width="4.6" height="4.6" fill="#212f17"/>
<rect x="919.9" y="257.1" width="4.6" height="4.6" fill="#36481d"/>
<rect x="923.9" y="257.1" width="4.6" height="4.6" fill="#101606"/>
<rect x="927.9" y="257.1" width="4.6" height="4.6" fill="#121a0c"/>
<rect x="931.9" y="257.1" width="4.6" height="4.6" fill="#1c260b"/>
<rect x="935.9" y="257.1" width="4.6" height="4.6" fill="#5e704f"/>
<rect x="939.9" y="257.1" width="4.6" height="4.6" fill="#1f2a0e"/>
<rect x="943.9" y="257.1" width="4.6" height="4.6" fill="#1d270c"/>
<rect x="947.9" y="257.1" width="4.6" height="4.6" fill="#4d6129"/>
<rect x="951.9" y="257.1" width="4.6" height="4.6" fill="#3f5125"/>
<rect x="955.9" y="257.1" width="4.6" height="4.6" fill="#c0c9bc"/>
<rect x="959.9" y="257.1" width="4.6" height="4.6" fill="#82917b"/>
<rect x="963.9" y="257.1" width="4.6" height="4.6" fill="#304213"/>
<rect x="967.9" y="257.1" width="4.6" height="4.6" fill="#b2bebf"/>
<rect x="971.9" y="257.1" width="4.6" height="4.6" fill="#eff5ff"/>
<rect x="975.9" y="257.1" width="4.6" height="4.6" fill="#d5dee5"/>
<rect x="851.9" y="261.1" width="4.6" height="4.6" fill="#161e07"/>
<rect x="855.9" y="261.1" width="4.6" height="4.6" fill="#43562f"/>
<rect x="859.9" y="261.1" width="4.6" height="4.6" fill="#0f1504"/>
<rect x="863.9" y="261.1" width="4.6" height="4.6" fill="#0d1106"/>
<rect x="867.9" y="261.1" width="4.6" height="4.6" fill="#5e7237"/>
<rect x="871.9" y="261.1" width="4.6" height="4.6" fill="#4e622a"/>
<rect x="875.9" y="261.1" width="4.6" height="4.6" fill="#a7b498"/>
<rect x="879.9" y="261.1" width="4.6" height="4.6" fill="#1f2b12"/>
<rect x="883.9" y="261.1" width="4.6" height="4.6" fill="#85956b"/>
<rect x="887.9" y="261.1" width="4.6" height="4.6" fill="#6b7c55"/>
<rect x="891.9" y="261.1" width="4.6" height="4.6" fill="#b6c3a1"/>
<rect x="895.9" y="261.1" width="4.6" height="4.6" fill="#a0ab97"/>
<rect x="899.9" y="261.1" width="4.6" height="4.6" fill="#c8d2d6"/>
<rect x="903.9" y="261.1" width="4.6" height="4.6" fill="#93a39f"/>
<rect x="907.9" y="261.1" width="4.6" height="4.6" fill="#34441d"/>
<rect x="911.9" y="261.1" width="4.6" height="4.6" fill="#161f09"/>
<rect x="915.9" y="261.1" width="4.6" height="4.6" fill="#293911"/>
<rect x="919.9" y="261.1" width="4.6" height="4.6" fill="#111707"/>
<rect x="923.9" y="261.1" width="4.6" height="4.6" fill="#141b05"/>
<rect x="927.9" y="261.1" width="4.6" height="4.6" fill="#111705"/>
<rect x="931.9" y="261.1" width="4.6" height="4.6" fill="#4f633f"/>
<rect x="935.9" y="261.1" width="4.6" height="4.6" fill="#5f7254"/>
<rect x="939.9" y="261.1" width="4.6" height="4.6" fill="#93a298"/>
<rect x="943.9" y="261.1" width="4.6" height="4.6" fill="#b8c2ae"/>
<rect x="947.9" y="261.1" width="4.6" height="4.6" fill="#f5f9ef"/>
<rect x="951.9" y="261.1" width="4.6" height="4.6" fill="#f3f6f5"/>
<rect x="955.9" y="261.1" width="4.6" height="4.6" fill="#1a2409"/>
<rect x="959.9" y="261.1" width="4.6" height="4.6" fill="#36471d"/>
<rect x="963.9" y="261.1" width="4.6" height="4.6" fill="#8a9887"/>
<rect x="967.9" y="261.1" width="4.6" height="4.6" fill="#b0bd9e"/>
<rect x="971.9" y="261.1" width="4.6" height="4.6" fill="#4f622f"/>
<rect x="975.9" y="261.1" width="4.6" height="4.6" fill="#808f79"/>
<rect x="851.9" y="265.1" width="4.6" height="4.6" fill="#283714"/>
<rect x="855.9" y="265.1" width="4.6" height="4.6" fill="#1f2b0f"/>
<rect x="859.9" y="265.1" width="4.6" height="4.6" fill="#101609"/>
<rect x="863.9" y="265.1" width="4.6" height="4.6" fill="#11180a"/>
<rect x="867.9" y="265.1" width="4.6" height="4.6" fill="#1f2b0c"/>
<rect x="871.9" y="265.1" width="4.6" height="4.6" fill="#6e7e60"/>
<rect x="875.9" y="265.1" width="4.6" height="4.6" fill="#7b8b78"/>
<rect x="879.9" y="265.1" width="4.6" height="4.6" fill="#dae3ee"/>
<rect x="883.9" y="265.1" width="4.6" height="4.6" fill="#9dab8b"/>
<rect x="887.9" y="265.1" width="4.6" height="4.6" fill="#c2cbc6"/>
<rect x="891.9" y="265.1" width="4.6" height="4.6" fill="#99a593"/>
<rect x="895.9" y="265.1" width="4.6" height="4.6" fill="#869477"/>
<rect x="899.9" y="265.1" width="4.6" height="4.6" fill="#455936"/>
<rect x="903.9" y="265.1" width="4.6" height="4.6" fill="#556835"/>
<rect x="907.9" y="265.1" width="4.6" height="4.6" fill="#253316"/>
<rect x="911.9" y="265.1" width="4.6" height="4.6" fill="#1c270f"/>
<rect x="915.9" y="265.1" width="4.6" height="4.6" fill="#1c2814"/>
<rect x="919.9" y="265.1" width="4.6" height="4.6" fill="#18210f"/>
<rect x="923.9" y="265.1" width="4.6" height="4.6" fill="#101606"/>
<rect x="927.9" y="265.1" width="4.6" height="4.6" fill="#192310"/>
<rect x="931.9" y="265.1" width="4.6" height="4.6" fill="#5d6f3d"/>
<rect x="935.9" y="265.1" width="4.6" height="4.6" fill="#435735"/>
<rect x="939.9" y="265.1" width="4.6" height="4.6" fill="#9cacad"/>
<rect x="943.9" y="265.1" width="4.6" height="4.6" fill="#f6fbeb"/>
<rect x="947.9" y="265.1" width="4.6" height="4.6" fill="#f0f8e0"/>
<rect x="951.9" y="265.1" width="4.6" height="4.6" fill="#e0e8d5"/>
<rect x="955.9" y="265.1" width="4.6" height="4.6" fill="#34451d"/>
<rect x="959.9" y="265.1" width="4.6" height="4.6" fill="#475a22"/>
<rect x="963.9" y="265.1" width="4.6" height="4.6" fill="#c4ccc3"/>
<rect x="967.9" y="265.1" width="4.6" height="4.6" fill="#abb995"/>
<rect x="971.9" y="265.1" width="4.6" height="4.6" fill="#8d9b8a"/>
<rect x="975.9" y="265.1" width="4.6" height="4.6" fill="#71815a"/>
<rect x="851.9" y="269.1" width="4.6" height="4.6" fill="#283715"/>
<rect x="855.9" y="269.1" width="4.6" height="4.6" fill="#495c27"/>
<rect x="859.9" y="269.1" width="4.6" height="4.6" fill="#121806"/>
<rect x="863.9" y="269.1" width="4.6" height="4.6" fill="#121905"/>
<rect x="867.9" y="269.1" width="4.6" height="4.6" fill="#77875f"/>
<rect x="871.9" y="269.1" width="4.6" height="4.6" fill="#607539"/>
<rect x="875.9" y="269.1" width="4.6" height="4.6" fill="#657649"/>
<rect x="879.9" y="269.1" width="4.6" height="4.6" fill="#697955"/>
<rect x="883.9" y="269.1" width="4.6" height="4.6" fill="#4f633b"/>
<rect x="887.9" y="269.1" width="4.6" height="4.6" fill="#e4edd1"/>
<rect x="891.9" y="269.1" width="4.6" height="4.6" fill="#758777"/>
<rect x="895.9" y="269.1" width="4.6" height="4.6" fill="#eff5e7"/>
<rect x="899.9" y="269.1" width="4.6" height="4.6" fill="#546639"/>
<rect x="903.9" y="269.1" width="4.6" height="4.6" fill="#2f411f"/>
<rect x="907.9" y="269.1" width="4.6" height="4.6" fill="#3a4c1a"/>
<rect x="911.9" y="269.1" width="4.6" height="4.6" fill="#3c4e1e"/>
<rect x="915.9" y="269.1" width="4.6" height="4.6" fill="#a3af98"/>
<rect x="919.9" y="269.1" width="4.6" height="4.6" fill="#5a6b41"/>
<rect x="923.9" y="269.1" width="4.6" height="4.6" fill="#9baa80"/>
<rect x="927.9" y="269.1" width="4.6" height="4.6" fill="#8b9986"/>
<rect x="931.9" y="269.1" width="4.6" height="4.6" fill="#5a6c47"/>
<rect x="935.9" y="269.1" width="4.6" height="4.6" fill="#a6b58c"/>
<rect x="939.9" y="269.1" width="4.6" height="4.6" fill="#e7eef8"/>
<rect x="943.9" y="269.1" width="4.6" height="4.6" fill="#f1f6f9"/>
<rect x="947.9" y="269.1" width="4.6" height="4.6" fill="#ecf1f6"/>
<rect x="951.9" y="269.1" width="4.6" height="4.6" fill="#e0e6db"/>
<rect x="955.9" y="269.1" width="4.6" height="4.6" fill="#a5b48b"/>
<rect x="959.9" y="269.1" width="4.6" height="4.6" fill="#dae0dc"/>
<rect x="963.9" y="269.1" width="4.6" height="4.6" fill="#bfcbd4"/>
<rect x="967.9" y="269.1" width="4.6" height="4.6" fill="#99a7a4"/>
<rect x="971.9" y="269.1" width="4.6" height="4.6" fill="#95a5a0"/>
<rect x="975.9" y="269.1" width="4.6" height="4.6" fill="#f7fde8"/>
<rect x="851.9" y="273.1" width="4.6" height="4.6" fill="#435524"/>
<rect x="855.9" y="273.1" width="4.6" height="4.6" fill="#415420"/>
<rect x="859.9" y="273.1" width="4.6" height="4.6" fill="#111606"/>
<rect x="863.9" y="273.1" width="4.6" height="4.6" fill="#101609"/>
<rect x="867.9" y="273.1" width="4.6" height="4.6" fill="#a7b68e"/>
<rect x="871.9" y="273.1" width="4.6" height="4.6" fill="#4e612a"/>
<rect x="875.9" y="273.1" width="4.6" height="4.6" fill="#23300c"/>
<rect x="879.9" y="273.1" width="4.6" height="4.6" fill="#d9e0dd"/>
<rect x="883.9" y="273.1" width="4.6" height="4.6" fill="#a4b2b6"/>
<rect x="887.9" y="273.1" width="4.6" height="4.6" fill="#a4af9b"/>
<rect x="891.9" y="273.1" width="4.6" height="4.6" fill="#919f7f"/>
<rect x="895.9" y="273.1" width="4.6" height="4.6" fill="#92a091"/>
<rect x="899.9" y="273.1" width="4.6" height="4.6" fill="#4c6029"/>
<rect x="903.9" y="273.1" width="4.6" height="4.6" fill="#455827"/>
<rect x="907.9" y="273.1" width="4.6" height="4.6" fill="#a0ac9e"/>
<rect x="911.9" y="273.1" width="4.6" height="4.6" fill="#465a37"/>
<rect x="915.9" y="273.1" width="4.6" height="4.6" fill="#bcc6b2"/>
<rect x="919.9" y="273.1" width="4.6" height="4.6" fill="#576b2f"/>
<rect x="923.9" y="273.1" width="4.6" height="4.6" fill="#c1ccd1"/>
<rect x="927.9" y="273.1" width="4.6" height="4.6" fill="#6d7e64"/>
<rect x="931.9" y="273.1" width="4.6" height="4.6" fill="#bfc8bf"/>
<rect x="935.9" y="273.1" width="4.6" height="4.6" fill="#8b9c6d"/>
<rect x="939.9" y="273.1" width="4.6" height="4.6" fill="#f0f5fc"/>
<rect x="943.9" y="273.1" width="4.6" height="4.6" fill="#f0f7e1"/>
<rect x="947.9" y="273.1" width="4.6" height="4.6" fill="#c2cbc9"/>
<rect x="951.9" y="273.1" width="4.6" height="4.6" fill="#c1ccd2"/>
<rect x="955.9" y="273.1" width="4.6" height="4.6" fill="#bdc6bc"/>
<rect x="959.9" y="273.1" width="4.6" height="4.6" fill="#e1e8dc"/>
<rect x="963.9" y="273.1" width="4.6" height="4.6" fill="#c0cab8"/>
<rect x="967.9" y="273.1" width="4.6" height="4.6" fill="#808e6f"/>
<rect x="971.9" y="273.1" width="4.6" height="4.6" fill="#d2ddbd"/>
<rect x="975.9" y="273.1" width="4.6" height="4.6" fill="#e3e9eb"/>
<rect x="851.9" y="277.1" width="4.6" height="4.6" fill="#5c6e49"/>
<rect x="855.9" y="277.1" width="4.6" height="4.6" fill="#23310d"/>
<rect x="859.9" y="277.1" width="4.6" height="4.6" fill="#778857"/>
<rect x="863.9" y="277.1" width="4.6" height="4.6" fill="#97a38c"/>
<rect x="867.9" y="277.1" width="4.6" height="4.6" fill="#3c4d25"/>
<rect x="871.9" y="277.1" width="4.6" height="4.6" fill="#697b4e"/>
<rect x="875.9" y="277.1" width="4.6" height="4.6" fill="#212d13"/>
<rect x="879.9" y="277.1" width="4.6" height="4.6" fill="#6a7d66"/>
<rect x="883.9" y="277.1" width="4.6" height="4.6" fill="#596b3b"/>
<rect x="887.9" y="277.1" width="4.6" height="4.6" fill="#dee7cf"/>
<rect x="891.9" y="277.1" width="4.6" height="4.6" fill="#f6fbeb"/>
<rect x="895.9" y="277.1" width="4.6" height="4.6" fill="#546848"/>
<rect x="899.9" y="277.1" width="4.6" height="4.6" fill="#243217"/>
<rect x="903.9" y="277.1" width="4.6" height="4.6" fill="#485a29"/>
<rect x="907.9" y="277.1" width="4.6" height="4.6" fill="#4e613a"/>
<rect x="911.9" y="277.1" width="4.6" height="4.6" fill="#4b5e26"/>
<rect x="915.9" y="277.1" width="4.6" height="4.6" fill="#536641"/>
<rect x="919.9" y="277.1" width="4.6" height="4.6" fill="#556735"/>
<rect x="923.9" y="277.1" width="4.6" height="4.6" fill="#bdc6bc"/>
<rect x="927.9" y="277.1" width="4.6" height="4.6" fill="#788762"/>
<rect x="931.9" y="277.1" width="4.6" height="4.6" fill="#161e08"/>
<rect x="935.9" y="277.1" width="4.6" height="4.6" fill="#2d3d18"/>
<rect x="939.9" y="277.1" width="4.6" height="4.6" fill="#c2cfac"/>
<rect x="943.9" y="277.1" width="4.6" height="4.6" fill="#8d9c92"/>
<rect x="947.9" y="277.1" width="4.6" height="4.6" fill="#5a6d36"/>
<rect x="951.9" y="277.1" width="4.6" height="4.6" fill="#a6b297"/>
<rect x="955.9" y="277.1" width="4.6" height="4.6" fill="#6f8150"/>
<rect x="959.9" y="277.1" width="4.6" height="4.6" fill="#becaab"/>
<rect x="963.9" y="277.1" width="4.6" height="4.6" fill="#768566"/>
<rect x="967.9" y="277.1" width="4.6" height="4.6" fill="#75866f"/>
<rect x="971.9" y="277.1" width="4.6" height="4.6" fill="#485a31"/>
<rect x="975.9" y="277.1" width="4.6" height="4.6" fill="#869474"/>
<rect x="851.9" y="281.1" width="4.6" height="4.6" fill="#2b3c16"/>
<rect x="855.9" y="281.1" width="4.6" height="4.6" fill="#324418"/>
<rect x="859.9" y="281.1" width="4.6" height="4.6" fill="#b5c1c5"/>
<rect x="863.9" y="281.1" width="4.6" height="4.6" fill="#243212"/>
<rect x="867.9" y="281.1" width="4.6" height="4.6" fill="#7d8b70"/>
<rect x="871.9" y="281.1" width="4.6" height="4.6" fill="#9dad80"/>
<rect x="875.9" y="281.1" width="4.6" height="4.6" fill="#4a5c2f"/>
<rect x="879.9" y="281.1" width="4.6" height="4.6" fill="#758464"/>
<rect x="883.9" y="281.1" width="4.6" height="4.6" fill="#607252"/>
<rect x="887.9" y="281.1" width="4.6" height="4.6" fill="#4f633c"/>
<rect x="891.9" y="281.1" width="4.6" height="4.6" fill="#7a8b5e"/>
<rect x="895.9" y="281.1" width="4.6" height="4.6" fill="#637449"/>
<rect x="899.9" y="281.1" width="4.6" height="4.6" fill="#2c3e21"/>
<rect x="903.9" y="281.1" width="4.6" height="4.6" fill="#465827"/>
<rect x="907.9" y="281.1" width="4.6" height="4.6" fill="#3b4d22"/>
<rect x="911.9" y="281.1" width="4.6" height="4.6" fill="#647654"/>
<rect x="915.9" y="281.1" width="4.6" height="4.6" fill="#607251"/>
<rect x="919.9" y="281.1" width="4.6" height="4.6" fill="#73836c"/>
<rect x="923.9" y="281.1" width="4.6" height="4.6" fill="#394c1b"/>
<rect x="927.9" y="281.1" width="4.6" height="4.6" fill="#4a5d2a"/>
<rect x="931.9" y="281.1" width="4.6" height="4.6" fill="#151c08"/>
<rect x="935.9" y="281.1" width="4.6" height="4.6" fill="#2c3c14"/>
<rect x="939.9" y="281.1" width="4.6" height="4.6" fill="#7d8b6d"/>
<rect x="943.9" y="281.1" width="4.6" height="4.6" fill="#d9e2ec"/>
<rect x="947.9" y="281.1" width="4.6" height="4.6" fill="#839369"/>
<rect x="951.9" y="281.1" width="4.6" height="4.6" fill="#5d7039"/>
<rect x="955.9" y="281.1" width="4.6" height="4.6" fill="#6a7a58"/>
<rect x="959.9" y="281.1" width="4.6" height="4.6" fill="#7e905e"/>
<rect x="963.9" y="281.1" width="4.6" height="4.6" fill="#8d9c96"/>
<rect x="967.9" y="281.1" width="4.6" height="4.6" fill="#798768"/>
<rect x="971.9" y="281.1" width="4.6" height="4.6" fill="#9caaa9"/>
<rect x="975.9" y="281.1" width="4.6" height="4.6" fill="#95a37f"/>
<rect x="851.9" y="285.1" width="4.6" height="4.6" fill="#25351a"/>
<rect x="855.9" y="285.1" width="4.6" height="4.6" fill="#2d3f1e"/>
<rect x="859.9" y="285.1" width="4.6" height="4.6" fill="#73846c"/>
<rect x="863.9" y="285.1" width="4.6" height="4.6" fill="#141b09"/>
<rect x="867.9" y="285.1" width="4.6" height="4.6" fill="#708060"/>
<rect x="871.9" y="285.1" width="4.6" height="4.6" fill="#63765d"/>
<rect x="875.9" y="285.1" width="4.6" height="4.6" fill="#334516"/>
<rect x="879.9" y="285.1" width="4.6" height="4.6" fill="#c3ced5"/>
<rect x="883.9" y="285.1" width="4.6" height="4.6" fill="#869376"/>
<rect x="887.9" y="285.1" width="4.6" height="4.6" fill="#5d6f4f"/>
<rect x="891.9" y="285.1" width="4.6" height="4.6" fill="#1a240d"/>
<rect x="895.9" y="285.1" width="4.6" height="4.6" fill="#243113"/>
<rect x="899.9" y="285.1" width="4.6" height="4.6" fill="#36481a"/>
<rect x="903.9" y="285.1" width="4.6" height="4.6" fill="#4c613f"/>
<rect x="907.9" y="285.1" width="4.6" height="4.6" fill="#647656"/>
<rect x="911.9" y="285.1" width="4.6" height="4.6" fill="#6c7c51"/>
<rect x="915.9" y="285.1" width="4.6" height="4.6" fill="#657649"/>
<rect x="919.9" y="285.1" width="4.6" height="4.6" fill="#b9c4c5"/>
<rect x="923.9" y="285.1" width="4.6" height="4.6" fill="#8d9c93"/>
<rect x="927.9" y="285.1" width="4.6" height="4.6" fill="#728369"/>
<rect x="931.9" y="285.1" width="4.6" height="4.6" fill="#a7b68f"/>
<rect x="935.9" y="285.1" width="4.6" height="4.6" fill="#808f76"/>
<rect x="939.9" y="285.1" width="4.6" height="4.6" fill="#61743d"/>
<rect x="943.9" y="285.1" width="4.6" height="4.6" fill="#b2bf9e"/>
<rect x="947.9" y="285.1" width="4.6" height="4.6" fill="#a4b2b4"/>
<rect x="951.9" y="285.1" width="4.6" height="4.6" fill="#768670"/>
<rect x="955.9" y="285.1" width="4.6" height="4.6" fill="#798a5d"/>
<rect x="959.9" y="285.1" width="4.6" height="4.6" fill="#293910"/>
<rect x="963.9" y="285.1" width="4.6" height="4.6" fill="#d8e2c4"/>
<rect x="967.9" y="285.1" width="4.6" height="4.6" fill="#f1f9dd"/>
<rect x="971.9" y="285.1" width="4.6" height="4.6" fill="#445724"/>
<rect x="975.9" y="285.1" width="4.6" height="4.6" fill="#a9b6b5"/>
<rect x="851.9" y="289.1" width="4.6" height="4.6" fill="#2b3c19"/>
<rect x="855.9" y="289.1" width="4.6" height="4.6" fill="#26361c"/>
<rect x="859.9" y="289.1" width="4.6" height="4.6" fill="#e6eed5"/>
<rect x="863.9" y="289.1" width="4.6" height="4.6" fill="#c3ccbb"/>
<rect x="867.9" y="289.1" width="4.6" height="4.6" fill="#6a7b4d"/>
<rect x="871.9" y="289.1" width="4.6" height="4.6" fill="#6b7c51"/>
<rect x="875.9" y="289.1" width="4.6" height="4.6" fill="#aab5a2"/>
<rect x="879.9" y="289.1" width="4.6" height="4.6" fill="#809186"/>
<rect x="883.9" y="289.1" width="4.6" height="4.6" fill="#b7c3a4"/>
<rect x="887.9" y="289.1" width="4.6" height="4.6" fill="#afbb9f"/>
<rect x="891.9" y="289.1" width="4.6" height="4.6" fill="#5b7034"/>
<rect x="895.9" y="289.1" width="4.6" height="4.6" fill="#4e612e"/>
<rect x="899.9" y="289.1" width="4.6" height="4.6" fill="#334524"/>
<rect x="903.9" y="289.1" width="4.6" height="4.6" fill="#4b5d31"/>
<rect x="907.9" y="289.1" width="4.6" height="4.6" fill="#5c7038"/>
<rect x="911.9" y="289.1" width="4.6" height="4.6" fill="#8f9e79"/>
<rect x="915.9" y="289.1" width="4.6" height="4.6" fill="#c8d0c3"/>
<rect x="919.9" y="289.1" width="4.6" height="4.6" fill="#50632d"/>
<rect x="923.9" y="289.1" width="4.6" height="4.6" fill="#7c8b64"/>
<rect x="927.9" y="289.1" width="4.6" height="4.6" fill="#909f97"/>
<rect x="931.9" y="289.1" width="4.6" height="4.6" fill="#abb5a7"/>
<rect x="935.9" y="289.1" width="4.6" height="4.6" fill="#6b7d4b"/>
<rect x="939.9" y="289.1" width="4.6" height="4.6" fill="#354828"/>
<rect x="943.9" y="289.1" width="4.6" height="4.6" fill="#344623"/>
<rect x="947.9" y="289.1" width="4.6" height="4.6" fill="#637447"/>
<rect x="951.9" y="289.1" width="4.6" height="4.6" fill="#8f9f75"/>
<rect x="955.9" y="289.1" width="4.6" height="4.6" fill="#536537"/>
<rect x="959.9" y="289.1" width="4.6" height="4.6" fill="#8b9880"/>
<rect x="963.9" y="289.1" width="4.6" height="4.6" fill="#d7dee1"/>
<rect x="967.9" y="289.1" width="4.6" height="4.6" fill="#adba9b"/>
<rect x="971.9" y="289.1" width="4.6" height="4.6" fill="#70826a"/>
<rect x="975.9" y="289.1" width="4.6" height="4.6" fill="#87947a"/>
<rect x="851.9" y="293.1" width="4.6" height="4.6" fill="#27371a"/>
<rect x="855.9" y="293.1" width="4.6" height="4.6" fill="#2c3c18"/>
<rect x="859.9" y="293.1" width="4.6" height="4.6" fill="#819167"/>
<rect x="863.9" y="293.1" width="4.6" height="4.6" fill="#5a6e33"/>
<rect x="867.9" y="293.1" width="4.6" height="4.6" fill="#222f0e"/>
<rect x="871.9" y="293.1" width="4.6" height="4.6" fill="#889892"/>
<rect x="875.9" y="293.1" width="4.6" height="4.6" fill="#7e8c70"/>
<rect x="879.9" y="293.1" width="4.6" height="4.6" fill="#77885b"/>
<rect x="883.9" y="293.1" width="4.6" height="4.6" fill="#3b4d20"/>
<rect x="887.9" y="293.1" width="4.6" height="4.6" fill="#4f633b"/>
<rect x="891.9" y="293.1" width="4.6" height="4.6" fill="#334418"/>
<rect x="895.9" y="293.1" width="4.6" height="4.6" fill="#3a4c2a"/>
<rect x="899.9" y="293.1" width="4.6" height="4.6" fill="#131a06"/>
<rect x="903.9" y="293.1" width="4.6" height="4.6" fill="#11180b"/>
<rect x="907.9" y="293.1" width="4.6" height="4.6" fill="#9fae84"/>
<rect x="911.9" y="293.1" width="4.6" height="4.6" fill="#435429"/>
<rect x="915.9" y="293.1" width="4.6" height="4.6" fill="#8e9d91"/>
<rect x="919.9" y="293.1" width="4.6" height="4.6" fill="#677a43"/>
<rect x="923.9" y="293.1" width="4.6" height="4.6" fill="#95a288"/>
<rect x="927.9" y="293.1" width="4.6" height="4.6" fill="#87988f"/>
<rect x="931.9" y="293.1" width="4.6" height="4.6" fill="#869587"/>
<rect x="935.9" y="293.1" width="4.6" height="4.6" fill="#7e8f5f"/>
<rect x="939.9" y="293.1" width="4.6" height="4.6" fill="#64773e"/>
<rect x="943.9" y="293.1" width="4.6" height="4.6" fill="#243216"/>
<rect x="947.9" y="293.1" width="4.6" height="4.6" fill="#3b4e2e"/>
<rect x="951.9" y="293.1" width="4.6" height="4.6" fill="#5f7049"/>
<rect x="955.9" y="293.1" width="4.6" height="4.6" fill="#4a5d26"/>
<rect x="959.9" y="293.1" width="4.6" height="4.6" fill="#445625"/>
<rect x="963.9" y="293.1" width="4.6" height="4.6" fill="#9ba89d"/>
<rect x="967.9" y="293.1" width="4.6" height="4.6" fill="#819264"/>
<rect x="971.9" y="293.1" width="4.6" height="4.6" fill="#f8ffe3"/>
<rect x="975.9" y="293.1" width="4.6" height="4.6" fill="#89977a"/>
</g>
<g filter="url(#bl2)"><text transform="translate(857.6,184.2) scale(0.95,1)" font-size="17" font-weight="bold" fill="#d4d9ce">45 °C</text>
<line x1="857.6" y1="287.5" x2="890.8" y2="287.5" stroke="#eef2ea" stroke-width="2.2"/>
<text transform="translate(860.2,283.2) scale(0.86,1)" font-size="12.5" font-weight="bold" fill="#d8dfd2" opacity="0.75">10 µm</text></g>
</svg>
<rect x="707" y="169.1" width="1.8" height="125" fill="#b8bdb6"/>
<rect x="716.9" y="169.1" width="2" height="125" fill="#5f6b62"/>
<rect x="842.9" y="169.1" width="1.9" height="125" fill="#b8bdb6"/>
<rect x="851.9" y="169.1" width="2" height="125" fill="#5f6b62"/>
<g filter="url(#bl2)">
<circle cx="635.6" cy="184.1" r="2.2" fill="#30c038"/>
<circle cx="628.2" cy="196.4" r="2.2" fill="#30c038"/>
<circle cx="644.1" cy="196.7" r="2.2" fill="#30c038"/>
<circle cx="657" cy="197.2" r="2.2" fill="#30c038"/>
<circle cx="670.3" cy="195.2" r="2.2" fill="#30c038"/>
<circle cx="685.5" cy="199.8" r="2.2" fill="#30c038"/>
<circle cx="696.8" cy="206" r="2.2" fill="#30c038"/>
<circle cx="624.8" cy="209.4" r="2.2" fill="#30c038"/>
<circle cx="618.4" cy="222.2" r="2.2" fill="#30c038"/>
<circle cx="610.2" cy="236" r="2.2" fill="#30c038"/>
<circle cx="608.5" cy="249.1" r="2.2" fill="#30c038"/>
<circle cx="618.7" cy="258.1" r="2.2" fill="#30c038"/>
<circle cx="628.5" cy="267.6" r="2.2" fill="#30c038"/>
<circle cx="634.7" cy="282.3" r="2.2" fill="#30c038"/>
<circle cx="651.8" cy="282.3" r="2.2" fill="#30c038"/>
<circle cx="642.6" cy="292.3" r="2.2" fill="#30c038"/>
<circle cx="661.4" cy="270.7" r="2.2" fill="#30c038"/>
<circle cx="669.8" cy="264.8" r="2.2" fill="#30c038"/>
<circle cx="674.1" cy="249.1" r="2.2" fill="#30c038"/>
<circle cx="678.8" cy="237.9" r="2.2" fill="#30c038"/>
<circle cx="683.7" cy="222.2" r="2.2" fill="#30c038"/>
<circle cx="765.8" cy="180.6" r="2.2" fill="#30c038"/>
<circle cx="757.8" cy="191.8" r="2.2" fill="#30c038"/>
<circle cx="773.5" cy="192.4" r="2.2" fill="#30c038"/>
<circle cx="786.9" cy="193.7" r="2.2" fill="#30c038"/>
<circle cx="799.7" cy="191.8" r="2.2" fill="#30c038"/>
<circle cx="814.8" cy="196.4" r="2.2" fill="#30c038"/>
<circle cx="826.3" cy="202.6" r="2.2" fill="#30c038"/>
<circle cx="754.5" cy="205.4" r="2.2" fill="#30c038"/>
<circle cx="813.2" cy="218.6" r="2.2" fill="#30c038"/>
<circle cx="747.7" cy="218.6" r="2.2" fill="#30c038"/>
<circle cx="808.1" cy="233.7" r="2.2" fill="#30c038"/>
<circle cx="740.8" cy="232.2" r="2.2" fill="#30c038"/>
<circle cx="803.5" cy="246" r="2.2" fill="#30c038"/>
<circle cx="738" cy="245.3" r="2.2" fill="#30c038"/>
<circle cx="748.4" cy="253.4" r="2.2" fill="#30c038"/>
<circle cx="802" cy="259.9" r="2.2" fill="#30c038"/>
<circle cx="758.4" cy="264.5" r="2.2" fill="#30c038"/>
<circle cx="790.4" cy="266.1" r="2.2" fill="#30c038"/>
<circle cx="764.7" cy="277.6" r="2.2" fill="#30c038"/>
<circle cx="781.2" cy="278.1" r="2.2" fill="#30c038"/>
<circle cx="772.2" cy="288.4" r="2.2" fill="#30c038"/>
<circle cx="662.1" cy="243.3" r="4.6" fill="#f2e200"/>
<circle cx="792.4" cy="239.1" r="4.8" fill="#f2e200"/>
<circle cx="929.7" cy="239.7" r="5" fill="#f2e200"/>
</g>
<g filter="url(#bl3)">
<circle cx="777.3" cy="227.3" r="4.5" fill="#eef2ea"/>
<circle cx="784.7" cy="243" r="3" fill="#e8ece4"/>
<circle cx="802.9" cy="258.6" r="3.5" fill="#e8ece4"/>
<circle cx="817.1" cy="280" r="5.5" fill="#f0f2ec"/>
<circle cx="788.7" cy="181.6" r="3" fill="#dfe5da"/>
<circle cx="817.9" cy="210" r="3.2" fill="#e4e8e0"/>
<circle cx="809" cy="270" r="4" fill="#0a0c06"/>
<circle cx="939.4" cy="238.4" r="4.5" fill="#eef2ea"/>
<circle cx="965.7" cy="218.4" r="3.5" fill="#e4e8e0"/>
<circle cx="958" cy="249.2" r="4" fill="#e8ece4"/>
<circle cx="948.7" cy="269.3" r="4.5" fill="#eef0ea"/>
<circle cx="970.3" cy="277" r="3.5" fill="#e4e8e0"/>
<circle cx="937.9" cy="180.6" r="3.5" fill="#dde3d8"/>
</g>
<g filter="url(#bl3)"><rect x="857" y="247" width="19" height="6" rx="3" fill="#d8dfd2"/><rect x="880" y="263" width="20" height="6" rx="3" fill="#c8d0c0" opacity="0.8"/></g>
<g filter="url(#bl3)"><circle cx="785" cy="228" r="19" fill="none" stroke="#b8c0a8" stroke-width="2" opacity="0.5"/></g>
<g filter="url(#bl3)"><path d="M899.5,240 C896.5,222 905,212.5 916,212.5 C927,212.5 933.5,221 931.5,236" fill="none" stroke="#a8b890" stroke-width="2.4" opacity="0.75"/></g>
</svg></body></html>
